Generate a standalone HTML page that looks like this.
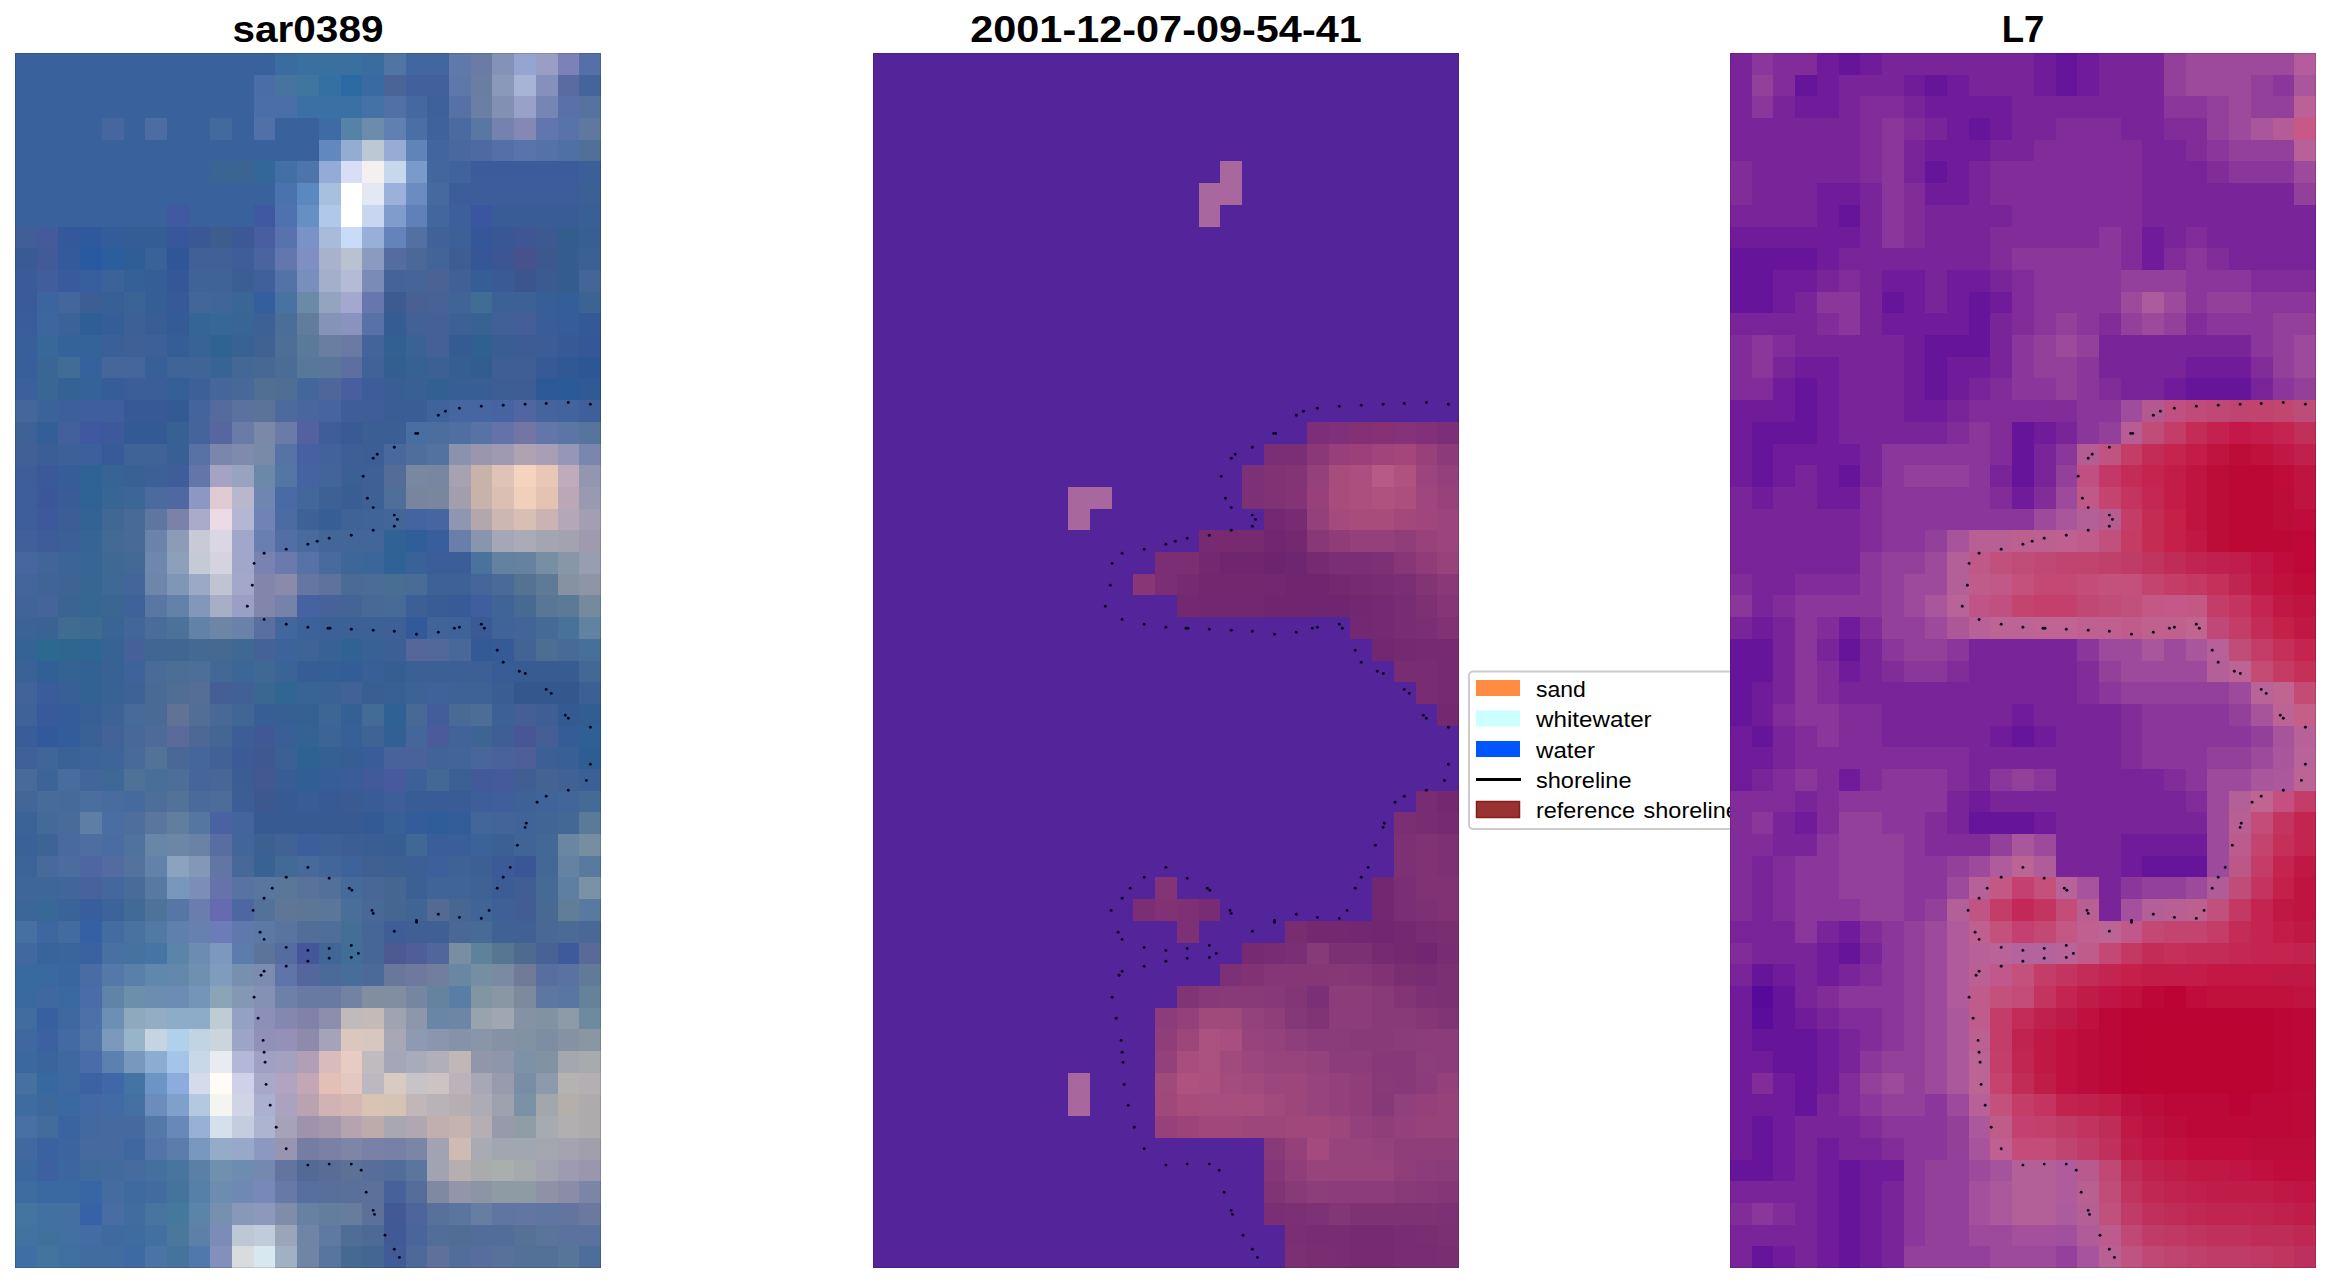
<!DOCTYPE html>
<html><head><meta charset="utf-8"><title>figure</title>
<style>
html,body{margin:0;padding:0;background:#fff;}
body{width:2331px;height:1283px;position:relative;overflow:hidden;font-family:"Liberation Sans",sans-serif;}
.t{position:absolute;top:11px;width:586px;text-align:center;font-weight:bold;font-size:36.5px;line-height:38px;color:#000;white-space:nowrap;letter-spacing:0px}
.l{position:absolute;left:68px;font-size:22px;line-height:24px;color:#000;white-space:nowrap;letter-spacing:0px;transform-origin:0 50%}
</style></head><body>
<svg width="2331" height="1283" viewBox="0 0 2331 1283" style="position:absolute;left:0;top:0">
<rect x="1469" y="671.5" width="300" height="157.5" rx="4" ry="4" fill="#fff" stroke="#ccc" stroke-width="2"/>
<rect x="1476" y="680" width="44" height="16" fill="#ff8c40"/>
<rect x="1476" y="710.5" width="44" height="16" fill="#ccffff"/>
<rect x="1476" y="741" width="44" height="16" fill="#0055ff"/>
<rect x="1476" y="778" width="45" height="3" fill="#000"/>
<rect x="1476.5" y="801.5" width="43" height="16" fill="#993333" stroke="#8b1a1a" stroke-width="1.5"/>

<g shape-rendering="crispEdges">
<rect x="15" y="53" width="586" height="1215" fill="#39629c"/>
<rect x="275" y="53" width="22" height="22" fill="#3a6ca0"/>
<rect x="297" y="53" width="65" height="22" fill="#3a70a0"/>
<rect x="362" y="53" width="22" height="22" fill="#3a6ca0"/>
<rect x="384" y="53" width="22" height="22" fill="#5075a5"/>
<rect x="406" y="53" width="43" height="22" fill="#4166a0"/>
<rect x="449" y="53" width="22" height="22" fill="#6079ab"/>
<rect x="471" y="53" width="21" height="22" fill="#6a7ba5"/>
<rect x="492" y="53" width="22" height="22" fill="#8592b8"/>
<rect x="514" y="53" width="22" height="22" fill="#95a4d0"/>
<rect x="536" y="53" width="22" height="22" fill="#9a9ec4"/>
<rect x="558" y="53" width="21" height="22" fill="#7b82b8"/>
<rect x="579" y="53" width="22" height="22" fill="#5570a8"/>
<rect x="254" y="75" width="21" height="21" fill="#4a6da8"/>
<rect x="275" y="75" width="22" height="21" fill="#46749f"/>
<rect x="297" y="75" width="22" height="21" fill="#3f759f"/>
<rect x="319" y="75" width="22" height="21" fill="#3570a2"/>
<rect x="341" y="75" width="21" height="21" fill="#2c6aa4"/>
<rect x="362" y="75" width="22" height="21" fill="#3a6aa2"/>
<rect x="384" y="75" width="22" height="21" fill="#4a6498"/>
<rect x="406" y="75" width="43" height="21" fill="#41609c"/>
<rect x="449" y="75" width="22" height="21" fill="#5e78aa"/>
<rect x="471" y="75" width="21" height="21" fill="#6a7ea2"/>
<rect x="492" y="75" width="22" height="21" fill="#8a98ba"/>
<rect x="514" y="75" width="22" height="21" fill="#a8b4d6"/>
<rect x="536" y="75" width="22" height="21" fill="#8590bc"/>
<rect x="558" y="75" width="21" height="21" fill="#5a6ba2"/>
<rect x="579" y="75" width="22" height="21" fill="#44659c"/>
<rect x="254" y="96" width="43" height="22" fill="#4a6ea8"/>
<rect x="297" y="96" width="65" height="22" fill="#3b70a4"/>
<rect x="362" y="96" width="22" height="22" fill="#4572a6"/>
<rect x="384" y="96" width="22" height="22" fill="#5070a6"/>
<rect x="406" y="96" width="21" height="22" fill="#4668a0"/>
<rect x="427" y="96" width="22" height="22" fill="#3d619b"/>
<rect x="449" y="96" width="22" height="22" fill="#5672a5"/>
<rect x="471" y="96" width="21" height="22" fill="#6a7fa3"/>
<rect x="492" y="96" width="22" height="22" fill="#8290b4"/>
<rect x="514" y="96" width="22" height="22" fill="#98a2c8"/>
<rect x="536" y="96" width="22" height="22" fill="#7585b4"/>
<rect x="558" y="96" width="21" height="22" fill="#5a70a8"/>
<rect x="579" y="96" width="22" height="22" fill="#56729f"/>
<rect x="102" y="118" width="22" height="22" fill="#46669f"/>
<rect x="145" y="118" width="22" height="22" fill="#4b6da4"/>
<rect x="210" y="118" width="22" height="22" fill="#426a9f"/>
<rect x="254" y="118" width="21" height="22" fill="#5270a8"/>
<rect x="319" y="118" width="22" height="22" fill="#3f6ba4"/>
<rect x="341" y="118" width="21" height="22" fill="#5682a8"/>
<rect x="362" y="118" width="22" height="22" fill="#6c8cac"/>
<rect x="384" y="118" width="22" height="22" fill="#5f80b0"/>
<rect x="406" y="118" width="21" height="22" fill="#4a6ea6"/>
<rect x="427" y="118" width="22" height="22" fill="#3d629c"/>
<rect x="449" y="118" width="22" height="22" fill="#4a6aa0"/>
<rect x="471" y="118" width="21" height="22" fill="#5a76a2"/>
<rect x="492" y="118" width="22" height="22" fill="#7582ae"/>
<rect x="514" y="118" width="22" height="22" fill="#8488b4"/>
<rect x="536" y="118" width="22" height="22" fill="#6076ac"/>
<rect x="558" y="118" width="21" height="22" fill="#5873a8"/>
<rect x="579" y="118" width="22" height="22" fill="#60789f"/>
<rect x="319" y="140" width="22" height="21" fill="#6288c0"/>
<rect x="341" y="140" width="21" height="21" fill="#92acd2"/>
<rect x="362" y="140" width="22" height="21" fill="#bcc8d4"/>
<rect x="384" y="140" width="22" height="21" fill="#96acd4"/>
<rect x="406" y="140" width="21" height="21" fill="#6084b8"/>
<rect x="427" y="140" width="22" height="21" fill="#40659f"/>
<rect x="449" y="140" width="22" height="21" fill="#48689f"/>
<rect x="471" y="140" width="21" height="21" fill="#4d6ba2"/>
<rect x="492" y="140" width="22" height="21" fill="#5570a8"/>
<rect x="514" y="140" width="22" height="21" fill="#5874a8"/>
<rect x="536" y="140" width="22" height="21" fill="#5572a6"/>
<rect x="558" y="140" width="21" height="21" fill="#4f70a2"/>
<rect x="579" y="140" width="22" height="21" fill="#50709a"/>
<rect x="210" y="161" width="44" height="22" fill="#3a6592"/>
<rect x="254" y="161" width="21" height="22" fill="#336699"/>
<rect x="275" y="161" width="22" height="22" fill="#4270a6"/>
<rect x="297" y="161" width="22" height="22" fill="#4e74ac"/>
<rect x="319" y="161" width="22" height="22" fill="#94aad8"/>
<rect x="341" y="161" width="21" height="22" fill="#d8def8"/>
<rect x="362" y="161" width="22" height="22" fill="#f4f0f0"/>
<rect x="384" y="161" width="22" height="22" fill="#c8d8ec"/>
<rect x="406" y="161" width="21" height="22" fill="#7a9acc"/>
<rect x="427" y="161" width="22" height="22" fill="#42679f"/>
<rect x="449" y="161" width="22" height="22" fill="#41639d"/>
<rect x="471" y="161" width="108" height="22" fill="#3b5b9b"/>
<rect x="579" y="161" width="22" height="22" fill="#3b5f98"/>
<rect x="275" y="183" width="22" height="22" fill="#4a72ac"/>
<rect x="297" y="183" width="22" height="22" fill="#5a88c0"/>
<rect x="319" y="183" width="22" height="22" fill="#a8c0e0"/>
<rect x="341" y="183" width="21" height="22" fill="#ffffff"/>
<rect x="362" y="183" width="22" height="22" fill="#e4e8f2"/>
<rect x="384" y="183" width="22" height="22" fill="#9cb0dc"/>
<rect x="406" y="183" width="21" height="22" fill="#6a8cc0"/>
<rect x="427" y="183" width="22" height="22" fill="#456a9f"/>
<rect x="449" y="183" width="130" height="22" fill="#3c5c9a"/>
<rect x="579" y="183" width="22" height="22" fill="#3a6096"/>
<rect x="167" y="205" width="22" height="22" fill="#4059a0"/>
<rect x="254" y="205" width="21" height="22" fill="#4058a0"/>
<rect x="275" y="205" width="22" height="22" fill="#4e72b0"/>
<rect x="297" y="205" width="22" height="22" fill="#6690c4"/>
<rect x="319" y="205" width="22" height="22" fill="#b0c8ea"/>
<rect x="341" y="205" width="21" height="22" fill="#ffffff"/>
<rect x="362" y="205" width="22" height="22" fill="#c8d6f0"/>
<rect x="384" y="205" width="22" height="22" fill="#7f9ccc"/>
<rect x="406" y="205" width="21" height="22" fill="#5f80b8"/>
<rect x="427" y="205" width="22" height="22" fill="#42669e"/>
<rect x="449" y="205" width="22" height="22" fill="#3d5f9c"/>
<rect x="471" y="205" width="21" height="22" fill="#3b55a0"/>
<rect x="492" y="205" width="87" height="22" fill="#395c96"/>
<rect x="579" y="205" width="22" height="22" fill="#396096"/>
<rect x="15" y="227" width="22" height="21" fill="#415e99"/>
<rect x="37" y="227" width="21" height="21" fill="#455a9b"/>
<rect x="58" y="227" width="22" height="21" fill="#34589b"/>
<rect x="80" y="227" width="22" height="21" fill="#2e5a9d"/>
<rect x="102" y="227" width="22" height="21" fill="#325d99"/>
<rect x="124" y="227" width="43" height="21" fill="#345d95"/>
<rect x="167" y="227" width="22" height="21" fill="#37569b"/>
<rect x="189" y="227" width="21" height="21" fill="#395895"/>
<rect x="210" y="227" width="22" height="21" fill="#3c5d8d"/>
<rect x="232" y="227" width="22" height="21" fill="#3c5895"/>
<rect x="254" y="227" width="21" height="21" fill="#495ea1"/>
<rect x="275" y="227" width="22" height="21" fill="#5772ad"/>
<rect x="297" y="227" width="22" height="21" fill="#7a93c7"/>
<rect x="319" y="227" width="22" height="21" fill="#a8bbdb"/>
<rect x="341" y="227" width="21" height="21" fill="#c8dbf7"/>
<rect x="362" y="227" width="22" height="21" fill="#98afd7"/>
<rect x="384" y="227" width="22" height="21" fill="#6483bb"/>
<rect x="406" y="227" width="21" height="21" fill="#5370a3"/>
<rect x="427" y="227" width="22" height="21" fill="#416299"/>
<rect x="449" y="227" width="22" height="21" fill="#3e6099"/>
<rect x="471" y="227" width="21" height="21" fill="#355699"/>
<rect x="492" y="227" width="22" height="21" fill="#395695"/>
<rect x="514" y="227" width="22" height="21" fill="#3f5695"/>
<rect x="536" y="227" width="22" height="21" fill="#3c5a91"/>
<rect x="558" y="227" width="21" height="21" fill="#325d8c"/>
<rect x="579" y="227" width="22" height="21" fill="#395e93"/>
<rect x="15" y="248" width="22" height="22" fill="#395a95"/>
<rect x="37" y="248" width="21" height="22" fill="#435a99"/>
<rect x="58" y="248" width="22" height="22" fill="#345a9c"/>
<rect x="80" y="248" width="22" height="22" fill="#295aa1"/>
<rect x="102" y="248" width="22" height="22" fill="#2b5e9d"/>
<rect x="124" y="248" width="21" height="22" fill="#2f5e97"/>
<rect x="145" y="248" width="22" height="22" fill="#396299"/>
<rect x="167" y="248" width="22" height="22" fill="#2f5697"/>
<rect x="189" y="248" width="43" height="22" fill="#416097"/>
<rect x="232" y="248" width="22" height="22" fill="#3f5e99"/>
<rect x="254" y="248" width="21" height="22" fill="#49649f"/>
<rect x="275" y="248" width="22" height="22" fill="#6376ad"/>
<rect x="297" y="248" width="22" height="22" fill="#808fc3"/>
<rect x="319" y="248" width="22" height="22" fill="#a8b3cb"/>
<rect x="341" y="248" width="21" height="22" fill="#b8c3cf"/>
<rect x="362" y="248" width="22" height="22" fill="#8a9bbf"/>
<rect x="384" y="248" width="22" height="22" fill="#556ca1"/>
<rect x="406" y="248" width="21" height="22" fill="#4b6899"/>
<rect x="427" y="248" width="22" height="22" fill="#436497"/>
<rect x="449" y="248" width="22" height="22" fill="#3e5e93"/>
<rect x="471" y="248" width="21" height="22" fill="#375697"/>
<rect x="492" y="248" width="22" height="22" fill="#3b5693"/>
<rect x="514" y="248" width="22" height="22" fill="#47528d"/>
<rect x="536" y="248" width="22" height="22" fill="#3d588d"/>
<rect x="558" y="248" width="21" height="22" fill="#345d8d"/>
<rect x="579" y="248" width="22" height="22" fill="#3b6093"/>
<rect x="15" y="270" width="22" height="22" fill="#3a5b99"/>
<rect x="37" y="270" width="21" height="22" fill="#415d9c"/>
<rect x="58" y="270" width="22" height="22" fill="#395a9d"/>
<rect x="80" y="270" width="22" height="22" fill="#375e9d"/>
<rect x="102" y="270" width="22" height="22" fill="#3b6299"/>
<rect x="124" y="270" width="21" height="22" fill="#356097"/>
<rect x="145" y="270" width="22" height="22" fill="#355e97"/>
<rect x="167" y="270" width="22" height="22" fill="#345897"/>
<rect x="189" y="270" width="43" height="22" fill="#3f6297"/>
<rect x="232" y="270" width="22" height="22" fill="#3b5e95"/>
<rect x="254" y="270" width="21" height="22" fill="#3f609b"/>
<rect x="275" y="270" width="22" height="22" fill="#5372a7"/>
<rect x="297" y="270" width="22" height="22" fill="#788fbb"/>
<rect x="319" y="270" width="22" height="22" fill="#a4afcb"/>
<rect x="341" y="270" width="21" height="22" fill="#b4bbd7"/>
<rect x="362" y="270" width="22" height="22" fill="#7a8bb7"/>
<rect x="384" y="270" width="22" height="22" fill="#456299"/>
<rect x="406" y="270" width="21" height="22" fill="#456497"/>
<rect x="427" y="270" width="22" height="22" fill="#4b6295"/>
<rect x="449" y="270" width="22" height="22" fill="#416097"/>
<rect x="471" y="270" width="21" height="22" fill="#355e97"/>
<rect x="492" y="270" width="22" height="22" fill="#395a95"/>
<rect x="514" y="270" width="22" height="22" fill="#3b568f"/>
<rect x="536" y="270" width="22" height="22" fill="#3b5a91"/>
<rect x="558" y="270" width="21" height="22" fill="#345d8d"/>
<rect x="579" y="270" width="22" height="22" fill="#446697"/>
<rect x="15" y="292" width="22" height="21" fill="#3a5b9a"/>
<rect x="37" y="292" width="21" height="21" fill="#3c649f"/>
<rect x="58" y="292" width="22" height="21" fill="#43669d"/>
<rect x="80" y="292" width="22" height="21" fill="#3d5e95"/>
<rect x="102" y="292" width="22" height="21" fill="#376097"/>
<rect x="124" y="292" width="21" height="21" fill="#396495"/>
<rect x="145" y="292" width="22" height="21" fill="#355e97"/>
<rect x="167" y="292" width="22" height="21" fill="#355a97"/>
<rect x="189" y="292" width="21" height="21" fill="#416697"/>
<rect x="210" y="292" width="22" height="21" fill="#3f6697"/>
<rect x="232" y="292" width="22" height="21" fill="#396695"/>
<rect x="254" y="292" width="21" height="21" fill="#345e9d"/>
<rect x="275" y="292" width="22" height="21" fill="#4772a1"/>
<rect x="297" y="292" width="22" height="21" fill="#6b8aa7"/>
<rect x="319" y="292" width="22" height="21" fill="#94a3bf"/>
<rect x="341" y="292" width="21" height="21" fill="#a4a7cf"/>
<rect x="362" y="292" width="22" height="21" fill="#6776ad"/>
<rect x="384" y="292" width="22" height="21" fill="#3d5a91"/>
<rect x="406" y="292" width="21" height="21" fill="#496095"/>
<rect x="427" y="292" width="22" height="21" fill="#496295"/>
<rect x="449" y="292" width="22" height="21" fill="#416497"/>
<rect x="471" y="292" width="21" height="21" fill="#416c95"/>
<rect x="492" y="292" width="44" height="21" fill="#3c6197"/>
<rect x="536" y="292" width="22" height="21" fill="#375e97"/>
<rect x="558" y="292" width="21" height="21" fill="#335e97"/>
<rect x="579" y="292" width="22" height="21" fill="#3b6495"/>
<rect x="15" y="313" width="22" height="22" fill="#395d9b"/>
<rect x="37" y="313" width="21" height="22" fill="#3c669d"/>
<rect x="58" y="313" width="22" height="22" fill="#3b6299"/>
<rect x="80" y="313" width="22" height="22" fill="#2f5e97"/>
<rect x="102" y="313" width="22" height="22" fill="#355d97"/>
<rect x="124" y="313" width="21" height="22" fill="#3d6097"/>
<rect x="145" y="313" width="22" height="22" fill="#395e95"/>
<rect x="167" y="313" width="22" height="22" fill="#355b97"/>
<rect x="189" y="313" width="21" height="22" fill="#356497"/>
<rect x="210" y="313" width="22" height="22" fill="#376895"/>
<rect x="232" y="313" width="22" height="22" fill="#376695"/>
<rect x="254" y="313" width="21" height="22" fill="#3d6095"/>
<rect x="275" y="313" width="22" height="22" fill="#4b6e99"/>
<rect x="297" y="313" width="22" height="22" fill="#617c9d"/>
<rect x="319" y="313" width="22" height="22" fill="#8493b7"/>
<rect x="341" y="313" width="21" height="22" fill="#8a93bf"/>
<rect x="362" y="313" width="22" height="22" fill="#5972a5"/>
<rect x="384" y="313" width="22" height="22" fill="#355d93"/>
<rect x="406" y="313" width="21" height="22" fill="#436097"/>
<rect x="427" y="313" width="22" height="22" fill="#456095"/>
<rect x="449" y="313" width="22" height="22" fill="#3e6193"/>
<rect x="471" y="313" width="21" height="22" fill="#376291"/>
<rect x="492" y="313" width="22" height="22" fill="#416097"/>
<rect x="514" y="313" width="22" height="22" fill="#455e99"/>
<rect x="536" y="313" width="22" height="22" fill="#395d99"/>
<rect x="558" y="313" width="21" height="22" fill="#355d99"/>
<rect x="579" y="313" width="22" height="22" fill="#355897"/>
<rect x="15" y="335" width="22" height="22" fill="#395f9b"/>
<rect x="37" y="335" width="21" height="22" fill="#376899"/>
<rect x="58" y="335" width="44" height="22" fill="#346399"/>
<rect x="102" y="335" width="22" height="22" fill="#3b6099"/>
<rect x="124" y="335" width="21" height="22" fill="#3f6097"/>
<rect x="145" y="335" width="22" height="22" fill="#3c6097"/>
<rect x="167" y="335" width="22" height="22" fill="#355e97"/>
<rect x="189" y="335" width="21" height="22" fill="#376397"/>
<rect x="210" y="335" width="22" height="22" fill="#2f6491"/>
<rect x="232" y="335" width="22" height="22" fill="#376291"/>
<rect x="254" y="335" width="21" height="22" fill="#3f6293"/>
<rect x="275" y="335" width="22" height="22" fill="#4d6e97"/>
<rect x="297" y="335" width="22" height="22" fill="#597a99"/>
<rect x="319" y="335" width="22" height="22" fill="#697ea1"/>
<rect x="341" y="335" width="21" height="22" fill="#6b7aa5"/>
<rect x="362" y="335" width="22" height="22" fill="#43649b"/>
<rect x="384" y="335" width="22" height="22" fill="#326091"/>
<rect x="406" y="335" width="21" height="22" fill="#3b6295"/>
<rect x="427" y="335" width="22" height="22" fill="#456095"/>
<rect x="449" y="335" width="22" height="22" fill="#355b93"/>
<rect x="471" y="335" width="21" height="22" fill="#2f608f"/>
<rect x="492" y="335" width="22" height="22" fill="#395e93"/>
<rect x="514" y="335" width="22" height="22" fill="#3d5c95"/>
<rect x="536" y="335" width="22" height="22" fill="#3b5c97"/>
<rect x="558" y="335" width="21" height="22" fill="#375a97"/>
<rect x="579" y="335" width="22" height="22" fill="#355697"/>
<rect x="15" y="357" width="22" height="21" fill="#395f9b"/>
<rect x="37" y="357" width="21" height="21" fill="#396695"/>
<rect x="58" y="357" width="22" height="21" fill="#416c95"/>
<rect x="80" y="357" width="22" height="21" fill="#35629d"/>
<rect x="102" y="357" width="43" height="21" fill="#45669b"/>
<rect x="145" y="357" width="22" height="21" fill="#376099"/>
<rect x="167" y="357" width="22" height="21" fill="#3f6497"/>
<rect x="189" y="357" width="21" height="21" fill="#416497"/>
<rect x="210" y="357" width="22" height="21" fill="#376495"/>
<rect x="232" y="357" width="22" height="21" fill="#436895"/>
<rect x="254" y="357" width="21" height="21" fill="#476893"/>
<rect x="275" y="357" width="22" height="21" fill="#4b6c95"/>
<rect x="297" y="357" width="22" height="21" fill="#577899"/>
<rect x="319" y="357" width="22" height="21" fill="#5b769b"/>
<rect x="341" y="357" width="21" height="21" fill="#5d6ea1"/>
<rect x="362" y="357" width="22" height="21" fill="#416299"/>
<rect x="384" y="357" width="22" height="21" fill="#335e91"/>
<rect x="406" y="357" width="21" height="21" fill="#376093"/>
<rect x="427" y="357" width="22" height="21" fill="#3c6093"/>
<rect x="449" y="357" width="22" height="21" fill="#355e93"/>
<rect x="471" y="357" width="21" height="21" fill="#335d91"/>
<rect x="492" y="357" width="44" height="21" fill="#3f5e95"/>
<rect x="536" y="357" width="22" height="21" fill="#375a97"/>
<rect x="558" y="357" width="21" height="21" fill="#2f5895"/>
<rect x="579" y="357" width="22" height="21" fill="#2d5695"/>
<rect x="15" y="378" width="22" height="22" fill="#3b609b"/>
<rect x="37" y="378" width="21" height="22" fill="#396695"/>
<rect x="58" y="378" width="22" height="22" fill="#356295"/>
<rect x="80" y="378" width="22" height="22" fill="#356299"/>
<rect x="102" y="378" width="22" height="22" fill="#375d99"/>
<rect x="124" y="378" width="43" height="22" fill="#3b5e99"/>
<rect x="167" y="378" width="22" height="22" fill="#356097"/>
<rect x="189" y="378" width="21" height="22" fill="#3d6099"/>
<rect x="210" y="378" width="22" height="22" fill="#45669b"/>
<rect x="232" y="378" width="22" height="22" fill="#476899"/>
<rect x="254" y="378" width="21" height="22" fill="#517091"/>
<rect x="275" y="378" width="22" height="22" fill="#4f6e93"/>
<rect x="297" y="378" width="22" height="22" fill="#43679b"/>
<rect x="319" y="378" width="22" height="22" fill="#4f669b"/>
<rect x="341" y="378" width="21" height="22" fill="#495e9f"/>
<rect x="362" y="378" width="22" height="22" fill="#3d5c99"/>
<rect x="384" y="378" width="22" height="22" fill="#395d95"/>
<rect x="406" y="378" width="21" height="22" fill="#396095"/>
<rect x="427" y="378" width="22" height="22" fill="#336093"/>
<rect x="449" y="378" width="22" height="22" fill="#375e95"/>
<rect x="471" y="378" width="21" height="22" fill="#395e95"/>
<rect x="492" y="378" width="44" height="22" fill="#3d5d95"/>
<rect x="536" y="378" width="22" height="22" fill="#2d5a97"/>
<rect x="558" y="378" width="21" height="22" fill="#2b5a99"/>
<rect x="579" y="378" width="22" height="22" fill="#2f5a95"/>
<rect x="15" y="400" width="22" height="22" fill="#43669b"/>
<rect x="37" y="400" width="21" height="22" fill="#3b6399"/>
<rect x="58" y="400" width="22" height="22" fill="#3d609d"/>
<rect x="80" y="400" width="44" height="22" fill="#3f5e9d"/>
<rect x="124" y="400" width="43" height="22" fill="#375a97"/>
<rect x="167" y="400" width="22" height="22" fill="#335a93"/>
<rect x="189" y="400" width="21" height="22" fill="#43649d"/>
<rect x="210" y="400" width="22" height="22" fill="#556a9d"/>
<rect x="232" y="400" width="22" height="22" fill="#5b729f"/>
<rect x="254" y="400" width="21" height="22" fill="#5b7299"/>
<rect x="275" y="400" width="22" height="22" fill="#4d6a9d"/>
<rect x="297" y="400" width="22" height="22" fill="#49669f"/>
<rect x="319" y="400" width="22" height="22" fill="#4764a1"/>
<rect x="341" y="400" width="43" height="22" fill="#3f5e99"/>
<rect x="384" y="400" width="43" height="22" fill="#395d95"/>
<rect x="427" y="400" width="22" height="22" fill="#3f649b"/>
<rect x="449" y="400" width="43" height="22" fill="#4566a1"/>
<rect x="492" y="400" width="22" height="22" fill="#4564a1"/>
<rect x="514" y="400" width="22" height="22" fill="#4f66a1"/>
<rect x="536" y="400" width="22" height="22" fill="#45649d"/>
<rect x="558" y="400" width="21" height="22" fill="#43639d"/>
<rect x="579" y="400" width="22" height="22" fill="#3e5f99"/>
<rect x="15" y="422" width="22" height="22" fill="#3e6197"/>
<rect x="37" y="422" width="21" height="22" fill="#335e97"/>
<rect x="58" y="422" width="22" height="22" fill="#43609d"/>
<rect x="80" y="422" width="22" height="22" fill="#3f589f"/>
<rect x="102" y="422" width="22" height="22" fill="#3d589b"/>
<rect x="124" y="422" width="43" height="22" fill="#335a95"/>
<rect x="167" y="422" width="22" height="22" fill="#376093"/>
<rect x="189" y="422" width="21" height="22" fill="#45649b"/>
<rect x="210" y="422" width="22" height="22" fill="#57669f"/>
<rect x="232" y="422" width="22" height="22" fill="#697ca7"/>
<rect x="254" y="422" width="21" height="22" fill="#7b88a9"/>
<rect x="275" y="422" width="22" height="22" fill="#6b7aa7"/>
<rect x="297" y="422" width="22" height="22" fill="#53629f"/>
<rect x="319" y="422" width="22" height="22" fill="#3f5e99"/>
<rect x="341" y="422" width="21" height="22" fill="#395a95"/>
<rect x="362" y="422" width="44" height="22" fill="#3b5e95"/>
<rect x="406" y="422" width="21" height="22" fill="#496ea1"/>
<rect x="427" y="422" width="22" height="22" fill="#4b6e9f"/>
<rect x="449" y="422" width="22" height="22" fill="#4f6ea1"/>
<rect x="471" y="422" width="21" height="22" fill="#5772a5"/>
<rect x="492" y="422" width="22" height="22" fill="#6372a9"/>
<rect x="514" y="422" width="22" height="22" fill="#7376a5"/>
<rect x="536" y="422" width="22" height="22" fill="#6376a9"/>
<rect x="558" y="422" width="21" height="22" fill="#5b76a5"/>
<rect x="579" y="422" width="22" height="22" fill="#57749c"/>
<rect x="15" y="444" width="22" height="21" fill="#416095"/>
<rect x="37" y="444" width="21" height="21" fill="#3b5e97"/>
<rect x="58" y="444" width="22" height="21" fill="#3d6099"/>
<rect x="80" y="444" width="22" height="21" fill="#3b609b"/>
<rect x="102" y="444" width="22" height="21" fill="#375a99"/>
<rect x="124" y="444" width="43" height="21" fill="#3f6297"/>
<rect x="167" y="444" width="22" height="21" fill="#396095"/>
<rect x="189" y="444" width="21" height="21" fill="#5972a5"/>
<rect x="210" y="444" width="22" height="21" fill="#7b86ad"/>
<rect x="232" y="444" width="22" height="21" fill="#7f8aad"/>
<rect x="254" y="444" width="21" height="21" fill="#798aa9"/>
<rect x="275" y="444" width="22" height="21" fill="#5772a5"/>
<rect x="297" y="444" width="22" height="21" fill="#4760a1"/>
<rect x="319" y="444" width="22" height="21" fill="#41629b"/>
<rect x="341" y="444" width="21" height="21" fill="#3d5e97"/>
<rect x="362" y="444" width="22" height="21" fill="#3b5e95"/>
<rect x="384" y="444" width="22" height="21" fill="#49689b"/>
<rect x="406" y="444" width="21" height="21" fill="#4f6e9c"/>
<rect x="427" y="444" width="22" height="21" fill="#53729f"/>
<rect x="449" y="444" width="22" height="21" fill="#8b92ad"/>
<rect x="471" y="444" width="21" height="21" fill="#9996ad"/>
<rect x="492" y="444" width="22" height="21" fill="#9f9ab1"/>
<rect x="514" y="444" width="22" height="21" fill="#afa2b1"/>
<rect x="536" y="444" width="22" height="21" fill="#a89fb7"/>
<rect x="558" y="444" width="21" height="21" fill="#9497b7"/>
<rect x="579" y="444" width="22" height="21" fill="#7986ad"/>
<rect x="15" y="465" width="22" height="22" fill="#3f5e99"/>
<rect x="37" y="465" width="21" height="22" fill="#3b5899"/>
<rect x="58" y="465" width="22" height="22" fill="#375d99"/>
<rect x="80" y="465" width="22" height="22" fill="#2f6295"/>
<rect x="102" y="465" width="22" height="22" fill="#376493"/>
<rect x="124" y="465" width="21" height="22" fill="#396293"/>
<rect x="145" y="465" width="22" height="22" fill="#3c6097"/>
<rect x="167" y="465" width="22" height="22" fill="#3f5e99"/>
<rect x="189" y="465" width="21" height="22" fill="#6376a9"/>
<rect x="210" y="465" width="22" height="22" fill="#a4a3c3"/>
<rect x="232" y="465" width="22" height="22" fill="#98a3bf"/>
<rect x="254" y="465" width="21" height="22" fill="#6b88a9"/>
<rect x="275" y="465" width="22" height="22" fill="#5376a5"/>
<rect x="297" y="465" width="22" height="22" fill="#4562a1"/>
<rect x="319" y="465" width="22" height="22" fill="#436499"/>
<rect x="341" y="465" width="21" height="22" fill="#3b6095"/>
<rect x="362" y="465" width="22" height="22" fill="#3f6097"/>
<rect x="384" y="465" width="22" height="22" fill="#556c99"/>
<rect x="406" y="465" width="21" height="22" fill="#7988a1"/>
<rect x="427" y="465" width="22" height="22" fill="#7986a1"/>
<rect x="449" y="465" width="22" height="22" fill="#a7a2b1"/>
<rect x="471" y="465" width="21" height="22" fill="#c8b3ab"/>
<rect x="492" y="465" width="22" height="22" fill="#e0c3b7"/>
<rect x="514" y="465" width="22" height="22" fill="#f4d3bf"/>
<rect x="536" y="465" width="22" height="22" fill="#e8c7b7"/>
<rect x="558" y="465" width="21" height="22" fill="#c0abbb"/>
<rect x="579" y="465" width="22" height="22" fill="#9396b1"/>
<rect x="15" y="487" width="22" height="22" fill="#3e5d9b"/>
<rect x="37" y="487" width="21" height="22" fill="#3b5699"/>
<rect x="58" y="487" width="22" height="22" fill="#395c97"/>
<rect x="80" y="487" width="22" height="22" fill="#2f6295"/>
<rect x="102" y="487" width="22" height="22" fill="#376695"/>
<rect x="124" y="487" width="21" height="22" fill="#3b6695"/>
<rect x="145" y="487" width="22" height="22" fill="#4b6a9d"/>
<rect x="167" y="487" width="22" height="22" fill="#4f68a1"/>
<rect x="189" y="487" width="21" height="22" fill="#8c97c3"/>
<rect x="210" y="487" width="22" height="22" fill="#e0cbd3"/>
<rect x="232" y="487" width="22" height="22" fill="#b8b7cb"/>
<rect x="254" y="487" width="21" height="22" fill="#6f86b1"/>
<rect x="275" y="487" width="22" height="22" fill="#496aa5"/>
<rect x="297" y="487" width="22" height="22" fill="#43669b"/>
<rect x="319" y="487" width="22" height="22" fill="#3d6095"/>
<rect x="341" y="487" width="21" height="22" fill="#395e93"/>
<rect x="362" y="487" width="22" height="22" fill="#3f6095"/>
<rect x="384" y="487" width="22" height="22" fill="#4f6e99"/>
<rect x="406" y="487" width="21" height="22" fill="#77869c"/>
<rect x="427" y="487" width="22" height="22" fill="#79869d"/>
<rect x="449" y="487" width="22" height="22" fill="#a39ead"/>
<rect x="471" y="487" width="21" height="22" fill="#c8b3ab"/>
<rect x="492" y="487" width="22" height="22" fill="#dcbfb3"/>
<rect x="514" y="487" width="22" height="22" fill="#f0cfbb"/>
<rect x="536" y="487" width="22" height="22" fill="#e4c3b3"/>
<rect x="558" y="487" width="21" height="22" fill="#bca7b7"/>
<rect x="579" y="487" width="22" height="22" fill="#999ab1"/>
<rect x="15" y="509" width="22" height="21" fill="#3e5d9b"/>
<rect x="37" y="509" width="21" height="21" fill="#3d589b"/>
<rect x="58" y="509" width="22" height="21" fill="#3d5d97"/>
<rect x="80" y="509" width="22" height="21" fill="#336295"/>
<rect x="102" y="509" width="22" height="21" fill="#416895"/>
<rect x="124" y="509" width="21" height="21" fill="#476a97"/>
<rect x="145" y="509" width="22" height="21" fill="#5f76a1"/>
<rect x="167" y="509" width="22" height="21" fill="#7b82a9"/>
<rect x="189" y="509" width="21" height="21" fill="#aaabcb"/>
<rect x="210" y="509" width="22" height="21" fill="#ecdbe7"/>
<rect x="232" y="509" width="22" height="21" fill="#b4b7d3"/>
<rect x="254" y="509" width="21" height="21" fill="#7083b7"/>
<rect x="275" y="509" width="22" height="21" fill="#4b6ca3"/>
<rect x="297" y="509" width="22" height="21" fill="#3d6295"/>
<rect x="319" y="509" width="22" height="21" fill="#375e95"/>
<rect x="341" y="509" width="21" height="21" fill="#3f6297"/>
<rect x="362" y="509" width="22" height="21" fill="#3f6497"/>
<rect x="384" y="509" width="22" height="21" fill="#436699"/>
<rect x="406" y="509" width="21" height="21" fill="#4364a1"/>
<rect x="427" y="509" width="22" height="21" fill="#4766a1"/>
<rect x="449" y="509" width="22" height="21" fill="#8f96b1"/>
<rect x="471" y="509" width="21" height="21" fill="#b3a6ad"/>
<rect x="492" y="509" width="22" height="21" fill="#ccb7b3"/>
<rect x="514" y="509" width="22" height="21" fill="#d8bfb3"/>
<rect x="536" y="509" width="22" height="21" fill="#ccb3b3"/>
<rect x="558" y="509" width="21" height="21" fill="#b4a7b7"/>
<rect x="579" y="509" width="22" height="21" fill="#a39eb1"/>
<rect x="15" y="530" width="22" height="22" fill="#41609b"/>
<rect x="37" y="530" width="21" height="22" fill="#3d5c99"/>
<rect x="58" y="530" width="22" height="22" fill="#3b6097"/>
<rect x="80" y="530" width="22" height="22" fill="#356495"/>
<rect x="102" y="530" width="22" height="22" fill="#436a95"/>
<rect x="124" y="530" width="21" height="22" fill="#476a97"/>
<rect x="145" y="530" width="22" height="22" fill="#6b82a9"/>
<rect x="167" y="530" width="22" height="22" fill="#8c9bb7"/>
<rect x="189" y="530" width="21" height="22" fill="#c8cbd7"/>
<rect x="210" y="530" width="22" height="22" fill="#d8d7e3"/>
<rect x="232" y="530" width="22" height="22" fill="#a0a7cb"/>
<rect x="254" y="530" width="21" height="22" fill="#697eb1"/>
<rect x="275" y="530" width="22" height="22" fill="#536ea5"/>
<rect x="297" y="530" width="22" height="22" fill="#496a9d"/>
<rect x="319" y="530" width="65" height="22" fill="#436699"/>
<rect x="384" y="530" width="22" height="22" fill="#316295"/>
<rect x="406" y="530" width="21" height="22" fill="#2f5e99"/>
<rect x="427" y="530" width="22" height="22" fill="#395e9d"/>
<rect x="449" y="530" width="22" height="22" fill="#697ea9"/>
<rect x="471" y="530" width="21" height="22" fill="#8796ad"/>
<rect x="492" y="530" width="22" height="22" fill="#a4a7b7"/>
<rect x="514" y="530" width="22" height="22" fill="#aaabb7"/>
<rect x="536" y="530" width="22" height="22" fill="#a3a6b1"/>
<rect x="558" y="530" width="21" height="22" fill="#a3a2b1"/>
<rect x="579" y="530" width="22" height="22" fill="#9f9aad"/>
<rect x="15" y="552" width="22" height="22" fill="#47669f"/>
<rect x="37" y="552" width="21" height="22" fill="#416499"/>
<rect x="58" y="552" width="22" height="22" fill="#3b6497"/>
<rect x="80" y="552" width="22" height="22" fill="#376695"/>
<rect x="102" y="552" width="22" height="22" fill="#3f6895"/>
<rect x="124" y="552" width="21" height="22" fill="#436a95"/>
<rect x="145" y="552" width="22" height="22" fill="#6f86ad"/>
<rect x="167" y="552" width="22" height="22" fill="#8c9fbb"/>
<rect x="189" y="552" width="21" height="22" fill="#c4cbd7"/>
<rect x="210" y="552" width="22" height="22" fill="#d4d3df"/>
<rect x="232" y="552" width="22" height="22" fill="#a0a7cb"/>
<rect x="254" y="552" width="21" height="22" fill="#7982b1"/>
<rect x="275" y="552" width="22" height="22" fill="#6b7aad"/>
<rect x="297" y="552" width="22" height="22" fill="#5772a5"/>
<rect x="319" y="552" width="22" height="22" fill="#496a9d"/>
<rect x="341" y="552" width="21" height="22" fill="#3e6699"/>
<rect x="362" y="552" width="22" height="22" fill="#3b6699"/>
<rect x="384" y="552" width="22" height="22" fill="#2f6295"/>
<rect x="406" y="552" width="21" height="22" fill="#396299"/>
<rect x="427" y="552" width="44" height="22" fill="#3b5e99"/>
<rect x="471" y="552" width="21" height="22" fill="#49729d"/>
<rect x="492" y="552" width="22" height="22" fill="#6382a1"/>
<rect x="514" y="552" width="22" height="22" fill="#6782a1"/>
<rect x="536" y="552" width="22" height="22" fill="#778ea5"/>
<rect x="558" y="552" width="21" height="22" fill="#8796a9"/>
<rect x="579" y="552" width="22" height="22" fill="#979eb1"/>
<rect x="15" y="574" width="22" height="21" fill="#42669c"/>
<rect x="37" y="574" width="21" height="21" fill="#406496"/>
<rect x="58" y="574" width="22" height="21" fill="#3e6494"/>
<rect x="80" y="574" width="22" height="21" fill="#386692"/>
<rect x="102" y="574" width="22" height="21" fill="#406894"/>
<rect x="124" y="574" width="21" height="21" fill="#42669a"/>
<rect x="145" y="574" width="22" height="21" fill="#6d86aa"/>
<rect x="167" y="574" width="22" height="21" fill="#7f97b6"/>
<rect x="189" y="574" width="21" height="21" fill="#9ba9c6"/>
<rect x="210" y="574" width="22" height="21" fill="#bfc3d2"/>
<rect x="232" y="574" width="22" height="21" fill="#a3a7ca"/>
<rect x="254" y="574" width="21" height="21" fill="#8286aa"/>
<rect x="275" y="574" width="22" height="21" fill="#8a8aaa"/>
<rect x="297" y="574" width="22" height="21" fill="#6676a2"/>
<rect x="319" y="574" width="22" height="21" fill="#5e729e"/>
<rect x="341" y="574" width="21" height="21" fill="#4c6a96"/>
<rect x="362" y="574" width="22" height="21" fill="#4a6c96"/>
<rect x="384" y="574" width="22" height="21" fill="#486e94"/>
<rect x="406" y="574" width="21" height="21" fill="#486c96"/>
<rect x="427" y="574" width="22" height="21" fill="#3d6296"/>
<rect x="449" y="574" width="22" height="21" fill="#3e6296"/>
<rect x="471" y="574" width="21" height="21" fill="#46669a"/>
<rect x="492" y="574" width="22" height="21" fill="#4a6a9a"/>
<rect x="514" y="574" width="22" height="21" fill="#567292"/>
<rect x="536" y="574" width="22" height="21" fill="#5e7a96"/>
<rect x="558" y="574" width="21" height="21" fill="#8692a2"/>
<rect x="579" y="574" width="22" height="21" fill="#8e96a6"/>
<rect x="15" y="595" width="22" height="22" fill="#406499"/>
<rect x="37" y="595" width="21" height="22" fill="#44649a"/>
<rect x="58" y="595" width="22" height="22" fill="#3c6492"/>
<rect x="80" y="595" width="22" height="22" fill="#366692"/>
<rect x="102" y="595" width="22" height="22" fill="#3c6692"/>
<rect x="124" y="595" width="21" height="22" fill="#3e629a"/>
<rect x="145" y="595" width="22" height="22" fill="#5a76a2"/>
<rect x="167" y="595" width="22" height="22" fill="#6282aa"/>
<rect x="189" y="595" width="21" height="22" fill="#8397ba"/>
<rect x="210" y="595" width="22" height="22" fill="#a7afc6"/>
<rect x="232" y="595" width="22" height="22" fill="#9b9fc6"/>
<rect x="254" y="595" width="21" height="22" fill="#8286aa"/>
<rect x="275" y="595" width="22" height="22" fill="#7682aa"/>
<rect x="297" y="595" width="22" height="22" fill="#4662a2"/>
<rect x="319" y="595" width="22" height="22" fill="#466299"/>
<rect x="341" y="595" width="21" height="22" fill="#446496"/>
<rect x="362" y="595" width="22" height="22" fill="#486896"/>
<rect x="384" y="595" width="22" height="22" fill="#486a96"/>
<rect x="406" y="595" width="21" height="22" fill="#3c6096"/>
<rect x="427" y="595" width="22" height="22" fill="#385c96"/>
<rect x="449" y="595" width="22" height="22" fill="#385a96"/>
<rect x="471" y="595" width="21" height="22" fill="#3e5e9e"/>
<rect x="492" y="595" width="22" height="22" fill="#406496"/>
<rect x="514" y="595" width="22" height="22" fill="#486a92"/>
<rect x="536" y="595" width="22" height="22" fill="#5a7696"/>
<rect x="558" y="595" width="21" height="22" fill="#5a7a96"/>
<rect x="579" y="595" width="22" height="22" fill="#768a9e"/>
<rect x="15" y="617" width="22" height="22" fill="#3d6396"/>
<rect x="37" y="617" width="21" height="22" fill="#3a6292"/>
<rect x="58" y="617" width="22" height="22" fill="#406c92"/>
<rect x="80" y="617" width="22" height="22" fill="#3e6a92"/>
<rect x="102" y="617" width="22" height="22" fill="#3a6494"/>
<rect x="124" y="617" width="21" height="22" fill="#426698"/>
<rect x="145" y="617" width="22" height="22" fill="#4a6c9a"/>
<rect x="167" y="617" width="22" height="22" fill="#4c729a"/>
<rect x="189" y="617" width="21" height="22" fill="#6282a6"/>
<rect x="210" y="617" width="22" height="22" fill="#6e86a6"/>
<rect x="232" y="617" width="22" height="22" fill="#6a82aa"/>
<rect x="254" y="617" width="21" height="22" fill="#5a6ea2"/>
<rect x="275" y="617" width="22" height="22" fill="#42669e"/>
<rect x="297" y="617" width="22" height="22" fill="#3c629a"/>
<rect x="319" y="617" width="65" height="22" fill="#3c6196"/>
<rect x="384" y="617" width="22" height="22" fill="#3d6196"/>
<rect x="406" y="617" width="21" height="22" fill="#325a9a"/>
<rect x="427" y="617" width="22" height="22" fill="#40649a"/>
<rect x="449" y="617" width="22" height="22" fill="#3e629a"/>
<rect x="471" y="617" width="21" height="22" fill="#3a5a96"/>
<rect x="492" y="617" width="22" height="22" fill="#406496"/>
<rect x="514" y="617" width="22" height="22" fill="#426496"/>
<rect x="536" y="617" width="22" height="22" fill="#466a96"/>
<rect x="558" y="617" width="21" height="22" fill="#48729a"/>
<rect x="579" y="617" width="22" height="22" fill="#6282a2"/>
<rect x="15" y="639" width="22" height="22" fill="#366396"/>
<rect x="37" y="639" width="21" height="22" fill="#2d6890"/>
<rect x="58" y="639" width="22" height="22" fill="#2e6690"/>
<rect x="80" y="639" width="22" height="22" fill="#2e6692"/>
<rect x="102" y="639" width="22" height="22" fill="#386294"/>
<rect x="124" y="639" width="21" height="22" fill="#46609a"/>
<rect x="145" y="639" width="22" height="22" fill="#426694"/>
<rect x="167" y="639" width="22" height="22" fill="#406692"/>
<rect x="189" y="639" width="21" height="22" fill="#426a92"/>
<rect x="210" y="639" width="22" height="22" fill="#446a92"/>
<rect x="232" y="639" width="22" height="22" fill="#406894"/>
<rect x="254" y="639" width="21" height="22" fill="#446296"/>
<rect x="275" y="639" width="22" height="22" fill="#3c649a"/>
<rect x="297" y="639" width="22" height="22" fill="#3e6496"/>
<rect x="319" y="639" width="22" height="22" fill="#386296"/>
<rect x="341" y="639" width="21" height="22" fill="#306296"/>
<rect x="362" y="639" width="22" height="22" fill="#386296"/>
<rect x="384" y="639" width="22" height="22" fill="#3c6096"/>
<rect x="406" y="639" width="21" height="22" fill="#56669a"/>
<rect x="427" y="639" width="22" height="22" fill="#52689a"/>
<rect x="449" y="639" width="22" height="22" fill="#48689a"/>
<rect x="471" y="639" width="21" height="22" fill="#345a96"/>
<rect x="492" y="639" width="22" height="22" fill="#365a96"/>
<rect x="514" y="639" width="22" height="22" fill="#426494"/>
<rect x="536" y="639" width="22" height="22" fill="#4c6e92"/>
<rect x="558" y="639" width="21" height="22" fill="#486a96"/>
<rect x="579" y="639" width="22" height="22" fill="#46709a"/>
<rect x="15" y="661" width="22" height="21" fill="#3a6296"/>
<rect x="37" y="661" width="21" height="21" fill="#326096"/>
<rect x="58" y="661" width="22" height="21" fill="#346292"/>
<rect x="80" y="661" width="22" height="21" fill="#326294"/>
<rect x="102" y="661" width="22" height="21" fill="#386294"/>
<rect x="124" y="661" width="21" height="21" fill="#3e629a"/>
<rect x="145" y="661" width="22" height="21" fill="#4a6a98"/>
<rect x="167" y="661" width="22" height="21" fill="#4a6e96"/>
<rect x="189" y="661" width="21" height="21" fill="#4c6e98"/>
<rect x="210" y="661" width="22" height="21" fill="#426896"/>
<rect x="232" y="661" width="22" height="21" fill="#3c6696"/>
<rect x="254" y="661" width="21" height="21" fill="#406894"/>
<rect x="275" y="661" width="22" height="21" fill="#3a6496"/>
<rect x="297" y="661" width="22" height="21" fill="#365e94"/>
<rect x="319" y="661" width="22" height="21" fill="#345e96"/>
<rect x="341" y="661" width="21" height="21" fill="#325d96"/>
<rect x="362" y="661" width="22" height="21" fill="#386096"/>
<rect x="384" y="661" width="22" height="21" fill="#365e92"/>
<rect x="406" y="661" width="21" height="21" fill="#3a6096"/>
<rect x="427" y="661" width="65" height="21" fill="#3c6096"/>
<rect x="492" y="661" width="22" height="21" fill="#385c96"/>
<rect x="514" y="661" width="65" height="21" fill="#365c92"/>
<rect x="579" y="661" width="22" height="21" fill="#426896"/>
<rect x="15" y="682" width="22" height="22" fill="#406499"/>
<rect x="37" y="682" width="21" height="22" fill="#3a5c9a"/>
<rect x="58" y="682" width="22" height="22" fill="#386096"/>
<rect x="80" y="682" width="22" height="22" fill="#326294"/>
<rect x="102" y="682" width="22" height="22" fill="#386294"/>
<rect x="124" y="682" width="21" height="22" fill="#3c6296"/>
<rect x="145" y="682" width="22" height="22" fill="#4a6a96"/>
<rect x="167" y="682" width="22" height="22" fill="#506e94"/>
<rect x="189" y="682" width="21" height="22" fill="#546e96"/>
<rect x="210" y="682" width="22" height="22" fill="#445e96"/>
<rect x="232" y="682" width="22" height="22" fill="#406096"/>
<rect x="254" y="682" width="21" height="22" fill="#3a6692"/>
<rect x="275" y="682" width="22" height="22" fill="#326692"/>
<rect x="297" y="682" width="22" height="22" fill="#386494"/>
<rect x="319" y="682" width="22" height="22" fill="#3a6294"/>
<rect x="341" y="682" width="21" height="22" fill="#406296"/>
<rect x="362" y="682" width="22" height="22" fill="#385e92"/>
<rect x="384" y="682" width="22" height="22" fill="#386092"/>
<rect x="406" y="682" width="21" height="22" fill="#3c6296"/>
<rect x="427" y="682" width="22" height="22" fill="#3e629a"/>
<rect x="449" y="682" width="22" height="22" fill="#3e6296"/>
<rect x="471" y="682" width="21" height="22" fill="#3d6296"/>
<rect x="492" y="682" width="22" height="22" fill="#385e94"/>
<rect x="514" y="682" width="65" height="22" fill="#32588e"/>
<rect x="579" y="682" width="22" height="22" fill="#3a6096"/>
<rect x="15" y="704" width="22" height="22" fill="#3d6399"/>
<rect x="37" y="704" width="21" height="22" fill="#385a9a"/>
<rect x="58" y="704" width="22" height="22" fill="#345c9a"/>
<rect x="80" y="704" width="22" height="22" fill="#386096"/>
<rect x="102" y="704" width="22" height="22" fill="#3c6296"/>
<rect x="124" y="704" width="21" height="22" fill="#466a9a"/>
<rect x="145" y="704" width="22" height="22" fill="#4a6a96"/>
<rect x="167" y="704" width="22" height="22" fill="#627296"/>
<rect x="189" y="704" width="21" height="22" fill="#526e96"/>
<rect x="210" y="704" width="22" height="22" fill="#486896"/>
<rect x="232" y="704" width="22" height="22" fill="#406696"/>
<rect x="254" y="704" width="21" height="22" fill="#385e96"/>
<rect x="275" y="704" width="22" height="22" fill="#366094"/>
<rect x="297" y="704" width="22" height="22" fill="#346092"/>
<rect x="319" y="704" width="22" height="22" fill="#3e6694"/>
<rect x="341" y="704" width="21" height="22" fill="#346096"/>
<rect x="362" y="704" width="22" height="22" fill="#446a96"/>
<rect x="384" y="704" width="22" height="22" fill="#2e6294"/>
<rect x="406" y="704" width="21" height="22" fill="#486896"/>
<rect x="427" y="704" width="22" height="22" fill="#425d9a"/>
<rect x="449" y="704" width="22" height="22" fill="#4a6a96"/>
<rect x="471" y="704" width="21" height="22" fill="#4c6e96"/>
<rect x="492" y="704" width="22" height="22" fill="#3d6096"/>
<rect x="514" y="704" width="22" height="22" fill="#465e96"/>
<rect x="536" y="704" width="22" height="22" fill="#405e96"/>
<rect x="558" y="704" width="21" height="22" fill="#345a92"/>
<rect x="579" y="704" width="22" height="22" fill="#325d92"/>
<rect x="15" y="726" width="22" height="21" fill="#385d98"/>
<rect x="37" y="726" width="21" height="21" fill="#325a9a"/>
<rect x="58" y="726" width="22" height="21" fill="#325c9a"/>
<rect x="80" y="726" width="22" height="21" fill="#3a6096"/>
<rect x="102" y="726" width="22" height="21" fill="#426298"/>
<rect x="124" y="726" width="21" height="21" fill="#486898"/>
<rect x="145" y="726" width="22" height="21" fill="#4e6a98"/>
<rect x="167" y="726" width="22" height="21" fill="#5a6a9a"/>
<rect x="189" y="726" width="21" height="21" fill="#4e6896"/>
<rect x="210" y="726" width="22" height="21" fill="#446694"/>
<rect x="232" y="726" width="22" height="21" fill="#3d5d96"/>
<rect x="254" y="726" width="21" height="21" fill="#405896"/>
<rect x="275" y="726" width="22" height="21" fill="#3a5e96"/>
<rect x="297" y="726" width="22" height="21" fill="#346292"/>
<rect x="319" y="726" width="22" height="21" fill="#3c6494"/>
<rect x="341" y="726" width="21" height="21" fill="#366096"/>
<rect x="362" y="726" width="22" height="21" fill="#3e6496"/>
<rect x="384" y="726" width="22" height="21" fill="#326094"/>
<rect x="406" y="726" width="21" height="21" fill="#44669a"/>
<rect x="427" y="726" width="22" height="21" fill="#4a5a9a"/>
<rect x="449" y="726" width="22" height="21" fill="#42629a"/>
<rect x="471" y="726" width="21" height="21" fill="#3d6492"/>
<rect x="492" y="726" width="22" height="21" fill="#405e96"/>
<rect x="514" y="726" width="22" height="21" fill="#485696"/>
<rect x="536" y="726" width="22" height="21" fill="#465e96"/>
<rect x="558" y="726" width="21" height="21" fill="#345c96"/>
<rect x="579" y="726" width="22" height="21" fill="#2e6096"/>
<rect x="15" y="747" width="22" height="22" fill="#3d6198"/>
<rect x="37" y="747" width="21" height="22" fill="#406699"/>
<rect x="58" y="747" width="22" height="22" fill="#3a6296"/>
<rect x="80" y="747" width="22" height="22" fill="#3c649a"/>
<rect x="102" y="747" width="22" height="22" fill="#3e649a"/>
<rect x="124" y="747" width="21" height="22" fill="#486a9a"/>
<rect x="145" y="747" width="22" height="22" fill="#527298"/>
<rect x="167" y="747" width="22" height="22" fill="#4a6896"/>
<rect x="189" y="747" width="21" height="22" fill="#44669a"/>
<rect x="210" y="747" width="22" height="22" fill="#426296"/>
<rect x="232" y="747" width="22" height="22" fill="#3c5a96"/>
<rect x="254" y="747" width="21" height="22" fill="#405892"/>
<rect x="275" y="747" width="22" height="22" fill="#3a6094"/>
<rect x="297" y="747" width="22" height="22" fill="#2e6292"/>
<rect x="319" y="747" width="22" height="22" fill="#346094"/>
<rect x="341" y="747" width="21" height="22" fill="#365d94"/>
<rect x="362" y="747" width="22" height="22" fill="#385d98"/>
<rect x="384" y="747" width="22" height="22" fill="#48629a"/>
<rect x="406" y="747" width="21" height="22" fill="#4a629a"/>
<rect x="427" y="747" width="22" height="22" fill="#42629a"/>
<rect x="449" y="747" width="22" height="22" fill="#426499"/>
<rect x="471" y="747" width="21" height="22" fill="#48669a"/>
<rect x="492" y="747" width="22" height="22" fill="#4a629a"/>
<rect x="514" y="747" width="22" height="22" fill="#4e5e96"/>
<rect x="536" y="747" width="22" height="22" fill="#3c6096"/>
<rect x="558" y="747" width="21" height="22" fill="#386096"/>
<rect x="579" y="747" width="22" height="22" fill="#2d5d92"/>
<rect x="15" y="769" width="22" height="22" fill="#486a9a"/>
<rect x="37" y="769" width="21" height="22" fill="#3c6496"/>
<rect x="58" y="769" width="22" height="22" fill="#486c9c"/>
<rect x="80" y="769" width="22" height="22" fill="#426699"/>
<rect x="102" y="769" width="22" height="22" fill="#3e6896"/>
<rect x="124" y="769" width="21" height="22" fill="#4e7296"/>
<rect x="145" y="769" width="22" height="22" fill="#4a6e9a"/>
<rect x="167" y="769" width="22" height="22" fill="#4e6e9a"/>
<rect x="189" y="769" width="21" height="22" fill="#466699"/>
<rect x="210" y="769" width="22" height="22" fill="#486696"/>
<rect x="232" y="769" width="22" height="22" fill="#3c5d94"/>
<rect x="254" y="769" width="21" height="22" fill="#42588e"/>
<rect x="275" y="769" width="22" height="22" fill="#385c94"/>
<rect x="297" y="769" width="22" height="22" fill="#325e96"/>
<rect x="319" y="769" width="22" height="22" fill="#365d98"/>
<rect x="341" y="769" width="21" height="22" fill="#3a5d9a"/>
<rect x="362" y="769" width="22" height="22" fill="#425a9a"/>
<rect x="384" y="769" width="22" height="22" fill="#485a9e"/>
<rect x="406" y="769" width="21" height="22" fill="#3e6099"/>
<rect x="427" y="769" width="22" height="22" fill="#426896"/>
<rect x="449" y="769" width="22" height="22" fill="#3a6096"/>
<rect x="471" y="769" width="21" height="22" fill="#425a9a"/>
<rect x="492" y="769" width="22" height="22" fill="#445a9a"/>
<rect x="514" y="769" width="22" height="22" fill="#405e92"/>
<rect x="536" y="769" width="22" height="22" fill="#446292"/>
<rect x="558" y="769" width="21" height="22" fill="#406292"/>
<rect x="579" y="769" width="22" height="22" fill="#3a6096"/>
<rect x="15" y="791" width="22" height="21" fill="#426698"/>
<rect x="37" y="791" width="21" height="21" fill="#486c9a"/>
<rect x="58" y="791" width="22" height="21" fill="#466a9a"/>
<rect x="80" y="791" width="22" height="21" fill="#4a6e9e"/>
<rect x="102" y="791" width="22" height="21" fill="#486c9e"/>
<rect x="124" y="791" width="21" height="21" fill="#446a9e"/>
<rect x="145" y="791" width="22" height="21" fill="#4e6e9a"/>
<rect x="167" y="791" width="22" height="21" fill="#52729a"/>
<rect x="189" y="791" width="21" height="21" fill="#4a6a9a"/>
<rect x="210" y="791" width="22" height="21" fill="#4c6c9a"/>
<rect x="232" y="791" width="22" height="21" fill="#3c5d96"/>
<rect x="254" y="791" width="21" height="21" fill="#3c588e"/>
<rect x="275" y="791" width="22" height="21" fill="#385a94"/>
<rect x="297" y="791" width="22" height="21" fill="#385c96"/>
<rect x="319" y="791" width="22" height="21" fill="#385a94"/>
<rect x="341" y="791" width="21" height="21" fill="#3a5a94"/>
<rect x="362" y="791" width="22" height="21" fill="#3a5c96"/>
<rect x="384" y="791" width="22" height="21" fill="#3e5e9a"/>
<rect x="406" y="791" width="21" height="21" fill="#385c96"/>
<rect x="427" y="791" width="44" height="21" fill="#3a5c96"/>
<rect x="471" y="791" width="21" height="21" fill="#3e5e9a"/>
<rect x="492" y="791" width="22" height="21" fill="#405e9a"/>
<rect x="514" y="791" width="22" height="21" fill="#3e6296"/>
<rect x="536" y="791" width="22" height="21" fill="#40649a"/>
<rect x="558" y="791" width="21" height="21" fill="#42669a"/>
<rect x="579" y="791" width="22" height="21" fill="#446a96"/>
<rect x="15" y="812" width="22" height="22" fill="#3c6398"/>
<rect x="37" y="812" width="21" height="22" fill="#446a9a"/>
<rect x="58" y="812" width="22" height="22" fill="#486c9a"/>
<rect x="80" y="812" width="22" height="22" fill="#5e7ea6"/>
<rect x="102" y="812" width="22" height="22" fill="#4a6ea2"/>
<rect x="124" y="812" width="21" height="22" fill="#4e6e9e"/>
<rect x="145" y="812" width="22" height="22" fill="#5a769e"/>
<rect x="167" y="812" width="22" height="22" fill="#627e9e"/>
<rect x="189" y="812" width="21" height="22" fill="#5676a2"/>
<rect x="210" y="812" width="22" height="22" fill="#4a62a2"/>
<rect x="232" y="812" width="22" height="22" fill="#44649e"/>
<rect x="254" y="812" width="108" height="22" fill="#385a92"/>
<rect x="362" y="812" width="22" height="22" fill="#345a96"/>
<rect x="384" y="812" width="22" height="22" fill="#366096"/>
<rect x="406" y="812" width="21" height="22" fill="#325d9a"/>
<rect x="427" y="812" width="22" height="22" fill="#2e5d9a"/>
<rect x="449" y="812" width="22" height="22" fill="#325d98"/>
<rect x="471" y="812" width="21" height="22" fill="#426699"/>
<rect x="492" y="812" width="22" height="22" fill="#426496"/>
<rect x="514" y="812" width="22" height="22" fill="#406499"/>
<rect x="536" y="812" width="22" height="22" fill="#406696"/>
<rect x="558" y="812" width="21" height="22" fill="#446896"/>
<rect x="579" y="812" width="22" height="22" fill="#5a7a99"/>
<rect x="15" y="834" width="22" height="22" fill="#3a6198"/>
<rect x="37" y="834" width="21" height="22" fill="#3e6494"/>
<rect x="58" y="834" width="22" height="22" fill="#486a9c"/>
<rect x="80" y="834" width="22" height="22" fill="#4e6ea2"/>
<rect x="102" y="834" width="22" height="22" fill="#4a6ca2"/>
<rect x="124" y="834" width="21" height="22" fill="#50729e"/>
<rect x="145" y="834" width="22" height="22" fill="#6886a6"/>
<rect x="167" y="834" width="22" height="22" fill="#6e86a6"/>
<rect x="189" y="834" width="21" height="22" fill="#6a82a6"/>
<rect x="210" y="834" width="22" height="22" fill="#586ea2"/>
<rect x="232" y="834" width="22" height="22" fill="#42669a"/>
<rect x="254" y="834" width="21" height="22" fill="#3c6090"/>
<rect x="275" y="834" width="22" height="22" fill="#406294"/>
<rect x="297" y="834" width="22" height="22" fill="#3c5e9a"/>
<rect x="319" y="834" width="22" height="22" fill="#3d6096"/>
<rect x="341" y="834" width="21" height="22" fill="#3d5e94"/>
<rect x="362" y="834" width="22" height="22" fill="#3a5e94"/>
<rect x="384" y="834" width="22" height="22" fill="#385d92"/>
<rect x="406" y="834" width="21" height="22" fill="#406896"/>
<rect x="427" y="834" width="44" height="22" fill="#3a5e9a"/>
<rect x="471" y="834" width="21" height="22" fill="#3c629a"/>
<rect x="492" y="834" width="22" height="22" fill="#3a6096"/>
<rect x="514" y="834" width="22" height="22" fill="#406496"/>
<rect x="536" y="834" width="22" height="22" fill="#426896"/>
<rect x="558" y="834" width="21" height="22" fill="#6a86a2"/>
<rect x="579" y="834" width="22" height="22" fill="#768ea2"/>
<rect x="15" y="856" width="22" height="21" fill="#3d6498"/>
<rect x="37" y="856" width="21" height="21" fill="#486a9a"/>
<rect x="58" y="856" width="22" height="21" fill="#4c6c9e"/>
<rect x="80" y="856" width="22" height="21" fill="#4e66a2"/>
<rect x="102" y="856" width="22" height="21" fill="#526ca2"/>
<rect x="124" y="856" width="21" height="21" fill="#54729e"/>
<rect x="145" y="856" width="22" height="21" fill="#6282aa"/>
<rect x="167" y="856" width="22" height="21" fill="#8ba3be"/>
<rect x="189" y="856" width="21" height="21" fill="#8397b6"/>
<rect x="210" y="856" width="22" height="21" fill="#6276a6"/>
<rect x="232" y="856" width="22" height="21" fill="#48689a"/>
<rect x="254" y="856" width="21" height="21" fill="#386292"/>
<rect x="275" y="856" width="22" height="21" fill="#426a96"/>
<rect x="297" y="856" width="22" height="21" fill="#486a9a"/>
<rect x="319" y="856" width="22" height="21" fill="#42669a"/>
<rect x="341" y="856" width="21" height="21" fill="#3e629a"/>
<rect x="362" y="856" width="22" height="21" fill="#406092"/>
<rect x="384" y="856" width="22" height="21" fill="#3c6092"/>
<rect x="406" y="856" width="21" height="21" fill="#3c6096"/>
<rect x="427" y="856" width="22" height="21" fill="#3e609a"/>
<rect x="449" y="856" width="22" height="21" fill="#3e6296"/>
<rect x="471" y="856" width="21" height="21" fill="#3c6094"/>
<rect x="492" y="856" width="22" height="21" fill="#3c5a96"/>
<rect x="514" y="856" width="22" height="21" fill="#3a5696"/>
<rect x="536" y="856" width="22" height="21" fill="#446896"/>
<rect x="558" y="856" width="21" height="21" fill="#6682a2"/>
<rect x="579" y="856" width="22" height="21" fill="#587a9e"/>
<rect x="15" y="877" width="22" height="22" fill="#3e6698"/>
<rect x="37" y="877" width="21" height="22" fill="#3e6696"/>
<rect x="58" y="877" width="22" height="22" fill="#40669a"/>
<rect x="80" y="877" width="22" height="22" fill="#48629e"/>
<rect x="102" y="877" width="22" height="22" fill="#44689e"/>
<rect x="124" y="877" width="21" height="22" fill="#486c9a"/>
<rect x="145" y="877" width="22" height="22" fill="#587aa2"/>
<rect x="167" y="877" width="22" height="22" fill="#7997ba"/>
<rect x="189" y="877" width="21" height="22" fill="#7b8fb6"/>
<rect x="210" y="877" width="22" height="22" fill="#6672aa"/>
<rect x="232" y="877" width="22" height="22" fill="#5872a2"/>
<rect x="254" y="877" width="21" height="22" fill="#58769e"/>
<rect x="275" y="877" width="22" height="22" fill="#5a7699"/>
<rect x="297" y="877" width="22" height="22" fill="#58729a"/>
<rect x="319" y="877" width="22" height="22" fill="#52709a"/>
<rect x="341" y="877" width="21" height="22" fill="#466a9a"/>
<rect x="362" y="877" width="22" height="22" fill="#486696"/>
<rect x="384" y="877" width="22" height="22" fill="#466692"/>
<rect x="406" y="877" width="21" height="22" fill="#3c6094"/>
<rect x="427" y="877" width="44" height="22" fill="#406496"/>
<rect x="471" y="877" width="21" height="22" fill="#3e6294"/>
<rect x="492" y="877" width="22" height="22" fill="#3a5d96"/>
<rect x="514" y="877" width="22" height="22" fill="#405e94"/>
<rect x="536" y="877" width="22" height="22" fill="#466a96"/>
<rect x="558" y="877" width="21" height="22" fill="#5e7ea2"/>
<rect x="579" y="877" width="22" height="22" fill="#7a92a6"/>
<rect x="15" y="899" width="22" height="22" fill="#3a6698"/>
<rect x="37" y="899" width="21" height="22" fill="#386896"/>
<rect x="58" y="899" width="22" height="22" fill="#3a6399"/>
<rect x="80" y="899" width="22" height="22" fill="#385e9e"/>
<rect x="102" y="899" width="22" height="22" fill="#3c649a"/>
<rect x="124" y="899" width="21" height="22" fill="#426a96"/>
<rect x="145" y="899" width="22" height="22" fill="#4e7299"/>
<rect x="167" y="899" width="22" height="22" fill="#5676a6"/>
<rect x="189" y="899" width="21" height="22" fill="#6a7eae"/>
<rect x="210" y="899" width="22" height="22" fill="#666aae"/>
<rect x="232" y="899" width="22" height="22" fill="#4e66a2"/>
<rect x="254" y="899" width="21" height="22" fill="#52729a"/>
<rect x="275" y="899" width="22" height="22" fill="#607696"/>
<rect x="297" y="899" width="22" height="22" fill="#5e7696"/>
<rect x="319" y="899" width="22" height="22" fill="#5a769a"/>
<rect x="341" y="899" width="21" height="22" fill="#4a6e9a"/>
<rect x="362" y="899" width="22" height="22" fill="#486896"/>
<rect x="384" y="899" width="22" height="22" fill="#466692"/>
<rect x="406" y="899" width="21" height="22" fill="#406494"/>
<rect x="427" y="899" width="22" height="22" fill="#546a92"/>
<rect x="449" y="899" width="22" height="22" fill="#486692"/>
<rect x="471" y="899" width="21" height="22" fill="#406496"/>
<rect x="492" y="899" width="22" height="22" fill="#3e6096"/>
<rect x="514" y="899" width="22" height="22" fill="#425d92"/>
<rect x="536" y="899" width="22" height="22" fill="#486a92"/>
<rect x="558" y="899" width="21" height="22" fill="#627e96"/>
<rect x="579" y="899" width="22" height="22" fill="#587a9e"/>
<rect x="15" y="921" width="22" height="22" fill="#4670a0"/>
<rect x="37" y="921" width="21" height="22" fill="#3c689f"/>
<rect x="58" y="921" width="22" height="22" fill="#426ca0"/>
<rect x="80" y="921" width="22" height="22" fill="#3660a4"/>
<rect x="102" y="921" width="22" height="22" fill="#446ca0"/>
<rect x="124" y="921" width="21" height="22" fill="#4a72a0"/>
<rect x="145" y="921" width="22" height="22" fill="#5478a4"/>
<rect x="167" y="921" width="22" height="22" fill="#5f80ac"/>
<rect x="189" y="921" width="21" height="22" fill="#6880b0"/>
<rect x="210" y="921" width="22" height="22" fill="#6c7cb8"/>
<rect x="232" y="921" width="22" height="22" fill="#6078ac"/>
<rect x="254" y="921" width="21" height="22" fill="#5c78a4"/>
<rect x="275" y="921" width="22" height="22" fill="#5a74a0"/>
<rect x="297" y="921" width="22" height="22" fill="#516e99"/>
<rect x="319" y="921" width="22" height="22" fill="#4f6e99"/>
<rect x="341" y="921" width="21" height="22" fill="#456e96"/>
<rect x="362" y="921" width="22" height="22" fill="#456696"/>
<rect x="384" y="921" width="22" height="22" fill="#3f5d96"/>
<rect x="406" y="921" width="43" height="22" fill="#405f94"/>
<rect x="449" y="921" width="22" height="22" fill="#496896"/>
<rect x="471" y="921" width="21" height="22" fill="#476a96"/>
<rect x="492" y="921" width="22" height="22" fill="#3f6294"/>
<rect x="514" y="921" width="22" height="22" fill="#416094"/>
<rect x="536" y="921" width="22" height="22" fill="#496896"/>
<rect x="558" y="921" width="21" height="22" fill="#4b6a96"/>
<rect x="579" y="921" width="22" height="22" fill="#496896"/>
<rect x="15" y="943" width="22" height="21" fill="#4268a0"/>
<rect x="37" y="943" width="21" height="21" fill="#38649c"/>
<rect x="58" y="943" width="22" height="21" fill="#3a649c"/>
<rect x="80" y="943" width="22" height="21" fill="#3a62a0"/>
<rect x="102" y="943" width="22" height="21" fill="#4870a0"/>
<rect x="124" y="943" width="21" height="21" fill="#4672a0"/>
<rect x="145" y="943" width="22" height="21" fill="#4674a4"/>
<rect x="167" y="943" width="22" height="21" fill="#5a84a8"/>
<rect x="189" y="943" width="21" height="21" fill="#6c8cb0"/>
<rect x="210" y="943" width="22" height="21" fill="#7c98bc"/>
<rect x="232" y="943" width="22" height="21" fill="#5c7cac"/>
<rect x="254" y="943" width="21" height="21" fill="#5c7498"/>
<rect x="275" y="943" width="22" height="21" fill="#546c9f"/>
<rect x="297" y="943" width="22" height="21" fill="#46569a"/>
<rect x="319" y="943" width="22" height="21" fill="#3f6696"/>
<rect x="341" y="943" width="21" height="21" fill="#406e96"/>
<rect x="362" y="943" width="22" height="21" fill="#456696"/>
<rect x="384" y="943" width="22" height="21" fill="#4d5a92"/>
<rect x="406" y="943" width="21" height="21" fill="#4f5e96"/>
<rect x="427" y="943" width="22" height="21" fill="#51669a"/>
<rect x="449" y="943" width="22" height="21" fill="#798ea2"/>
<rect x="471" y="943" width="21" height="21" fill="#5d829a"/>
<rect x="492" y="943" width="22" height="21" fill="#577692"/>
<rect x="514" y="943" width="22" height="21" fill="#4f6a8e"/>
<rect x="536" y="943" width="22" height="21" fill="#496296"/>
<rect x="558" y="943" width="21" height="21" fill="#3f5a9a"/>
<rect x="579" y="943" width="22" height="21" fill="#596a99"/>
<rect x="15" y="964" width="22" height="22" fill="#386aa0"/>
<rect x="37" y="964" width="21" height="22" fill="#3a68a0"/>
<rect x="58" y="964" width="22" height="22" fill="#3a66a0"/>
<rect x="80" y="964" width="22" height="22" fill="#4a6ca4"/>
<rect x="102" y="964" width="22" height="22" fill="#5478a8"/>
<rect x="124" y="964" width="21" height="22" fill="#5880a8"/>
<rect x="145" y="964" width="22" height="22" fill="#6088ac"/>
<rect x="167" y="964" width="22" height="22" fill="#6488ac"/>
<rect x="189" y="964" width="21" height="22" fill="#7090b0"/>
<rect x="210" y="964" width="22" height="22" fill="#809cbc"/>
<rect x="232" y="964" width="22" height="22" fill="#7890b0"/>
<rect x="254" y="964" width="21" height="22" fill="#7c8cb0"/>
<rect x="275" y="964" width="22" height="22" fill="#5f74a8"/>
<rect x="297" y="964" width="22" height="22" fill="#55669e"/>
<rect x="319" y="964" width="22" height="22" fill="#4b6a9a"/>
<rect x="341" y="964" width="21" height="22" fill="#476e9a"/>
<rect x="362" y="964" width="22" height="22" fill="#4b6a9a"/>
<rect x="384" y="964" width="22" height="22" fill="#69789a"/>
<rect x="406" y="964" width="21" height="22" fill="#6d7a9e"/>
<rect x="427" y="964" width="22" height="22" fill="#717e9e"/>
<rect x="449" y="964" width="22" height="22" fill="#6986a2"/>
<rect x="471" y="964" width="21" height="22" fill="#758ea2"/>
<rect x="492" y="964" width="22" height="22" fill="#798aa2"/>
<rect x="514" y="964" width="22" height="22" fill="#717a96"/>
<rect x="536" y="964" width="22" height="22" fill="#576e9e"/>
<rect x="558" y="964" width="21" height="22" fill="#5972a2"/>
<rect x="579" y="964" width="22" height="22" fill="#617a9a"/>
<rect x="15" y="986" width="22" height="22" fill="#386aa0"/>
<rect x="37" y="986" width="21" height="22" fill="#4068a0"/>
<rect x="58" y="986" width="22" height="22" fill="#3a68a0"/>
<rect x="80" y="986" width="22" height="22" fill="#4a6ca8"/>
<rect x="102" y="986" width="22" height="22" fill="#6084a8"/>
<rect x="124" y="986" width="21" height="22" fill="#6c90ac"/>
<rect x="145" y="986" width="22" height="22" fill="#6c8cb0"/>
<rect x="167" y="986" width="22" height="22" fill="#6c8cb4"/>
<rect x="189" y="986" width="21" height="22" fill="#7494b8"/>
<rect x="210" y="986" width="22" height="22" fill="#8ca4b8"/>
<rect x="232" y="986" width="22" height="22" fill="#8498b4"/>
<rect x="254" y="986" width="21" height="22" fill="#8490b4"/>
<rect x="275" y="986" width="22" height="22" fill="#6c80a8"/>
<rect x="297" y="986" width="44" height="22" fill="#697aa2"/>
<rect x="341" y="986" width="21" height="22" fill="#7182a2"/>
<rect x="362" y="986" width="44" height="22" fill="#818ea2"/>
<rect x="406" y="986" width="21" height="22" fill="#7586a2"/>
<rect x="427" y="986" width="22" height="22" fill="#65829e"/>
<rect x="449" y="986" width="22" height="22" fill="#597ea6"/>
<rect x="471" y="986" width="21" height="22" fill="#8196a2"/>
<rect x="492" y="986" width="22" height="22" fill="#8996a3"/>
<rect x="514" y="986" width="22" height="22" fill="#7d8a9e"/>
<rect x="536" y="986" width="22" height="22" fill="#5d76a2"/>
<rect x="558" y="986" width="21" height="22" fill="#5976a2"/>
<rect x="579" y="986" width="22" height="22" fill="#65829a"/>
<rect x="15" y="1008" width="22" height="21" fill="#406ca0"/>
<rect x="37" y="1008" width="21" height="21" fill="#3660a0"/>
<rect x="58" y="1008" width="22" height="21" fill="#4068a0"/>
<rect x="80" y="1008" width="22" height="21" fill="#4c70a8"/>
<rect x="102" y="1008" width="22" height="21" fill="#6c90b4"/>
<rect x="124" y="1008" width="21" height="21" fill="#90a8bc"/>
<rect x="145" y="1008" width="22" height="21" fill="#94acc4"/>
<rect x="167" y="1008" width="43" height="21" fill="#8cacc8"/>
<rect x="210" y="1008" width="22" height="21" fill="#c0ccd4"/>
<rect x="232" y="1008" width="22" height="21" fill="#94a0c4"/>
<rect x="254" y="1008" width="21" height="21" fill="#8c90b8"/>
<rect x="275" y="1008" width="22" height="21" fill="#8488b0"/>
<rect x="297" y="1008" width="22" height="21" fill="#8182aa"/>
<rect x="319" y="1008" width="22" height="21" fill="#8d8eae"/>
<rect x="341" y="1008" width="21" height="21" fill="#c0bbba"/>
<rect x="362" y="1008" width="22" height="21" fill="#c4bbb6"/>
<rect x="384" y="1008" width="22" height="21" fill="#a0a3b2"/>
<rect x="406" y="1008" width="21" height="21" fill="#8d96ab"/>
<rect x="427" y="1008" width="22" height="21" fill="#6986a6"/>
<rect x="449" y="1008" width="22" height="21" fill="#6d86a6"/>
<rect x="471" y="1008" width="21" height="21" fill="#99a3ad"/>
<rect x="492" y="1008" width="22" height="21" fill="#a0a7b2"/>
<rect x="514" y="1008" width="22" height="21" fill="#8592a6"/>
<rect x="536" y="1008" width="22" height="21" fill="#8192a2"/>
<rect x="558" y="1008" width="21" height="21" fill="#8d9aa7"/>
<rect x="579" y="1008" width="22" height="21" fill="#6d8a9e"/>
<rect x="15" y="1029" width="22" height="22" fill="#4068a0"/>
<rect x="37" y="1029" width="21" height="22" fill="#3c60a0"/>
<rect x="58" y="1029" width="22" height="22" fill="#446aa4"/>
<rect x="80" y="1029" width="22" height="22" fill="#5074a8"/>
<rect x="102" y="1029" width="22" height="22" fill="#7c98bc"/>
<rect x="124" y="1029" width="21" height="22" fill="#98b4c8"/>
<rect x="145" y="1029" width="22" height="22" fill="#c4d4e0"/>
<rect x="167" y="1029" width="22" height="22" fill="#b0d0ec"/>
<rect x="189" y="1029" width="21" height="22" fill="#c0d4e4"/>
<rect x="210" y="1029" width="22" height="22" fill="#ccd4dc"/>
<rect x="232" y="1029" width="22" height="22" fill="#9ca4c8"/>
<rect x="254" y="1029" width="21" height="22" fill="#9090b8"/>
<rect x="275" y="1029" width="22" height="22" fill="#9490b8"/>
<rect x="297" y="1029" width="22" height="22" fill="#8d8aab"/>
<rect x="319" y="1029" width="22" height="22" fill="#a5a3b9"/>
<rect x="341" y="1029" width="21" height="22" fill="#dcc7be"/>
<rect x="362" y="1029" width="22" height="22" fill="#d8c7be"/>
<rect x="384" y="1029" width="22" height="22" fill="#a8a7b6"/>
<rect x="406" y="1029" width="21" height="22" fill="#8d9ab2"/>
<rect x="427" y="1029" width="22" height="22" fill="#8996ae"/>
<rect x="449" y="1029" width="22" height="22" fill="#8592aa"/>
<rect x="471" y="1029" width="21" height="22" fill="#8996aa"/>
<rect x="492" y="1029" width="22" height="22" fill="#8592a6"/>
<rect x="514" y="1029" width="22" height="22" fill="#8192a2"/>
<rect x="536" y="1029" width="22" height="22" fill="#7d8ea2"/>
<rect x="558" y="1029" width="21" height="22" fill="#8592a3"/>
<rect x="579" y="1029" width="22" height="22" fill="#8996a3"/>
<rect x="15" y="1051" width="22" height="22" fill="#3c68a0"/>
<rect x="37" y="1051" width="21" height="22" fill="#3a649c"/>
<rect x="58" y="1051" width="22" height="22" fill="#4068a0"/>
<rect x="80" y="1051" width="22" height="22" fill="#4a6ca8"/>
<rect x="102" y="1051" width="22" height="22" fill="#5c80b0"/>
<rect x="124" y="1051" width="21" height="22" fill="#7898bc"/>
<rect x="145" y="1051" width="22" height="22" fill="#8cacd0"/>
<rect x="167" y="1051" width="22" height="22" fill="#a4c4e8"/>
<rect x="189" y="1051" width="21" height="22" fill="#c8d8e8"/>
<rect x="210" y="1051" width="22" height="22" fill="#e8ecf0"/>
<rect x="232" y="1051" width="22" height="22" fill="#b4b8d8"/>
<rect x="254" y="1051" width="21" height="22" fill="#a0a0c4"/>
<rect x="275" y="1051" width="22" height="22" fill="#a4a0c0"/>
<rect x="297" y="1051" width="22" height="22" fill="#b09fb6"/>
<rect x="319" y="1051" width="22" height="22" fill="#d8bbba"/>
<rect x="341" y="1051" width="21" height="22" fill="#e8cbc2"/>
<rect x="362" y="1051" width="22" height="22" fill="#c0bbbe"/>
<rect x="384" y="1051" width="22" height="22" fill="#a5a7b9"/>
<rect x="406" y="1051" width="21" height="22" fill="#a8abba"/>
<rect x="427" y="1051" width="22" height="22" fill="#b0afba"/>
<rect x="449" y="1051" width="22" height="22" fill="#c0b7b6"/>
<rect x="471" y="1051" width="21" height="22" fill="#9196ab"/>
<rect x="492" y="1051" width="22" height="22" fill="#8d96ab"/>
<rect x="514" y="1051" width="22" height="22" fill="#7d92a6"/>
<rect x="536" y="1051" width="22" height="22" fill="#8192a2"/>
<rect x="558" y="1051" width="21" height="22" fill="#a4a7ae"/>
<rect x="579" y="1051" width="22" height="22" fill="#a8abae"/>
<rect x="15" y="1073" width="22" height="21" fill="#4670a0"/>
<rect x="37" y="1073" width="21" height="21" fill="#3868a0"/>
<rect x="58" y="1073" width="22" height="21" fill="#3e68a0"/>
<rect x="80" y="1073" width="22" height="21" fill="#3c62a4"/>
<rect x="102" y="1073" width="22" height="21" fill="#4068a8"/>
<rect x="124" y="1073" width="21" height="21" fill="#4474a4"/>
<rect x="145" y="1073" width="22" height="21" fill="#6c94c4"/>
<rect x="167" y="1073" width="22" height="21" fill="#8cace0"/>
<rect x="189" y="1073" width="21" height="21" fill="#d4dcec"/>
<rect x="210" y="1073" width="22" height="21" fill="#fffcf8"/>
<rect x="232" y="1073" width="22" height="21" fill="#d0d0e8"/>
<rect x="254" y="1073" width="21" height="21" fill="#a8a8c8"/>
<rect x="275" y="1073" width="22" height="21" fill="#b0a4c0"/>
<rect x="297" y="1073" width="22" height="21" fill="#c4a7b6"/>
<rect x="319" y="1073" width="22" height="21" fill="#e4bfb6"/>
<rect x="341" y="1073" width="21" height="21" fill="#e4c7be"/>
<rect x="362" y="1073" width="22" height="21" fill="#bcb7c2"/>
<rect x="384" y="1073" width="22" height="21" fill="#d8cbc2"/>
<rect x="406" y="1073" width="21" height="21" fill="#c8c3c6"/>
<rect x="427" y="1073" width="22" height="21" fill="#ccc3c2"/>
<rect x="449" y="1073" width="22" height="21" fill="#bcb3ba"/>
<rect x="471" y="1073" width="21" height="21" fill="#a8a7b6"/>
<rect x="492" y="1073" width="22" height="21" fill="#999bad"/>
<rect x="514" y="1073" width="22" height="21" fill="#798ea6"/>
<rect x="536" y="1073" width="22" height="21" fill="#8d9aab"/>
<rect x="558" y="1073" width="21" height="21" fill="#b4b3b2"/>
<rect x="579" y="1073" width="22" height="21" fill="#b4afb2"/>
<rect x="15" y="1094" width="22" height="22" fill="#3f6ca0"/>
<rect x="37" y="1094" width="21" height="22" fill="#3c689c"/>
<rect x="58" y="1094" width="22" height="22" fill="#3a68a0"/>
<rect x="80" y="1094" width="22" height="22" fill="#4468a4"/>
<rect x="102" y="1094" width="22" height="22" fill="#426aa4"/>
<rect x="124" y="1094" width="21" height="22" fill="#4470a4"/>
<rect x="145" y="1094" width="22" height="22" fill="#6c8cbc"/>
<rect x="167" y="1094" width="22" height="22" fill="#80a0cc"/>
<rect x="189" y="1094" width="21" height="22" fill="#b4c8e0"/>
<rect x="210" y="1094" width="22" height="22" fill="#f4f4f0"/>
<rect x="232" y="1094" width="22" height="22" fill="#d0d4e4"/>
<rect x="254" y="1094" width="21" height="22" fill="#acb0d0"/>
<rect x="275" y="1094" width="22" height="22" fill="#aaa2be"/>
<rect x="297" y="1094" width="22" height="22" fill="#b9a3b0"/>
<rect x="319" y="1094" width="22" height="22" fill="#d1b3b4"/>
<rect x="341" y="1094" width="21" height="22" fill="#d5b7b4"/>
<rect x="362" y="1094" width="22" height="22" fill="#d9c3b4"/>
<rect x="384" y="1094" width="22" height="22" fill="#d5c3b4"/>
<rect x="406" y="1094" width="21" height="22" fill="#c1b7b8"/>
<rect x="427" y="1094" width="22" height="22" fill="#b9b3b8"/>
<rect x="449" y="1094" width="22" height="22" fill="#b5afb4"/>
<rect x="471" y="1094" width="21" height="22" fill="#adabb4"/>
<rect x="492" y="1094" width="22" height="22" fill="#9ea2af"/>
<rect x="514" y="1094" width="22" height="22" fill="#7b91a6"/>
<rect x="536" y="1094" width="22" height="22" fill="#a1a7ac"/>
<rect x="558" y="1094" width="21" height="22" fill="#b5afac"/>
<rect x="579" y="1094" width="22" height="22" fill="#adabac"/>
<rect x="15" y="1116" width="22" height="22" fill="#4870a4"/>
<rect x="37" y="1116" width="21" height="22" fill="#426c9c"/>
<rect x="58" y="1116" width="22" height="22" fill="#3a649f"/>
<rect x="80" y="1116" width="22" height="22" fill="#4468a0"/>
<rect x="102" y="1116" width="43" height="22" fill="#446aa0"/>
<rect x="145" y="1116" width="22" height="22" fill="#5478a8"/>
<rect x="167" y="1116" width="22" height="22" fill="#6888b8"/>
<rect x="189" y="1116" width="21" height="22" fill="#98b0d4"/>
<rect x="210" y="1116" width="22" height="22" fill="#d4e0ec"/>
<rect x="232" y="1116" width="22" height="22" fill="#c4cce0"/>
<rect x="254" y="1116" width="21" height="22" fill="#acb4d0"/>
<rect x="275" y="1116" width="22" height="22" fill="#a6a2ba"/>
<rect x="297" y="1116" width="22" height="22" fill="#9d93ac"/>
<rect x="319" y="1116" width="22" height="22" fill="#a597ac"/>
<rect x="341" y="1116" width="21" height="22" fill="#b5a3b0"/>
<rect x="362" y="1116" width="22" height="22" fill="#bdabac"/>
<rect x="384" y="1116" width="22" height="22" fill="#a9a7b0"/>
<rect x="406" y="1116" width="21" height="22" fill="#b1a7b0"/>
<rect x="427" y="1116" width="22" height="22" fill="#c1afb0"/>
<rect x="449" y="1116" width="22" height="22" fill="#c5b3b0"/>
<rect x="471" y="1116" width="21" height="22" fill="#b5afb4"/>
<rect x="492" y="1116" width="22" height="22" fill="#969aaa"/>
<rect x="514" y="1116" width="22" height="22" fill="#8f9da7"/>
<rect x="536" y="1116" width="22" height="22" fill="#a5abb0"/>
<rect x="558" y="1116" width="21" height="22" fill="#b1afb0"/>
<rect x="579" y="1116" width="22" height="22" fill="#adabac"/>
<rect x="15" y="1138" width="22" height="22" fill="#4268a0"/>
<rect x="37" y="1138" width="21" height="22" fill="#3a62a0"/>
<rect x="58" y="1138" width="22" height="22" fill="#3c649f"/>
<rect x="80" y="1138" width="44" height="22" fill="#466aa0"/>
<rect x="124" y="1138" width="21" height="22" fill="#4068a0"/>
<rect x="145" y="1138" width="22" height="22" fill="#5274a8"/>
<rect x="167" y="1138" width="22" height="22" fill="#5c7cac"/>
<rect x="189" y="1138" width="21" height="22" fill="#7898c0"/>
<rect x="210" y="1138" width="22" height="22" fill="#94acc8"/>
<rect x="232" y="1138" width="22" height="22" fill="#98a8c8"/>
<rect x="254" y="1138" width="21" height="22" fill="#8c98c0"/>
<rect x="275" y="1138" width="22" height="22" fill="#9795b2"/>
<rect x="297" y="1138" width="22" height="22" fill="#777da2"/>
<rect x="319" y="1138" width="22" height="22" fill="#7b81a6"/>
<rect x="341" y="1138" width="21" height="22" fill="#7f85a6"/>
<rect x="362" y="1138" width="22" height="22" fill="#7b81a6"/>
<rect x="384" y="1138" width="22" height="22" fill="#7781a6"/>
<rect x="406" y="1138" width="21" height="22" fill="#7b85a6"/>
<rect x="427" y="1138" width="22" height="22" fill="#a2a2b3"/>
<rect x="449" y="1138" width="22" height="22" fill="#cdbbb4"/>
<rect x="471" y="1138" width="21" height="22" fill="#a9abb4"/>
<rect x="492" y="1138" width="44" height="22" fill="#a1a7b0"/>
<rect x="536" y="1138" width="22" height="22" fill="#a5a7b0"/>
<rect x="558" y="1138" width="21" height="22" fill="#a5a3b0"/>
<rect x="579" y="1138" width="22" height="22" fill="#a19fac"/>
<rect x="15" y="1160" width="22" height="21" fill="#3c68a0"/>
<rect x="37" y="1160" width="21" height="21" fill="#3c60a0"/>
<rect x="58" y="1160" width="22" height="21" fill="#3c669f"/>
<rect x="80" y="1160" width="22" height="21" fill="#416a9c"/>
<rect x="102" y="1160" width="22" height="21" fill="#426a9c"/>
<rect x="124" y="1160" width="21" height="21" fill="#466c9f"/>
<rect x="145" y="1160" width="22" height="21" fill="#4470a0"/>
<rect x="167" y="1160" width="22" height="21" fill="#4874a0"/>
<rect x="189" y="1160" width="21" height="21" fill="#5a80a8"/>
<rect x="210" y="1160" width="22" height="21" fill="#7090b0"/>
<rect x="232" y="1160" width="22" height="21" fill="#6c8cb0"/>
<rect x="254" y="1160" width="21" height="21" fill="#7488b0"/>
<rect x="275" y="1160" width="22" height="21" fill="#63759e"/>
<rect x="297" y="1160" width="22" height="21" fill="#536996"/>
<rect x="319" y="1160" width="22" height="21" fill="#576d96"/>
<rect x="341" y="1160" width="21" height="21" fill="#5b7196"/>
<rect x="362" y="1160" width="22" height="21" fill="#576d9a"/>
<rect x="384" y="1160" width="22" height="21" fill="#536d9a"/>
<rect x="406" y="1160" width="21" height="21" fill="#5b759e"/>
<rect x="427" y="1160" width="22" height="21" fill="#a1a3b0"/>
<rect x="449" y="1160" width="22" height="21" fill="#b5afb0"/>
<rect x="471" y="1160" width="21" height="21" fill="#a9abac"/>
<rect x="492" y="1160" width="22" height="21" fill="#a9afac"/>
<rect x="514" y="1160" width="22" height="21" fill="#a5abac"/>
<rect x="536" y="1160" width="22" height="21" fill="#a1a3b0"/>
<rect x="558" y="1160" width="21" height="21" fill="#9e9ab2"/>
<rect x="579" y="1160" width="22" height="21" fill="#9a96ae"/>
<rect x="15" y="1181" width="22" height="22" fill="#3e6ca0"/>
<rect x="37" y="1181" width="43" height="22" fill="#3a68a0"/>
<rect x="80" y="1181" width="22" height="22" fill="#3866a4"/>
<rect x="102" y="1181" width="22" height="22" fill="#446ca0"/>
<rect x="124" y="1181" width="21" height="22" fill="#3e6aa0"/>
<rect x="145" y="1181" width="22" height="22" fill="#426c9f"/>
<rect x="167" y="1181" width="22" height="22" fill="#44749c"/>
<rect x="189" y="1181" width="21" height="22" fill="#5680a8"/>
<rect x="210" y="1181" width="22" height="22" fill="#6c8cb0"/>
<rect x="232" y="1181" width="22" height="22" fill="#7088b4"/>
<rect x="254" y="1181" width="21" height="22" fill="#7888b8"/>
<rect x="275" y="1181" width="22" height="22" fill="#6779a6"/>
<rect x="297" y="1181" width="22" height="22" fill="#576f9e"/>
<rect x="319" y="1181" width="22" height="22" fill="#576f9a"/>
<rect x="341" y="1181" width="21" height="22" fill="#59719a"/>
<rect x="362" y="1181" width="22" height="22" fill="#5b719a"/>
<rect x="384" y="1181" width="22" height="22" fill="#47619a"/>
<rect x="406" y="1181" width="21" height="22" fill="#556d9a"/>
<rect x="427" y="1181" width="22" height="22" fill="#7f89a2"/>
<rect x="449" y="1181" width="22" height="22" fill="#9296a8"/>
<rect x="471" y="1181" width="21" height="22" fill="#8b95a3"/>
<rect x="492" y="1181" width="44" height="22" fill="#8e9aa4"/>
<rect x="536" y="1181" width="22" height="22" fill="#8f91a7"/>
<rect x="558" y="1181" width="21" height="22" fill="#8b8da6"/>
<rect x="579" y="1181" width="22" height="22" fill="#7b85a6"/>
<rect x="15" y="1203" width="22" height="22" fill="#4474a0"/>
<rect x="37" y="1203" width="21" height="22" fill="#4270a0"/>
<rect x="58" y="1203" width="22" height="22" fill="#4470a0"/>
<rect x="80" y="1203" width="22" height="22" fill="#3862a8"/>
<rect x="102" y="1203" width="22" height="22" fill="#4a6ca4"/>
<rect x="124" y="1203" width="21" height="22" fill="#406ca0"/>
<rect x="145" y="1203" width="22" height="22" fill="#4874a0"/>
<rect x="167" y="1203" width="22" height="22" fill="#44789c"/>
<rect x="189" y="1203" width="21" height="22" fill="#5c84a8"/>
<rect x="210" y="1203" width="22" height="22" fill="#7890b0"/>
<rect x="232" y="1203" width="22" height="22" fill="#8898b8"/>
<rect x="254" y="1203" width="21" height="22" fill="#8c98bc"/>
<rect x="275" y="1203" width="22" height="22" fill="#7f8daa"/>
<rect x="297" y="1203" width="22" height="22" fill="#6781a2"/>
<rect x="319" y="1203" width="22" height="22" fill="#637d9e"/>
<rect x="341" y="1203" width="21" height="22" fill="#677d9e"/>
<rect x="362" y="1203" width="22" height="22" fill="#5b719a"/>
<rect x="384" y="1203" width="22" height="22" fill="#435996"/>
<rect x="406" y="1203" width="21" height="22" fill="#4d659a"/>
<rect x="427" y="1203" width="22" height="22" fill="#57719a"/>
<rect x="449" y="1203" width="22" height="22" fill="#5b759e"/>
<rect x="471" y="1203" width="21" height="22" fill="#677da2"/>
<rect x="492" y="1203" width="22" height="22" fill="#5f75a2"/>
<rect x="514" y="1203" width="22" height="22" fill="#6375a2"/>
<rect x="536" y="1203" width="22" height="22" fill="#5f75a2"/>
<rect x="558" y="1203" width="21" height="22" fill="#63759e"/>
<rect x="579" y="1203" width="22" height="22" fill="#6b799e"/>
<rect x="15" y="1225" width="22" height="21" fill="#4272a0"/>
<rect x="37" y="1225" width="21" height="21" fill="#40709c"/>
<rect x="58" y="1225" width="22" height="21" fill="#4270a0"/>
<rect x="80" y="1225" width="22" height="21" fill="#446ca4"/>
<rect x="102" y="1225" width="22" height="21" fill="#3e6aa0"/>
<rect x="124" y="1225" width="21" height="21" fill="#3e6ca0"/>
<rect x="145" y="1225" width="22" height="21" fill="#4270a0"/>
<rect x="167" y="1225" width="22" height="21" fill="#4a789c"/>
<rect x="189" y="1225" width="21" height="21" fill="#5c80a8"/>
<rect x="210" y="1225" width="22" height="21" fill="#7c8cb8"/>
<rect x="232" y="1225" width="22" height="21" fill="#bcc8d4"/>
<rect x="254" y="1225" width="21" height="21" fill="#c0ccdc"/>
<rect x="275" y="1225" width="22" height="21" fill="#9ba5ba"/>
<rect x="297" y="1225" width="22" height="21" fill="#6f85a6"/>
<rect x="319" y="1225" width="22" height="21" fill="#5f79a2"/>
<rect x="341" y="1225" width="21" height="21" fill="#4f6d96"/>
<rect x="362" y="1225" width="22" height="21" fill="#4d6996"/>
<rect x="384" y="1225" width="22" height="21" fill="#415996"/>
<rect x="406" y="1225" width="21" height="21" fill="#49659a"/>
<rect x="427" y="1225" width="22" height="21" fill="#536d9a"/>
<rect x="449" y="1225" width="22" height="21" fill="#516d96"/>
<rect x="471" y="1225" width="43" height="21" fill="#536d9a"/>
<rect x="514" y="1225" width="22" height="21" fill="#577196"/>
<rect x="536" y="1225" width="22" height="21" fill="#5b759a"/>
<rect x="558" y="1225" width="43" height="21" fill="#5b719e"/>
<rect x="15" y="1246" width="22" height="22" fill="#3e6ea4"/>
<rect x="37" y="1246" width="21" height="22" fill="#42749f"/>
<rect x="58" y="1246" width="22" height="22" fill="#4070a0"/>
<rect x="80" y="1246" width="44" height="22" fill="#406ca0"/>
<rect x="124" y="1246" width="21" height="22" fill="#3e6aa4"/>
<rect x="145" y="1246" width="22" height="22" fill="#4a74a4"/>
<rect x="167" y="1246" width="22" height="22" fill="#44749c"/>
<rect x="189" y="1246" width="21" height="22" fill="#5078ac"/>
<rect x="210" y="1246" width="22" height="22" fill="#8490bc"/>
<rect x="232" y="1246" width="22" height="22" fill="#d8dcdc"/>
<rect x="254" y="1246" width="21" height="22" fill="#d8e8f0"/>
<rect x="275" y="1246" width="22" height="22" fill="#9fb1c2"/>
<rect x="297" y="1246" width="22" height="22" fill="#6f85a6"/>
<rect x="319" y="1246" width="22" height="22" fill="#57759e"/>
<rect x="341" y="1246" width="21" height="22" fill="#456992"/>
<rect x="362" y="1246" width="22" height="22" fill="#436792"/>
<rect x="384" y="1246" width="22" height="22" fill="#415b96"/>
<rect x="406" y="1246" width="21" height="22" fill="#4d699a"/>
<rect x="427" y="1246" width="22" height="22" fill="#5f719a"/>
<rect x="449" y="1246" width="22" height="22" fill="#536d9a"/>
<rect x="471" y="1246" width="21" height="22" fill="#576d9e"/>
<rect x="492" y="1246" width="22" height="22" fill="#57719a"/>
<rect x="514" y="1246" width="44" height="22" fill="#537196"/>
<rect x="558" y="1246" width="21" height="22" fill="#577596"/>
<rect x="579" y="1246" width="22" height="22" fill="#4d6d9a"/>
<rect x="15.5" y="53.5" width="585" height="1214" fill="none" stroke="#000" stroke-opacity="0.13" stroke-width="1"/>
<rect x="873" y="53" width="586" height="1215" fill="#54249a"/>
<rect x="1220" y="161" width="22" height="22" fill="#a8689e"/>
<rect x="1199" y="183" width="43" height="22" fill="#a8689e"/>
<rect x="1199" y="205" width="21" height="22" fill="#a8689e"/>
<rect x="1307" y="422" width="22" height="22" fill="#7c2f78"/>
<rect x="1329" y="422" width="21" height="22" fill="#80307a"/>
<rect x="1350" y="422" width="22" height="22" fill="#843074"/>
<rect x="1372" y="422" width="22" height="22" fill="#883074"/>
<rect x="1394" y="422" width="22" height="22" fill="#86327a"/>
<rect x="1416" y="422" width="21" height="22" fill="#82307a"/>
<rect x="1437" y="422" width="22" height="22" fill="#7c2f78"/>
<rect x="1264" y="444" width="21" height="21" fill="#7a2e76"/>
<rect x="1285" y="444" width="22" height="21" fill="#7a2e74"/>
<rect x="1307" y="444" width="22" height="21" fill="#8a3878"/>
<rect x="1329" y="444" width="21" height="21" fill="#983e7a"/>
<rect x="1350" y="444" width="22" height="21" fill="#9c407a"/>
<rect x="1372" y="444" width="22" height="21" fill="#a0447c"/>
<rect x="1394" y="444" width="22" height="21" fill="#a4467c"/>
<rect x="1416" y="444" width="21" height="21" fill="#98407a"/>
<rect x="1437" y="444" width="22" height="21" fill="#8c3a7a"/>
<rect x="1242" y="465" width="22" height="22" fill="#7c3076"/>
<rect x="1264" y="465" width="21" height="22" fill="#803274"/>
<rect x="1285" y="465" width="22" height="22" fill="#823474"/>
<rect x="1307" y="465" width="22" height="22" fill="#94407a"/>
<rect x="1329" y="465" width="21" height="22" fill="#a84c7c"/>
<rect x="1350" y="465" width="22" height="22" fill="#ac4e80"/>
<rect x="1372" y="465" width="22" height="22" fill="#b85a88"/>
<rect x="1394" y="465" width="22" height="22" fill="#b05280"/>
<rect x="1416" y="465" width="21" height="22" fill="#9c447e"/>
<rect x="1437" y="465" width="22" height="22" fill="#94407c"/>
<rect x="1068" y="487" width="44" height="22" fill="#a8689e"/>
<rect x="1242" y="487" width="22" height="22" fill="#7c3076"/>
<rect x="1264" y="487" width="21" height="22" fill="#803274"/>
<rect x="1285" y="487" width="22" height="22" fill="#843474"/>
<rect x="1307" y="487" width="22" height="22" fill="#98407a"/>
<rect x="1329" y="487" width="21" height="22" fill="#a84c7c"/>
<rect x="1350" y="487" width="22" height="22" fill="#ac4e7e"/>
<rect x="1372" y="487" width="22" height="22" fill="#b05280"/>
<rect x="1394" y="487" width="22" height="22" fill="#ac4e7e"/>
<rect x="1416" y="487" width="21" height="22" fill="#a0467e"/>
<rect x="1437" y="487" width="22" height="22" fill="#98427c"/>
<rect x="1068" y="509" width="22" height="21" fill="#a8689e"/>
<rect x="1264" y="509" width="21" height="21" fill="#742872"/>
<rect x="1285" y="509" width="22" height="21" fill="#782a72"/>
<rect x="1307" y="509" width="22" height="21" fill="#94407a"/>
<rect x="1329" y="509" width="21" height="21" fill="#a44a7c"/>
<rect x="1350" y="509" width="44" height="21" fill="#a84c7c"/>
<rect x="1394" y="509" width="22" height="21" fill="#a4487c"/>
<rect x="1416" y="509" width="21" height="21" fill="#a0467c"/>
<rect x="1437" y="509" width="22" height="21" fill="#9c447c"/>
<rect x="1199" y="530" width="43" height="22" fill="#782a70"/>
<rect x="1242" y="530" width="22" height="22" fill="#762a70"/>
<rect x="1264" y="530" width="21" height="22" fill="#702670"/>
<rect x="1285" y="530" width="22" height="22" fill="#742870"/>
<rect x="1307" y="530" width="22" height="22" fill="#883876"/>
<rect x="1329" y="530" width="21" height="22" fill="#903c78"/>
<rect x="1350" y="530" width="44" height="22" fill="#94407a"/>
<rect x="1394" y="530" width="22" height="22" fill="#903e7a"/>
<rect x="1416" y="530" width="21" height="22" fill="#98427c"/>
<rect x="1437" y="530" width="22" height="22" fill="#9c447c"/>
<rect x="1155" y="552" width="22" height="22" fill="#7c2e74"/>
<rect x="1177" y="552" width="22" height="22" fill="#7c2e72"/>
<rect x="1199" y="552" width="21" height="22" fill="#742870"/>
<rect x="1220" y="552" width="44" height="22" fill="#70266e"/>
<rect x="1264" y="552" width="21" height="22" fill="#6c246e"/>
<rect x="1285" y="552" width="22" height="22" fill="#6e2670"/>
<rect x="1307" y="552" width="22" height="22" fill="#762a72"/>
<rect x="1329" y="552" width="43" height="22" fill="#7c2e74"/>
<rect x="1372" y="552" width="22" height="22" fill="#7e3074"/>
<rect x="1394" y="552" width="22" height="22" fill="#883676"/>
<rect x="1416" y="552" width="21" height="22" fill="#903c78"/>
<rect x="1437" y="552" width="22" height="22" fill="#98427a"/>
<rect x="1133" y="574" width="22" height="21" fill="#883676"/>
<rect x="1155" y="574" width="22" height="21" fill="#7c2e74"/>
<rect x="1177" y="574" width="22" height="21" fill="#762a70"/>
<rect x="1199" y="574" width="86" height="21" fill="#72286e"/>
<rect x="1285" y="574" width="44" height="21" fill="#70266e"/>
<rect x="1329" y="574" width="21" height="21" fill="#742870"/>
<rect x="1350" y="574" width="22" height="21" fill="#762a70"/>
<rect x="1372" y="574" width="22" height="21" fill="#782c72"/>
<rect x="1394" y="574" width="22" height="21" fill="#7a2e74"/>
<rect x="1416" y="574" width="21" height="21" fill="#823474"/>
<rect x="1437" y="574" width="22" height="21" fill="#8a3878"/>
<rect x="1177" y="595" width="22" height="22" fill="#742870"/>
<rect x="1199" y="595" width="65" height="22" fill="#72286e"/>
<rect x="1264" y="595" width="43" height="22" fill="#70266e"/>
<rect x="1307" y="595" width="43" height="22" fill="#6e2670"/>
<rect x="1350" y="595" width="22" height="22" fill="#722870"/>
<rect x="1372" y="595" width="22" height="22" fill="#742a72"/>
<rect x="1394" y="595" width="22" height="22" fill="#782c74"/>
<rect x="1416" y="595" width="21" height="22" fill="#7e3074"/>
<rect x="1437" y="595" width="22" height="22" fill="#863676"/>
<rect x="1350" y="617" width="22" height="22" fill="#742872"/>
<rect x="1372" y="617" width="22" height="22" fill="#742a72"/>
<rect x="1394" y="617" width="22" height="22" fill="#782c72"/>
<rect x="1416" y="617" width="21" height="22" fill="#7c2e74"/>
<rect x="1437" y="617" width="22" height="22" fill="#803274"/>
<rect x="1372" y="639" width="22" height="22" fill="#722870"/>
<rect x="1394" y="639" width="22" height="22" fill="#742a70"/>
<rect x="1416" y="639" width="43" height="22" fill="#762a72"/>
<rect x="1394" y="661" width="43" height="21" fill="#782c72"/>
<rect x="1437" y="661" width="22" height="21" fill="#762a70"/>
<rect x="1416" y="682" width="21" height="22" fill="#7a2c72"/>
<rect x="1437" y="682" width="22" height="22" fill="#762a70"/>
<rect x="1437" y="704" width="22" height="22" fill="#742870"/>
<rect x="1416" y="791" width="21" height="21" fill="#7a2c72"/>
<rect x="1437" y="791" width="22" height="21" fill="#742870"/>
<rect x="1394" y="812" width="22" height="22" fill="#7c2e74"/>
<rect x="1416" y="812" width="21" height="22" fill="#782c72"/>
<rect x="1437" y="812" width="22" height="22" fill="#762a70"/>
<rect x="1394" y="834" width="22" height="22" fill="#7e3074"/>
<rect x="1416" y="834" width="21" height="22" fill="#803274"/>
<rect x="1437" y="834" width="22" height="22" fill="#7e3074"/>
<rect x="1394" y="856" width="22" height="21" fill="#7e3074"/>
<rect x="1416" y="856" width="21" height="21" fill="#803274"/>
<rect x="1437" y="856" width="22" height="21" fill="#7e3074"/>
<rect x="1155" y="877" width="22" height="22" fill="#823474"/>
<rect x="1372" y="877" width="22" height="22" fill="#722870"/>
<rect x="1394" y="877" width="22" height="22" fill="#7c2e74"/>
<rect x="1416" y="877" width="43" height="22" fill="#803274"/>
<rect x="1133" y="899" width="22" height="22" fill="#7c2e74"/>
<rect x="1155" y="899" width="22" height="22" fill="#803274"/>
<rect x="1177" y="899" width="22" height="22" fill="#7e3074"/>
<rect x="1199" y="899" width="21" height="22" fill="#782c74"/>
<rect x="1372" y="899" width="22" height="22" fill="#722870"/>
<rect x="1394" y="899" width="22" height="22" fill="#7a2e74"/>
<rect x="1416" y="899" width="21" height="22" fill="#7e3074"/>
<rect x="1437" y="899" width="22" height="22" fill="#803274"/>
<rect x="1177" y="921" width="22" height="22" fill="#7e3074"/>
<rect x="1285" y="921" width="22" height="22" fill="#7a2c70"/>
<rect x="1307" y="921" width="43" height="22" fill="#742870"/>
<rect x="1350" y="921" width="22" height="22" fill="#722870"/>
<rect x="1372" y="921" width="22" height="22" fill="#702670"/>
<rect x="1394" y="921" width="22" height="22" fill="#742870"/>
<rect x="1416" y="921" width="21" height="22" fill="#782c72"/>
<rect x="1437" y="921" width="22" height="22" fill="#7a2e72"/>
<rect x="1242" y="943" width="22" height="21" fill="#762a70"/>
<rect x="1264" y="943" width="21" height="21" fill="#782c72"/>
<rect x="1285" y="943" width="22" height="21" fill="#7a2e74"/>
<rect x="1307" y="943" width="22" height="21" fill="#863a78"/>
<rect x="1329" y="943" width="43" height="21" fill="#7c3074"/>
<rect x="1372" y="943" width="22" height="21" fill="#762a70"/>
<rect x="1394" y="943" width="22" height="21" fill="#742870"/>
<rect x="1416" y="943" width="21" height="21" fill="#702670"/>
<rect x="1437" y="943" width="22" height="21" fill="#782c72"/>
<rect x="1220" y="964" width="22" height="22" fill="#7c3076"/>
<rect x="1242" y="964" width="22" height="22" fill="#803274"/>
<rect x="1264" y="964" width="65" height="22" fill="#843676"/>
<rect x="1329" y="964" width="21" height="22" fill="#863876"/>
<rect x="1350" y="964" width="22" height="22" fill="#843676"/>
<rect x="1372" y="964" width="22" height="22" fill="#803274"/>
<rect x="1394" y="964" width="22" height="22" fill="#7a2e72"/>
<rect x="1416" y="964" width="21" height="22" fill="#782c72"/>
<rect x="1437" y="964" width="22" height="22" fill="#7c3074"/>
<rect x="1177" y="986" width="22" height="22" fill="#803476"/>
<rect x="1199" y="986" width="21" height="22" fill="#863878"/>
<rect x="1220" y="986" width="44" height="22" fill="#883a78"/>
<rect x="1264" y="986" width="21" height="22" fill="#863878"/>
<rect x="1285" y="986" width="22" height="22" fill="#823676"/>
<rect x="1307" y="986" width="22" height="22" fill="#7a3076"/>
<rect x="1329" y="986" width="43" height="22" fill="#8c3c78"/>
<rect x="1372" y="986" width="22" height="22" fill="#883a78"/>
<rect x="1394" y="986" width="22" height="22" fill="#823474"/>
<rect x="1416" y="986" width="21" height="22" fill="#7e3074"/>
<rect x="1437" y="986" width="22" height="22" fill="#7c3074"/>
<rect x="1155" y="1008" width="22" height="21" fill="#8c3c7a"/>
<rect x="1177" y="1008" width="22" height="21" fill="#94407a"/>
<rect x="1199" y="1008" width="43" height="21" fill="#a04a7c"/>
<rect x="1242" y="1008" width="22" height="21" fill="#94427c"/>
<rect x="1264" y="1008" width="21" height="21" fill="#903e7a"/>
<rect x="1285" y="1008" width="22" height="21" fill="#843878"/>
<rect x="1307" y="1008" width="22" height="21" fill="#803476"/>
<rect x="1329" y="1008" width="43" height="21" fill="#8c3c7a"/>
<rect x="1372" y="1008" width="44" height="21" fill="#883a78"/>
<rect x="1416" y="1008" width="21" height="21" fill="#843676"/>
<rect x="1437" y="1008" width="22" height="21" fill="#803476"/>
<rect x="1155" y="1029" width="22" height="22" fill="#903e7a"/>
<rect x="1177" y="1029" width="22" height="22" fill="#9c467c"/>
<rect x="1199" y="1029" width="21" height="22" fill="#ac5280"/>
<rect x="1220" y="1029" width="22" height="22" fill="#a84e80"/>
<rect x="1242" y="1029" width="22" height="22" fill="#98447c"/>
<rect x="1264" y="1029" width="21" height="22" fill="#94427c"/>
<rect x="1285" y="1029" width="22" height="22" fill="#8e3e7a"/>
<rect x="1307" y="1029" width="43" height="22" fill="#8a3c7a"/>
<rect x="1350" y="1029" width="44" height="22" fill="#883a78"/>
<rect x="1394" y="1029" width="22" height="22" fill="#8a3c7a"/>
<rect x="1416" y="1029" width="43" height="22" fill="#8c3c7a"/>
<rect x="1155" y="1051" width="22" height="22" fill="#94407a"/>
<rect x="1177" y="1051" width="22" height="22" fill="#a84e7e"/>
<rect x="1199" y="1051" width="21" height="22" fill="#ac5280"/>
<rect x="1220" y="1051" width="22" height="22" fill="#a04a7e"/>
<rect x="1242" y="1051" width="22" height="22" fill="#9c467e"/>
<rect x="1264" y="1051" width="43" height="22" fill="#98447c"/>
<rect x="1307" y="1051" width="22" height="22" fill="#94427c"/>
<rect x="1329" y="1051" width="43" height="22" fill="#8c3c7a"/>
<rect x="1372" y="1051" width="44" height="22" fill="#863878"/>
<rect x="1416" y="1051" width="21" height="22" fill="#8c3e7a"/>
<rect x="1437" y="1051" width="22" height="22" fill="#8c3c7a"/>
<rect x="1068" y="1073" width="22" height="21" fill="#a8689e"/>
<rect x="1155" y="1073" width="22" height="21" fill="#a04a7c"/>
<rect x="1177" y="1073" width="22" height="21" fill="#b05280"/>
<rect x="1199" y="1073" width="21" height="21" fill="#ac5080"/>
<rect x="1220" y="1073" width="22" height="21" fill="#a44c7e"/>
<rect x="1242" y="1073" width="22" height="21" fill="#a04a7e"/>
<rect x="1264" y="1073" width="21" height="21" fill="#9c467e"/>
<rect x="1285" y="1073" width="22" height="21" fill="#9c467c"/>
<rect x="1307" y="1073" width="22" height="21" fill="#98447c"/>
<rect x="1329" y="1073" width="21" height="21" fill="#94407c"/>
<rect x="1350" y="1073" width="22" height="21" fill="#903e7a"/>
<rect x="1372" y="1073" width="22" height="21" fill="#883a78"/>
<rect x="1394" y="1073" width="22" height="21" fill="#863878"/>
<rect x="1416" y="1073" width="21" height="21" fill="#8c3c7a"/>
<rect x="1437" y="1073" width="22" height="21" fill="#94407a"/>
<rect x="1068" y="1094" width="22" height="22" fill="#a8689e"/>
<rect x="1155" y="1094" width="22" height="22" fill="#a0487c"/>
<rect x="1177" y="1094" width="22" height="22" fill="#a84c7c"/>
<rect x="1199" y="1094" width="65" height="22" fill="#a84e7e"/>
<rect x="1264" y="1094" width="21" height="22" fill="#a04a7e"/>
<rect x="1285" y="1094" width="22" height="22" fill="#9c467c"/>
<rect x="1307" y="1094" width="22" height="22" fill="#98447c"/>
<rect x="1329" y="1094" width="21" height="22" fill="#94407c"/>
<rect x="1350" y="1094" width="22" height="22" fill="#903e7a"/>
<rect x="1372" y="1094" width="22" height="22" fill="#863878"/>
<rect x="1394" y="1094" width="22" height="22" fill="#90407c"/>
<rect x="1416" y="1094" width="21" height="22" fill="#94407a"/>
<rect x="1437" y="1094" width="22" height="22" fill="#98427a"/>
<rect x="1155" y="1116" width="22" height="22" fill="#98407a"/>
<rect x="1177" y="1116" width="22" height="22" fill="#9c447a"/>
<rect x="1199" y="1116" width="43" height="22" fill="#a0487c"/>
<rect x="1242" y="1116" width="43" height="22" fill="#9c467c"/>
<rect x="1285" y="1116" width="44" height="22" fill="#a0487c"/>
<rect x="1329" y="1116" width="21" height="22" fill="#9c467c"/>
<rect x="1350" y="1116" width="22" height="22" fill="#94407c"/>
<rect x="1372" y="1116" width="22" height="22" fill="#903e7a"/>
<rect x="1394" y="1116" width="22" height="22" fill="#94407c"/>
<rect x="1416" y="1116" width="43" height="22" fill="#98427a"/>
<rect x="1264" y="1138" width="21" height="22" fill="#883a78"/>
<rect x="1285" y="1138" width="22" height="22" fill="#94407a"/>
<rect x="1307" y="1138" width="22" height="22" fill="#a44a7e"/>
<rect x="1329" y="1138" width="43" height="22" fill="#98447c"/>
<rect x="1372" y="1138" width="22" height="22" fill="#94427c"/>
<rect x="1394" y="1138" width="65" height="22" fill="#903e7a"/>
<rect x="1264" y="1160" width="21" height="21" fill="#843678"/>
<rect x="1285" y="1160" width="22" height="21" fill="#903e7a"/>
<rect x="1307" y="1160" width="87" height="21" fill="#98447c"/>
<rect x="1394" y="1160" width="22" height="21" fill="#903e7a"/>
<rect x="1416" y="1160" width="21" height="21" fill="#8c3c7a"/>
<rect x="1437" y="1160" width="22" height="21" fill="#8a3c7a"/>
<rect x="1264" y="1181" width="21" height="22" fill="#803476"/>
<rect x="1285" y="1181" width="22" height="22" fill="#883a78"/>
<rect x="1307" y="1181" width="22" height="22" fill="#8c3e7a"/>
<rect x="1329" y="1181" width="65" height="22" fill="#8c3c7a"/>
<rect x="1394" y="1181" width="22" height="22" fill="#883a78"/>
<rect x="1416" y="1181" width="21" height="22" fill="#863878"/>
<rect x="1437" y="1181" width="22" height="22" fill="#843676"/>
<rect x="1264" y="1203" width="21" height="22" fill="#7a2e74"/>
<rect x="1285" y="1203" width="22" height="22" fill="#7c3074"/>
<rect x="1307" y="1203" width="22" height="22" fill="#7e3276"/>
<rect x="1329" y="1203" width="21" height="22" fill="#823676"/>
<rect x="1350" y="1203" width="87" height="22" fill="#7e3274"/>
<rect x="1437" y="1203" width="22" height="22" fill="#7e3074"/>
<rect x="1285" y="1225" width="22" height="21" fill="#7a2e74"/>
<rect x="1307" y="1225" width="43" height="21" fill="#782c72"/>
<rect x="1350" y="1225" width="44" height="21" fill="#762a70"/>
<rect x="1394" y="1225" width="22" height="21" fill="#782c72"/>
<rect x="1416" y="1225" width="21" height="21" fill="#7a2e72"/>
<rect x="1437" y="1225" width="22" height="21" fill="#7c3074"/>
<rect x="1285" y="1246" width="22" height="22" fill="#7c3074"/>
<rect x="1307" y="1246" width="22" height="22" fill="#7a2e72"/>
<rect x="1329" y="1246" width="21" height="22" fill="#782c72"/>
<rect x="1350" y="1246" width="44" height="22" fill="#762a70"/>
<rect x="1394" y="1246" width="43" height="22" fill="#782c72"/>
<rect x="1437" y="1246" width="22" height="22" fill="#7a2e72"/>
<rect x="873.5" y="53.5" width="585" height="1214" fill="none" stroke="#000" stroke-opacity="0.13" stroke-width="1"/>
<rect x="1730" y="53" width="586" height="1215" fill="#7a249a"/>
<rect x="1752" y="53" width="21" height="22" fill="#8a369a"/>
<rect x="1773" y="53" width="44" height="22" fill="#822c9a"/>
<rect x="1817" y="53" width="22" height="22" fill="#701c9a"/>
<rect x="1839" y="53" width="21" height="22" fill="#66149a"/>
<rect x="1860" y="53" width="22" height="22" fill="#701c9a"/>
<rect x="2034" y="53" width="22" height="22" fill="#701c9a"/>
<rect x="2056" y="53" width="21" height="22" fill="#66149a"/>
<rect x="2077" y="53" width="22" height="22" fill="#701c9a"/>
<rect x="2164" y="53" width="22" height="22" fill="#92409a"/>
<rect x="2186" y="53" width="108" height="22" fill="#9e4a9c"/>
<rect x="2294" y="53" width="22" height="22" fill="#b45c9c"/>
<rect x="1752" y="75" width="21" height="21" fill="#92409a"/>
<rect x="1773" y="75" width="22" height="21" fill="#822c9a"/>
<rect x="1795" y="75" width="22" height="21" fill="#66149a"/>
<rect x="1817" y="75" width="22" height="21" fill="#701c9a"/>
<rect x="1904" y="75" width="21" height="21" fill="#701c9a"/>
<rect x="1925" y="75" width="22" height="21" fill="#66149a"/>
<rect x="1947" y="75" width="22" height="21" fill="#701c9a"/>
<rect x="2034" y="75" width="22" height="21" fill="#701c9a"/>
<rect x="2056" y="75" width="21" height="21" fill="#66149a"/>
<rect x="2077" y="75" width="22" height="21" fill="#701c9a"/>
<rect x="2164" y="75" width="22" height="21" fill="#92409a"/>
<rect x="2186" y="75" width="65" height="21" fill="#9e4a9c"/>
<rect x="2251" y="75" width="22" height="21" fill="#92409a"/>
<rect x="2273" y="75" width="21" height="21" fill="#8a369a"/>
<rect x="2294" y="75" width="22" height="21" fill="#aa569c"/>
<rect x="1752" y="96" width="21" height="22" fill="#8a369a"/>
<rect x="1795" y="96" width="44" height="22" fill="#701c9a"/>
<rect x="1860" y="96" width="44" height="22" fill="#822c9a"/>
<rect x="1925" y="96" width="87" height="22" fill="#701c9a"/>
<rect x="2164" y="96" width="43" height="22" fill="#8a369a"/>
<rect x="2207" y="96" width="22" height="22" fill="#92409a"/>
<rect x="2229" y="96" width="22" height="22" fill="#9e4a9c"/>
<rect x="2251" y="96" width="43" height="22" fill="#92409a"/>
<rect x="2294" y="96" width="22" height="22" fill="#bc6098"/>
<rect x="1860" y="118" width="22" height="22" fill="#822c9a"/>
<rect x="1882" y="118" width="22" height="22" fill="#8a369a"/>
<rect x="1904" y="118" width="21" height="22" fill="#822c9a"/>
<rect x="1947" y="118" width="22" height="22" fill="#701c9a"/>
<rect x="1969" y="118" width="21" height="22" fill="#66149a"/>
<rect x="1990" y="118" width="22" height="22" fill="#701c9a"/>
<rect x="2056" y="118" width="65" height="22" fill="#822c9a"/>
<rect x="2164" y="118" width="43" height="22" fill="#822c9a"/>
<rect x="2207" y="118" width="22" height="22" fill="#92409a"/>
<rect x="2229" y="118" width="22" height="22" fill="#9e4a9c"/>
<rect x="2251" y="118" width="22" height="22" fill="#aa569c"/>
<rect x="2273" y="118" width="21" height="22" fill="#b45c98"/>
<rect x="2294" y="118" width="22" height="22" fill="#c85888"/>
<rect x="1860" y="140" width="22" height="21" fill="#822c9a"/>
<rect x="1882" y="140" width="22" height="21" fill="#8a369a"/>
<rect x="1925" y="140" width="65" height="21" fill="#701c9a"/>
<rect x="2034" y="140" width="108" height="21" fill="#822c9a"/>
<rect x="2186" y="140" width="21" height="21" fill="#822c9a"/>
<rect x="2207" y="140" width="22" height="21" fill="#8a369a"/>
<rect x="2229" y="140" width="65" height="21" fill="#92409a"/>
<rect x="2294" y="140" width="22" height="21" fill="#b86098"/>
<rect x="1730" y="161" width="22" height="22" fill="#822c9a"/>
<rect x="1860" y="161" width="22" height="22" fill="#822c9a"/>
<rect x="1882" y="161" width="22" height="22" fill="#8a369a"/>
<rect x="1925" y="161" width="22" height="22" fill="#66149a"/>
<rect x="1947" y="161" width="22" height="22" fill="#701c9a"/>
<rect x="1990" y="161" width="152" height="22" fill="#822c9a"/>
<rect x="2207" y="161" width="22" height="22" fill="#822c9a"/>
<rect x="2229" y="161" width="65" height="22" fill="#8a369a"/>
<rect x="2294" y="161" width="22" height="22" fill="#9e4a9c"/>
<rect x="1730" y="183" width="22" height="22" fill="#822c9a"/>
<rect x="1817" y="183" width="43" height="22" fill="#701c9a"/>
<rect x="1882" y="183" width="22" height="22" fill="#8a369a"/>
<rect x="1904" y="183" width="21" height="22" fill="#822c9a"/>
<rect x="1925" y="183" width="44" height="22" fill="#701c9a"/>
<rect x="1990" y="183" width="152" height="22" fill="#822c9a"/>
<rect x="2294" y="183" width="22" height="22" fill="#92409a"/>
<rect x="1817" y="205" width="22" height="22" fill="#701c9a"/>
<rect x="1839" y="205" width="21" height="22" fill="#66149a"/>
<rect x="1882" y="205" width="22" height="22" fill="#8a369a"/>
<rect x="1904" y="205" width="21" height="22" fill="#822c9a"/>
<rect x="2012" y="205" width="130" height="22" fill="#822c9a"/>
<rect x="1730" y="227" width="130" height="21" fill="#701c9a"/>
<rect x="1882" y="227" width="22" height="21" fill="#8a369a"/>
<rect x="1904" y="227" width="21" height="21" fill="#822c9a"/>
<rect x="1990" y="227" width="109" height="21" fill="#822c9a"/>
<rect x="2099" y="227" width="22" height="21" fill="#8a369a"/>
<rect x="2121" y="227" width="21" height="21" fill="#822c9a"/>
<rect x="2142" y="227" width="22" height="21" fill="#701c9a"/>
<rect x="2186" y="227" width="21" height="21" fill="#822c9a"/>
<rect x="1730" y="248" width="87" height="22" fill="#66149a"/>
<rect x="1817" y="248" width="22" height="22" fill="#701c9a"/>
<rect x="1990" y="248" width="22" height="22" fill="#822c9a"/>
<rect x="2012" y="248" width="109" height="22" fill="#8a369a"/>
<rect x="2121" y="248" width="21" height="22" fill="#822c9a"/>
<rect x="2142" y="248" width="22" height="22" fill="#701c9a"/>
<rect x="2164" y="248" width="22" height="22" fill="#822c9a"/>
<rect x="2186" y="248" width="21" height="22" fill="#8a369a"/>
<rect x="2207" y="248" width="22" height="22" fill="#822c9a"/>
<rect x="1730" y="270" width="43" height="22" fill="#66149a"/>
<rect x="1773" y="270" width="44" height="22" fill="#701c9a"/>
<rect x="1839" y="270" width="21" height="22" fill="#822c9a"/>
<rect x="1882" y="270" width="43" height="22" fill="#701c9a"/>
<rect x="1947" y="270" width="43" height="22" fill="#701c9a"/>
<rect x="2012" y="270" width="22" height="22" fill="#822c9a"/>
<rect x="2034" y="270" width="87" height="22" fill="#8a369a"/>
<rect x="2121" y="270" width="65" height="22" fill="#92409a"/>
<rect x="2186" y="270" width="65" height="22" fill="#8a369a"/>
<rect x="2251" y="270" width="65" height="22" fill="#822c9a"/>
<rect x="1730" y="292" width="43" height="21" fill="#66149a"/>
<rect x="1773" y="292" width="22" height="21" fill="#701c9a"/>
<rect x="1817" y="292" width="43" height="21" fill="#8a369a"/>
<rect x="1882" y="292" width="22" height="21" fill="#66149a"/>
<rect x="1904" y="292" width="21" height="21" fill="#701c9a"/>
<rect x="1947" y="292" width="22" height="21" fill="#701c9a"/>
<rect x="1969" y="292" width="21" height="21" fill="#66149a"/>
<rect x="1990" y="292" width="22" height="21" fill="#701c9a"/>
<rect x="2012" y="292" width="22" height="21" fill="#822c9a"/>
<rect x="2034" y="292" width="87" height="21" fill="#8a369a"/>
<rect x="2121" y="292" width="21" height="21" fill="#9e4a9c"/>
<rect x="2142" y="292" width="22" height="21" fill="#ac5c9c"/>
<rect x="2164" y="292" width="22" height="21" fill="#9e4a9c"/>
<rect x="2186" y="292" width="21" height="21" fill="#8a369a"/>
<rect x="2207" y="292" width="44" height="21" fill="#92409a"/>
<rect x="2251" y="292" width="65" height="21" fill="#8a369a"/>
<rect x="1817" y="313" width="22" height="22" fill="#822c9a"/>
<rect x="1839" y="313" width="21" height="22" fill="#8a369a"/>
<rect x="1882" y="313" width="87" height="22" fill="#701c9a"/>
<rect x="1969" y="313" width="21" height="22" fill="#66149a"/>
<rect x="2012" y="313" width="22" height="22" fill="#822c9a"/>
<rect x="2034" y="313" width="22" height="22" fill="#8a369a"/>
<rect x="2056" y="313" width="21" height="22" fill="#92409a"/>
<rect x="2077" y="313" width="22" height="22" fill="#8a369a"/>
<rect x="2099" y="313" width="22" height="22" fill="#822c9a"/>
<rect x="2121" y="313" width="21" height="22" fill="#92409a"/>
<rect x="2142" y="313" width="22" height="22" fill="#9e4a9c"/>
<rect x="2164" y="313" width="22" height="22" fill="#92409a"/>
<rect x="2186" y="313" width="21" height="22" fill="#822c9a"/>
<rect x="2207" y="313" width="66" height="22" fill="#8a369a"/>
<rect x="2273" y="313" width="43" height="22" fill="#92409a"/>
<rect x="1730" y="335" width="22" height="22" fill="#822c9a"/>
<rect x="1752" y="335" width="21" height="22" fill="#8a369a"/>
<rect x="1773" y="335" width="22" height="22" fill="#822c9a"/>
<rect x="1904" y="335" width="21" height="22" fill="#701c9a"/>
<rect x="1925" y="335" width="65" height="22" fill="#66149a"/>
<rect x="2012" y="335" width="22" height="22" fill="#8a369a"/>
<rect x="2034" y="335" width="22" height="22" fill="#92409a"/>
<rect x="2056" y="335" width="21" height="22" fill="#9e4a9c"/>
<rect x="2077" y="335" width="22" height="22" fill="#92409a"/>
<rect x="2251" y="335" width="22" height="22" fill="#8a369a"/>
<rect x="2273" y="335" width="21" height="22" fill="#92409a"/>
<rect x="2294" y="335" width="22" height="22" fill="#9e4a9c"/>
<rect x="1730" y="357" width="22" height="21" fill="#822c9a"/>
<rect x="1752" y="357" width="21" height="21" fill="#8a369a"/>
<rect x="1795" y="357" width="44" height="21" fill="#701c9a"/>
<rect x="1904" y="357" width="21" height="21" fill="#701c9a"/>
<rect x="1925" y="357" width="22" height="21" fill="#66149a"/>
<rect x="1947" y="357" width="43" height="21" fill="#701c9a"/>
<rect x="2012" y="357" width="22" height="21" fill="#8a369a"/>
<rect x="2034" y="357" width="43" height="21" fill="#92409a"/>
<rect x="2077" y="357" width="22" height="21" fill="#8a369a"/>
<rect x="2186" y="357" width="65" height="21" fill="#701c9a"/>
<rect x="2251" y="357" width="22" height="21" fill="#822c9a"/>
<rect x="2273" y="357" width="21" height="21" fill="#92409a"/>
<rect x="2294" y="357" width="22" height="21" fill="#9e4a9c"/>
<rect x="1730" y="378" width="43" height="22" fill="#822c9a"/>
<rect x="1773" y="378" width="22" height="22" fill="#701c9a"/>
<rect x="1795" y="378" width="22" height="22" fill="#66149a"/>
<rect x="1817" y="378" width="22" height="22" fill="#701c9a"/>
<rect x="1904" y="378" width="21" height="22" fill="#701c9a"/>
<rect x="1925" y="378" width="22" height="22" fill="#66149a"/>
<rect x="1947" y="378" width="22" height="22" fill="#701c9a"/>
<rect x="1990" y="378" width="22" height="22" fill="#822c9a"/>
<rect x="2012" y="378" width="44" height="22" fill="#8a369a"/>
<rect x="2056" y="378" width="21" height="22" fill="#92409a"/>
<rect x="2077" y="378" width="22" height="22" fill="#8a369a"/>
<rect x="2099" y="378" width="22" height="22" fill="#822c9a"/>
<rect x="2164" y="378" width="22" height="22" fill="#701c9a"/>
<rect x="2186" y="378" width="65" height="22" fill="#66149a"/>
<rect x="2273" y="378" width="21" height="22" fill="#8a369a"/>
<rect x="2294" y="378" width="22" height="22" fill="#92409a"/>
<rect x="1730" y="400" width="65" height="22" fill="#701c9a"/>
<rect x="1795" y="400" width="22" height="22" fill="#66149a"/>
<rect x="1817" y="400" width="22" height="22" fill="#701c9a"/>
<rect x="1904" y="400" width="43" height="22" fill="#701c9a"/>
<rect x="1969" y="400" width="108" height="22" fill="#822c9a"/>
<rect x="2077" y="400" width="44" height="22" fill="#8a369a"/>
<rect x="2121" y="400" width="21" height="22" fill="#a04c9c"/>
<rect x="2142" y="400" width="22" height="22" fill="#b45890"/>
<rect x="2164" y="400" width="22" height="22" fill="#c05080"/>
<rect x="2186" y="400" width="21" height="22" fill="#c04a78"/>
<rect x="2207" y="400" width="22" height="22" fill="#c04874"/>
<rect x="2229" y="400" width="22" height="22" fill="#c04470"/>
<rect x="2251" y="400" width="22" height="22" fill="#c0446e"/>
<rect x="2273" y="400" width="21" height="22" fill="#c04870"/>
<rect x="2294" y="400" width="22" height="22" fill="#bc4c78"/>
<rect x="1730" y="422" width="22" height="22" fill="#701c9a"/>
<rect x="1752" y="422" width="65" height="22" fill="#66149a"/>
<rect x="1817" y="422" width="22" height="22" fill="#701c9a"/>
<rect x="1947" y="422" width="22" height="22" fill="#822c9a"/>
<rect x="1969" y="422" width="21" height="22" fill="#8a369a"/>
<rect x="1990" y="422" width="22" height="22" fill="#822c9a"/>
<rect x="2012" y="422" width="22" height="22" fill="#66149a"/>
<rect x="2034" y="422" width="22" height="22" fill="#701c9a"/>
<rect x="2077" y="422" width="22" height="22" fill="#8a369a"/>
<rect x="2099" y="422" width="22" height="22" fill="#92409a"/>
<rect x="2121" y="422" width="21" height="22" fill="#b85c94"/>
<rect x="2142" y="422" width="22" height="22" fill="#c04c78"/>
<rect x="2164" y="422" width="22" height="22" fill="#c43c68"/>
<rect x="2186" y="422" width="21" height="22" fill="#c42c58"/>
<rect x="2207" y="422" width="22" height="22" fill="#c42050"/>
<rect x="2229" y="422" width="22" height="22" fill="#c4184a"/>
<rect x="2251" y="422" width="22" height="22" fill="#c41c4c"/>
<rect x="2273" y="422" width="21" height="22" fill="#c42450"/>
<rect x="2294" y="422" width="22" height="22" fill="#c03058"/>
<rect x="1730" y="444" width="22" height="21" fill="#701c9a"/>
<rect x="1752" y="444" width="21" height="21" fill="#66149a"/>
<rect x="1773" y="444" width="87" height="21" fill="#701c9a"/>
<rect x="1882" y="444" width="108" height="21" fill="#8a369a"/>
<rect x="1990" y="444" width="22" height="21" fill="#822c9a"/>
<rect x="2012" y="444" width="22" height="21" fill="#66149a"/>
<rect x="2056" y="444" width="21" height="21" fill="#8a369a"/>
<rect x="2077" y="444" width="22" height="21" fill="#b45c94"/>
<rect x="2099" y="444" width="22" height="21" fill="#c05480"/>
<rect x="2121" y="444" width="21" height="21" fill="#c43c68"/>
<rect x="2142" y="444" width="22" height="21" fill="#c42c58"/>
<rect x="2164" y="444" width="22" height="21" fill="#c4244e"/>
<rect x="2186" y="444" width="21" height="21" fill="#c41c48"/>
<rect x="2207" y="444" width="22" height="21" fill="#c01440"/>
<rect x="2229" y="444" width="22" height="21" fill="#bc0c38"/>
<rect x="2251" y="444" width="22" height="21" fill="#c0103c"/>
<rect x="2273" y="444" width="21" height="21" fill="#c01844"/>
<rect x="2294" y="444" width="22" height="21" fill="#c0204c"/>
<rect x="1730" y="465" width="22" height="22" fill="#701c9a"/>
<rect x="1752" y="465" width="21" height="22" fill="#66149a"/>
<rect x="1773" y="465" width="22" height="22" fill="#701c9a"/>
<rect x="1817" y="465" width="22" height="22" fill="#701c9a"/>
<rect x="1839" y="465" width="21" height="22" fill="#66149a"/>
<rect x="1882" y="465" width="22" height="22" fill="#8a369a"/>
<rect x="1904" y="465" width="65" height="22" fill="#92409a"/>
<rect x="1969" y="465" width="21" height="22" fill="#8a369a"/>
<rect x="2012" y="465" width="22" height="22" fill="#66149a"/>
<rect x="2056" y="465" width="21" height="22" fill="#92409a"/>
<rect x="2077" y="465" width="22" height="22" fill="#c05084"/>
<rect x="2099" y="465" width="22" height="22" fill="#c43868"/>
<rect x="2121" y="465" width="21" height="22" fill="#c42c58"/>
<rect x="2142" y="465" width="22" height="22" fill="#c4244e"/>
<rect x="2164" y="465" width="22" height="22" fill="#c41c48"/>
<rect x="2186" y="465" width="21" height="22" fill="#c01440"/>
<rect x="2207" y="465" width="22" height="22" fill="#bc0c38"/>
<rect x="2229" y="465" width="44" height="22" fill="#bc0834"/>
<rect x="2273" y="465" width="21" height="22" fill="#c00c38"/>
<rect x="2294" y="465" width="22" height="22" fill="#c01440"/>
<rect x="1752" y="487" width="21" height="22" fill="#701c9a"/>
<rect x="1817" y="487" width="43" height="22" fill="#701c9a"/>
<rect x="1860" y="487" width="22" height="22" fill="#822c9a"/>
<rect x="1882" y="487" width="108" height="22" fill="#8a369a"/>
<rect x="1990" y="487" width="22" height="22" fill="#822c9a"/>
<rect x="2012" y="487" width="22" height="22" fill="#701c9a"/>
<rect x="2034" y="487" width="22" height="22" fill="#822c9a"/>
<rect x="2056" y="487" width="21" height="22" fill="#9e4a9c"/>
<rect x="2077" y="487" width="22" height="22" fill="#c05888"/>
<rect x="2099" y="487" width="22" height="22" fill="#c44470"/>
<rect x="2121" y="487" width="21" height="22" fill="#c43460"/>
<rect x="2142" y="487" width="22" height="22" fill="#c42852"/>
<rect x="2164" y="487" width="22" height="22" fill="#c41c48"/>
<rect x="2186" y="487" width="21" height="22" fill="#c01440"/>
<rect x="2207" y="487" width="22" height="22" fill="#bc0c38"/>
<rect x="2229" y="487" width="44" height="22" fill="#bc0834"/>
<rect x="2273" y="487" width="21" height="22" fill="#bc0c38"/>
<rect x="2294" y="487" width="22" height="22" fill="#c01440"/>
<rect x="1860" y="509" width="22" height="21" fill="#822c9a"/>
<rect x="1882" y="509" width="152" height="21" fill="#8a369a"/>
<rect x="2034" y="509" width="22" height="21" fill="#9e4a9c"/>
<rect x="2056" y="509" width="21" height="21" fill="#aa569c"/>
<rect x="2077" y="509" width="22" height="21" fill="#b46098"/>
<rect x="2099" y="509" width="22" height="21" fill="#b85c90"/>
<rect x="2121" y="509" width="21" height="21" fill="#c43c68"/>
<rect x="2142" y="509" width="22" height="21" fill="#c42c54"/>
<rect x="2164" y="509" width="22" height="21" fill="#c42048"/>
<rect x="2186" y="509" width="21" height="21" fill="#c01440"/>
<rect x="2207" y="509" width="22" height="21" fill="#bc0c38"/>
<rect x="2229" y="509" width="44" height="21" fill="#bc0834"/>
<rect x="2273" y="509" width="21" height="21" fill="#bc0c38"/>
<rect x="2294" y="509" width="22" height="21" fill="#c00c3c"/>
<rect x="1860" y="530" width="22" height="22" fill="#822c9a"/>
<rect x="1882" y="530" width="43" height="22" fill="#8a369a"/>
<rect x="1925" y="530" width="22" height="22" fill="#92409a"/>
<rect x="1947" y="530" width="22" height="22" fill="#a8549c"/>
<rect x="1969" y="530" width="43" height="22" fill="#b86094"/>
<rect x="2012" y="530" width="44" height="22" fill="#bc6090"/>
<rect x="2056" y="530" width="21" height="22" fill="#c06090"/>
<rect x="2077" y="530" width="22" height="22" fill="#c05c8c"/>
<rect x="2099" y="530" width="22" height="22" fill="#c0507c"/>
<rect x="2121" y="530" width="21" height="22" fill="#c43c64"/>
<rect x="2142" y="530" width="22" height="22" fill="#c42c54"/>
<rect x="2164" y="530" width="22" height="22" fill="#c4204a"/>
<rect x="2186" y="530" width="21" height="22" fill="#c01844"/>
<rect x="2207" y="530" width="22" height="22" fill="#bc0c38"/>
<rect x="2229" y="530" width="65" height="22" fill="#bc0834"/>
<rect x="2294" y="530" width="22" height="22" fill="#c00838"/>
<rect x="1860" y="552" width="22" height="22" fill="#8a369a"/>
<rect x="1882" y="552" width="43" height="22" fill="#92409a"/>
<rect x="1925" y="552" width="22" height="22" fill="#9e4a9c"/>
<rect x="1947" y="552" width="22" height="22" fill="#b46098"/>
<rect x="1969" y="552" width="21" height="22" fill="#c05888"/>
<rect x="1990" y="552" width="22" height="22" fill="#c0507c"/>
<rect x="2012" y="552" width="22" height="22" fill="#c04c78"/>
<rect x="2034" y="552" width="22" height="22" fill="#c04874"/>
<rect x="2056" y="552" width="21" height="22" fill="#c04470"/>
<rect x="2077" y="552" width="22" height="22" fill="#c0446e"/>
<rect x="2099" y="552" width="22" height="22" fill="#c0406c"/>
<rect x="2121" y="552" width="21" height="22" fill="#c03c68"/>
<rect x="2142" y="552" width="22" height="22" fill="#c03460"/>
<rect x="2164" y="552" width="22" height="22" fill="#c02c58"/>
<rect x="2186" y="552" width="21" height="22" fill="#c02450"/>
<rect x="2207" y="552" width="22" height="22" fill="#c02050"/>
<rect x="2229" y="552" width="22" height="22" fill="#c01c4c"/>
<rect x="2251" y="552" width="22" height="22" fill="#c01444"/>
<rect x="2273" y="552" width="21" height="22" fill="#c00c3c"/>
<rect x="2294" y="552" width="22" height="22" fill="#c00838"/>
<rect x="1730" y="574" width="22" height="21" fill="#822c9a"/>
<rect x="1795" y="574" width="65" height="21" fill="#822c9a"/>
<rect x="1860" y="574" width="22" height="21" fill="#8a369a"/>
<rect x="1882" y="574" width="22" height="21" fill="#92409a"/>
<rect x="1904" y="574" width="43" height="21" fill="#9e4a9c"/>
<rect x="1947" y="574" width="22" height="21" fill="#b46098"/>
<rect x="1969" y="574" width="21" height="21" fill="#c05c8c"/>
<rect x="1990" y="574" width="22" height="21" fill="#c05888"/>
<rect x="2012" y="574" width="22" height="21" fill="#c4507c"/>
<rect x="2034" y="574" width="43" height="21" fill="#c44874"/>
<rect x="2077" y="574" width="22" height="21" fill="#c44c78"/>
<rect x="2099" y="574" width="43" height="21" fill="#c4507c"/>
<rect x="2142" y="574" width="22" height="21" fill="#c44470"/>
<rect x="2164" y="574" width="22" height="21" fill="#c43c68"/>
<rect x="2186" y="574" width="21" height="21" fill="#c43864"/>
<rect x="2207" y="574" width="22" height="21" fill="#c43058"/>
<rect x="2229" y="574" width="22" height="21" fill="#c02450"/>
<rect x="2251" y="574" width="22" height="21" fill="#c01844"/>
<rect x="2273" y="574" width="21" height="21" fill="#c0103c"/>
<rect x="2294" y="574" width="22" height="21" fill="#c00c38"/>
<rect x="1730" y="595" width="22" height="22" fill="#8a369a"/>
<rect x="1773" y="595" width="22" height="22" fill="#822c9a"/>
<rect x="1795" y="595" width="87" height="22" fill="#8a369a"/>
<rect x="1882" y="595" width="22" height="22" fill="#92409a"/>
<rect x="1904" y="595" width="21" height="22" fill="#9e4a9c"/>
<rect x="1925" y="595" width="22" height="22" fill="#aa569c"/>
<rect x="1947" y="595" width="22" height="22" fill="#b86498"/>
<rect x="1969" y="595" width="21" height="22" fill="#c05488"/>
<rect x="1990" y="595" width="22" height="22" fill="#c05080"/>
<rect x="2012" y="595" width="22" height="22" fill="#c44470"/>
<rect x="2034" y="595" width="43" height="22" fill="#c4406c"/>
<rect x="2077" y="595" width="22" height="22" fill="#c04874"/>
<rect x="2099" y="595" width="22" height="22" fill="#c04c78"/>
<rect x="2121" y="595" width="21" height="22" fill="#c0507c"/>
<rect x="2142" y="595" width="22" height="22" fill="#c45884"/>
<rect x="2164" y="595" width="22" height="22" fill="#c45888"/>
<rect x="2186" y="595" width="21" height="22" fill="#c45884"/>
<rect x="2207" y="595" width="22" height="22" fill="#c43c68"/>
<rect x="2229" y="595" width="22" height="22" fill="#c43460"/>
<rect x="2251" y="595" width="22" height="22" fill="#c42450"/>
<rect x="2273" y="595" width="21" height="22" fill="#c01844"/>
<rect x="2294" y="595" width="22" height="22" fill="#c01440"/>
<rect x="1752" y="617" width="21" height="22" fill="#701c9a"/>
<rect x="1795" y="617" width="22" height="22" fill="#8a369a"/>
<rect x="1817" y="617" width="22" height="22" fill="#822c9a"/>
<rect x="1839" y="617" width="21" height="22" fill="#701c9a"/>
<rect x="1860" y="617" width="22" height="22" fill="#822c9a"/>
<rect x="1882" y="617" width="43" height="22" fill="#92409a"/>
<rect x="1925" y="617" width="22" height="22" fill="#9e4a9c"/>
<rect x="1947" y="617" width="22" height="22" fill="#ac5898"/>
<rect x="1969" y="617" width="21" height="22" fill="#b86098"/>
<rect x="1990" y="617" width="44" height="22" fill="#bc6494"/>
<rect x="2034" y="617" width="43" height="22" fill="#c06494"/>
<rect x="2077" y="617" width="44" height="22" fill="#c06090"/>
<rect x="2121" y="617" width="21" height="22" fill="#c05c8c"/>
<rect x="2142" y="617" width="44" height="22" fill="#c0608c"/>
<rect x="2186" y="617" width="21" height="22" fill="#c06490"/>
<rect x="2207" y="617" width="22" height="22" fill="#c04878"/>
<rect x="2229" y="617" width="22" height="22" fill="#c43c68"/>
<rect x="2251" y="617" width="22" height="22" fill="#c42c58"/>
<rect x="2273" y="617" width="21" height="22" fill="#c42048"/>
<rect x="2294" y="617" width="22" height="22" fill="#c01844"/>
<rect x="1730" y="639" width="43" height="22" fill="#66149a"/>
<rect x="1795" y="639" width="22" height="22" fill="#8a369a"/>
<rect x="1839" y="639" width="21" height="22" fill="#66149a"/>
<rect x="1882" y="639" width="22" height="22" fill="#8a369a"/>
<rect x="1904" y="639" width="43" height="22" fill="#92409a"/>
<rect x="1947" y="639" width="22" height="22" fill="#8a369a"/>
<rect x="2077" y="639" width="22" height="22" fill="#8a369a"/>
<rect x="2099" y="639" width="43" height="22" fill="#9e4a9c"/>
<rect x="2142" y="639" width="22" height="22" fill="#aa569c"/>
<rect x="2164" y="639" width="22" height="22" fill="#9e4a9c"/>
<rect x="2186" y="639" width="21" height="22" fill="#aa569c"/>
<rect x="2207" y="639" width="22" height="22" fill="#b86098"/>
<rect x="2229" y="639" width="22" height="22" fill="#c04c78"/>
<rect x="2251" y="639" width="22" height="22" fill="#c43c68"/>
<rect x="2273" y="639" width="21" height="22" fill="#c43058"/>
<rect x="2294" y="639" width="22" height="22" fill="#c4244e"/>
<rect x="1730" y="661" width="43" height="21" fill="#66149a"/>
<rect x="1795" y="661" width="22" height="21" fill="#8a369a"/>
<rect x="1817" y="661" width="22" height="21" fill="#822c9a"/>
<rect x="1839" y="661" width="21" height="21" fill="#701c9a"/>
<rect x="1882" y="661" width="22" height="21" fill="#822c9a"/>
<rect x="1904" y="661" width="43" height="21" fill="#8a369a"/>
<rect x="1947" y="661" width="22" height="21" fill="#822c9a"/>
<rect x="2077" y="661" width="22" height="21" fill="#822c9a"/>
<rect x="2099" y="661" width="22" height="21" fill="#92409a"/>
<rect x="2121" y="661" width="86" height="21" fill="#9e4a9c"/>
<rect x="2207" y="661" width="22" height="21" fill="#b46098"/>
<rect x="2229" y="661" width="22" height="21" fill="#bc6494"/>
<rect x="2251" y="661" width="22" height="21" fill="#c44c74"/>
<rect x="2273" y="661" width="21" height="21" fill="#c43c64"/>
<rect x="2294" y="661" width="22" height="21" fill="#c43058"/>
<rect x="1730" y="682" width="22" height="22" fill="#66149a"/>
<rect x="1752" y="682" width="21" height="22" fill="#701c9a"/>
<rect x="1795" y="682" width="22" height="22" fill="#8a369a"/>
<rect x="1817" y="682" width="22" height="22" fill="#822c9a"/>
<rect x="2077" y="682" width="22" height="22" fill="#822c9a"/>
<rect x="2099" y="682" width="22" height="22" fill="#8a369a"/>
<rect x="2121" y="682" width="108" height="22" fill="#92409a"/>
<rect x="2229" y="682" width="22" height="22" fill="#9e4a9c"/>
<rect x="2251" y="682" width="22" height="22" fill="#b86498"/>
<rect x="2273" y="682" width="21" height="22" fill="#c06490"/>
<rect x="2294" y="682" width="22" height="22" fill="#c44c74"/>
<rect x="1730" y="704" width="22" height="22" fill="#66149a"/>
<rect x="1752" y="704" width="21" height="22" fill="#701c9a"/>
<rect x="1773" y="704" width="22" height="22" fill="#822c9a"/>
<rect x="1795" y="704" width="44" height="22" fill="#8a369a"/>
<rect x="1839" y="704" width="43" height="22" fill="#822c9a"/>
<rect x="2012" y="704" width="22" height="22" fill="#701c9a"/>
<rect x="2121" y="704" width="21" height="22" fill="#822c9a"/>
<rect x="2142" y="704" width="87" height="22" fill="#8a369a"/>
<rect x="2229" y="704" width="22" height="22" fill="#92409a"/>
<rect x="2251" y="704" width="22" height="22" fill="#a8549c"/>
<rect x="2273" y="704" width="21" height="22" fill="#bc6494"/>
<rect x="2294" y="704" width="22" height="22" fill="#c46088"/>
<rect x="1730" y="726" width="22" height="21" fill="#701c9a"/>
<rect x="1752" y="726" width="21" height="21" fill="#66149a"/>
<rect x="1795" y="726" width="22" height="21" fill="#822c9a"/>
<rect x="1817" y="726" width="22" height="21" fill="#8a369a"/>
<rect x="1839" y="726" width="43" height="21" fill="#822c9a"/>
<rect x="1990" y="726" width="22" height="21" fill="#701c9a"/>
<rect x="2012" y="726" width="22" height="21" fill="#66149a"/>
<rect x="2034" y="726" width="22" height="21" fill="#701c9a"/>
<rect x="2121" y="726" width="21" height="21" fill="#822c9a"/>
<rect x="2142" y="726" width="109" height="21" fill="#8a369a"/>
<rect x="2251" y="726" width="22" height="21" fill="#92409a"/>
<rect x="2273" y="726" width="21" height="21" fill="#a8549c"/>
<rect x="2294" y="726" width="22" height="21" fill="#b86098"/>
<rect x="1730" y="747" width="43" height="22" fill="#701c9a"/>
<rect x="1795" y="747" width="174" height="22" fill="#822c9a"/>
<rect x="2121" y="747" width="21" height="22" fill="#822c9a"/>
<rect x="2142" y="747" width="65" height="22" fill="#8a369a"/>
<rect x="2207" y="747" width="44" height="22" fill="#92409a"/>
<rect x="2251" y="747" width="22" height="22" fill="#9e4a9c"/>
<rect x="2273" y="747" width="21" height="22" fill="#aa569c"/>
<rect x="2294" y="747" width="22" height="22" fill="#b86498"/>
<rect x="1730" y="769" width="22" height="22" fill="#701c9a"/>
<rect x="1773" y="769" width="22" height="22" fill="#822c9a"/>
<rect x="1795" y="769" width="22" height="22" fill="#8a369a"/>
<rect x="1817" y="769" width="22" height="22" fill="#822c9a"/>
<rect x="1839" y="769" width="21" height="22" fill="#701c9a"/>
<rect x="1860" y="769" width="22" height="22" fill="#822c9a"/>
<rect x="1882" y="769" width="65" height="22" fill="#8a369a"/>
<rect x="1947" y="769" width="22" height="22" fill="#822c9a"/>
<rect x="1990" y="769" width="22" height="22" fill="#8a369a"/>
<rect x="2012" y="769" width="22" height="22" fill="#92409a"/>
<rect x="2034" y="769" width="22" height="22" fill="#8a369a"/>
<rect x="2164" y="769" width="22" height="22" fill="#822c9a"/>
<rect x="2186" y="769" width="21" height="22" fill="#8a369a"/>
<rect x="2207" y="769" width="44" height="22" fill="#9e4a9c"/>
<rect x="2251" y="769" width="22" height="22" fill="#aa569c"/>
<rect x="2273" y="769" width="21" height="22" fill="#ac589c"/>
<rect x="2294" y="769" width="22" height="22" fill="#bc6494"/>
<rect x="1730" y="791" width="65" height="21" fill="#822c9a"/>
<rect x="1817" y="791" width="22" height="21" fill="#822c9a"/>
<rect x="1839" y="791" width="108" height="21" fill="#8a369a"/>
<rect x="1969" y="791" width="21" height="21" fill="#701c9a"/>
<rect x="2186" y="791" width="21" height="21" fill="#822c9a"/>
<rect x="2207" y="791" width="22" height="21" fill="#9e4a9c"/>
<rect x="2229" y="791" width="22" height="21" fill="#b46098"/>
<rect x="2251" y="791" width="22" height="21" fill="#c06490"/>
<rect x="2273" y="791" width="21" height="21" fill="#c45080"/>
<rect x="2294" y="791" width="22" height="21" fill="#c43c68"/>
<rect x="1730" y="812" width="22" height="22" fill="#822c9a"/>
<rect x="1752" y="812" width="21" height="22" fill="#8a369a"/>
<rect x="1795" y="812" width="22" height="22" fill="#701c9a"/>
<rect x="1817" y="812" width="22" height="22" fill="#822c9a"/>
<rect x="1839" y="812" width="43" height="22" fill="#92409a"/>
<rect x="1882" y="812" width="43" height="22" fill="#8a369a"/>
<rect x="1925" y="812" width="22" height="22" fill="#822c9a"/>
<rect x="1969" y="812" width="65" height="22" fill="#66149a"/>
<rect x="2034" y="812" width="22" height="22" fill="#701c9a"/>
<rect x="2207" y="812" width="22" height="22" fill="#9e4a9c"/>
<rect x="2229" y="812" width="22" height="22" fill="#b86094"/>
<rect x="2251" y="812" width="22" height="22" fill="#c44c78"/>
<rect x="2273" y="812" width="21" height="22" fill="#c43460"/>
<rect x="2294" y="812" width="22" height="22" fill="#c42450"/>
<rect x="1730" y="834" width="43" height="22" fill="#822c9a"/>
<rect x="1817" y="834" width="22" height="22" fill="#8a369a"/>
<rect x="1839" y="834" width="65" height="22" fill="#92409a"/>
<rect x="1904" y="834" width="21" height="22" fill="#8a369a"/>
<rect x="1925" y="834" width="65" height="22" fill="#822c9a"/>
<rect x="1990" y="834" width="22" height="22" fill="#92409a"/>
<rect x="2012" y="834" width="22" height="22" fill="#aa569c"/>
<rect x="2034" y="834" width="22" height="22" fill="#9e4a9c"/>
<rect x="2121" y="834" width="86" height="22" fill="#701c9a"/>
<rect x="2207" y="834" width="22" height="22" fill="#9e4a9c"/>
<rect x="2229" y="834" width="22" height="22" fill="#bc5c8c"/>
<rect x="2251" y="834" width="22" height="22" fill="#c44470"/>
<rect x="2273" y="834" width="21" height="22" fill="#c43058"/>
<rect x="2294" y="834" width="22" height="22" fill="#c42450"/>
<rect x="1730" y="856" width="22" height="21" fill="#822c9a"/>
<rect x="1773" y="856" width="22" height="21" fill="#822c9a"/>
<rect x="1795" y="856" width="44" height="21" fill="#8a369a"/>
<rect x="1839" y="856" width="65" height="21" fill="#92409a"/>
<rect x="1904" y="856" width="43" height="21" fill="#8a369a"/>
<rect x="1947" y="856" width="22" height="21" fill="#92409a"/>
<rect x="1969" y="856" width="21" height="21" fill="#9e4a9c"/>
<rect x="1990" y="856" width="22" height="21" fill="#b05c9c"/>
<rect x="2012" y="856" width="22" height="21" fill="#bc6494"/>
<rect x="2034" y="856" width="22" height="21" fill="#b05c98"/>
<rect x="2121" y="856" width="21" height="21" fill="#701c9a"/>
<rect x="2142" y="856" width="65" height="21" fill="#66149a"/>
<rect x="2207" y="856" width="22" height="21" fill="#9e4a9c"/>
<rect x="2229" y="856" width="22" height="21" fill="#bc5888"/>
<rect x="2251" y="856" width="22" height="21" fill="#c43c68"/>
<rect x="2273" y="856" width="21" height="21" fill="#c4244e"/>
<rect x="2294" y="856" width="22" height="21" fill="#c01844"/>
<rect x="1730" y="877" width="22" height="22" fill="#822c9a"/>
<rect x="1773" y="877" width="22" height="22" fill="#822c9a"/>
<rect x="1795" y="877" width="44" height="22" fill="#8a369a"/>
<rect x="1839" y="877" width="65" height="22" fill="#92409a"/>
<rect x="1904" y="877" width="43" height="22" fill="#8a369a"/>
<rect x="1947" y="877" width="22" height="22" fill="#9e4a9c"/>
<rect x="1969" y="877" width="21" height="22" fill="#b86098"/>
<rect x="1990" y="877" width="22" height="22" fill="#c45884"/>
<rect x="2012" y="877" width="22" height="22" fill="#c44070"/>
<rect x="2034" y="877" width="22" height="22" fill="#c4507c"/>
<rect x="2056" y="877" width="21" height="22" fill="#b86498"/>
<rect x="2077" y="877" width="22" height="22" fill="#a8549c"/>
<rect x="2121" y="877" width="21" height="22" fill="#8a369a"/>
<rect x="2142" y="877" width="44" height="22" fill="#92409a"/>
<rect x="2186" y="877" width="21" height="22" fill="#9e4a9c"/>
<rect x="2207" y="877" width="22" height="22" fill="#b05c98"/>
<rect x="2229" y="877" width="22" height="22" fill="#c04c78"/>
<rect x="2251" y="877" width="22" height="22" fill="#c43460"/>
<rect x="2273" y="877" width="21" height="22" fill="#c4204a"/>
<rect x="2294" y="877" width="22" height="22" fill="#c01440"/>
<rect x="1730" y="899" width="22" height="22" fill="#822c9a"/>
<rect x="1773" y="899" width="22" height="22" fill="#822c9a"/>
<rect x="1795" y="899" width="65" height="22" fill="#8a369a"/>
<rect x="1860" y="899" width="44" height="22" fill="#92409a"/>
<rect x="1904" y="899" width="21" height="22" fill="#8a369a"/>
<rect x="1925" y="899" width="22" height="22" fill="#92409a"/>
<rect x="1947" y="899" width="22" height="22" fill="#b46098"/>
<rect x="1969" y="899" width="21" height="22" fill="#c05484"/>
<rect x="1990" y="899" width="22" height="22" fill="#c43c68"/>
<rect x="2012" y="899" width="22" height="22" fill="#c42858"/>
<rect x="2034" y="899" width="22" height="22" fill="#c43460"/>
<rect x="2056" y="899" width="21" height="22" fill="#c44c78"/>
<rect x="2077" y="899" width="22" height="22" fill="#b86094"/>
<rect x="2121" y="899" width="21" height="22" fill="#a4509c"/>
<rect x="2142" y="899" width="22" height="22" fill="#b46098"/>
<rect x="2164" y="899" width="22" height="22" fill="#b86094"/>
<rect x="2186" y="899" width="21" height="22" fill="#bc6090"/>
<rect x="2207" y="899" width="22" height="22" fill="#c0507c"/>
<rect x="2229" y="899" width="22" height="22" fill="#c43864"/>
<rect x="2251" y="899" width="22" height="22" fill="#c42450"/>
<rect x="2273" y="899" width="21" height="22" fill="#c01844"/>
<rect x="2294" y="899" width="22" height="22" fill="#c01440"/>
<rect x="1795" y="921" width="22" height="22" fill="#8a369a"/>
<rect x="1839" y="921" width="21" height="22" fill="#701c9a"/>
<rect x="1860" y="921" width="22" height="22" fill="#822c9a"/>
<rect x="1882" y="921" width="22" height="22" fill="#8a369a"/>
<rect x="1904" y="921" width="21" height="22" fill="#92409a"/>
<rect x="1925" y="921" width="22" height="22" fill="#9e4a9c"/>
<rect x="1947" y="921" width="22" height="22" fill="#b05c9c"/>
<rect x="1969" y="921" width="21" height="22" fill="#c06090"/>
<rect x="1990" y="921" width="22" height="22" fill="#c4507c"/>
<rect x="2012" y="921" width="22" height="22" fill="#c44070"/>
<rect x="2034" y="921" width="22" height="22" fill="#c44874"/>
<rect x="2056" y="921" width="21" height="22" fill="#c45884"/>
<rect x="2077" y="921" width="22" height="22" fill="#c06090"/>
<rect x="2099" y="921" width="22" height="22" fill="#bc6494"/>
<rect x="2121" y="921" width="21" height="22" fill="#c0588c"/>
<rect x="2142" y="921" width="22" height="22" fill="#c44874"/>
<rect x="2164" y="921" width="43" height="22" fill="#c44470"/>
<rect x="2207" y="921" width="22" height="22" fill="#c43c68"/>
<rect x="2229" y="921" width="22" height="22" fill="#c42c58"/>
<rect x="2251" y="921" width="22" height="22" fill="#c42450"/>
<rect x="2273" y="921" width="21" height="22" fill="#c41c48"/>
<rect x="2294" y="921" width="22" height="22" fill="#c01844"/>
<rect x="1730" y="943" width="22" height="21" fill="#822c9a"/>
<rect x="1817" y="943" width="22" height="21" fill="#701c9a"/>
<rect x="1839" y="943" width="21" height="21" fill="#66149a"/>
<rect x="1882" y="943" width="22" height="21" fill="#8a369a"/>
<rect x="1904" y="943" width="21" height="21" fill="#92409a"/>
<rect x="1925" y="943" width="22" height="21" fill="#9e4a9c"/>
<rect x="1947" y="943" width="22" height="21" fill="#b05c9c"/>
<rect x="1969" y="943" width="21" height="21" fill="#b86098"/>
<rect x="1990" y="943" width="22" height="21" fill="#b86498"/>
<rect x="2012" y="943" width="44" height="21" fill="#b4649c"/>
<rect x="2056" y="943" width="21" height="21" fill="#b86498"/>
<rect x="2077" y="943" width="22" height="21" fill="#c05c8c"/>
<rect x="2099" y="943" width="22" height="21" fill="#c44874"/>
<rect x="2121" y="943" width="21" height="21" fill="#c43864"/>
<rect x="2142" y="943" width="22" height="21" fill="#c42c58"/>
<rect x="2164" y="943" width="22" height="21" fill="#c43058"/>
<rect x="2186" y="943" width="43" height="21" fill="#c42c58"/>
<rect x="2229" y="943" width="22" height="21" fill="#c42852"/>
<rect x="2251" y="943" width="22" height="21" fill="#c42450"/>
<rect x="2273" y="943" width="21" height="21" fill="#c4244e"/>
<rect x="2294" y="943" width="22" height="21" fill="#c0244e"/>
<rect x="1752" y="964" width="21" height="22" fill="#66149a"/>
<rect x="1773" y="964" width="22" height="22" fill="#701c9a"/>
<rect x="1817" y="964" width="22" height="22" fill="#701c9a"/>
<rect x="1860" y="964" width="22" height="22" fill="#822c9a"/>
<rect x="1882" y="964" width="22" height="22" fill="#8a369a"/>
<rect x="1904" y="964" width="21" height="22" fill="#92409a"/>
<rect x="1925" y="964" width="22" height="22" fill="#9e4a9c"/>
<rect x="1947" y="964" width="22" height="22" fill="#b05c9c"/>
<rect x="1969" y="964" width="21" height="22" fill="#bc6094"/>
<rect x="1990" y="964" width="22" height="22" fill="#c0588c"/>
<rect x="2012" y="964" width="22" height="22" fill="#c4507c"/>
<rect x="2034" y="964" width="22" height="22" fill="#c43c68"/>
<rect x="2056" y="964" width="21" height="22" fill="#c43460"/>
<rect x="2077" y="964" width="22" height="22" fill="#c42c58"/>
<rect x="2099" y="964" width="22" height="22" fill="#c42450"/>
<rect x="2121" y="964" width="21" height="22" fill="#c4204a"/>
<rect x="2142" y="964" width="65" height="22" fill="#c41c48"/>
<rect x="2207" y="964" width="66" height="22" fill="#c41844"/>
<rect x="2273" y="964" width="43" height="22" fill="#c01844"/>
<rect x="1730" y="986" width="22" height="22" fill="#701c9a"/>
<rect x="1752" y="986" width="21" height="22" fill="#58089a"/>
<rect x="1773" y="986" width="22" height="22" fill="#66149a"/>
<rect x="1817" y="986" width="22" height="22" fill="#822c9a"/>
<rect x="1839" y="986" width="65" height="22" fill="#8a369a"/>
<rect x="1904" y="986" width="21" height="22" fill="#92409a"/>
<rect x="1925" y="986" width="22" height="22" fill="#9e4a9c"/>
<rect x="1947" y="986" width="22" height="22" fill="#b05c9c"/>
<rect x="1969" y="986" width="21" height="22" fill="#c05c8c"/>
<rect x="1990" y="986" width="22" height="22" fill="#c4507c"/>
<rect x="2012" y="986" width="22" height="22" fill="#c44c78"/>
<rect x="2034" y="986" width="22" height="22" fill="#c43460"/>
<rect x="2056" y="986" width="21" height="22" fill="#c42450"/>
<rect x="2077" y="986" width="22" height="22" fill="#c01c48"/>
<rect x="2099" y="986" width="22" height="22" fill="#c01444"/>
<rect x="2121" y="986" width="21" height="22" fill="#c0103e"/>
<rect x="2142" y="986" width="22" height="22" fill="#bc0838"/>
<rect x="2164" y="986" width="22" height="22" fill="#bc0434"/>
<rect x="2186" y="986" width="21" height="22" fill="#c00c3c"/>
<rect x="2207" y="986" width="87" height="22" fill="#c0103c"/>
<rect x="2294" y="986" width="22" height="22" fill="#c01440"/>
<rect x="1730" y="1008" width="22" height="21" fill="#701c9a"/>
<rect x="1752" y="1008" width="21" height="21" fill="#5c0c9a"/>
<rect x="1773" y="1008" width="22" height="21" fill="#66149a"/>
<rect x="1795" y="1008" width="22" height="21" fill="#701c9a"/>
<rect x="1839" y="1008" width="43" height="21" fill="#822c9a"/>
<rect x="1882" y="1008" width="22" height="21" fill="#8a369a"/>
<rect x="1904" y="1008" width="21" height="21" fill="#92409a"/>
<rect x="1925" y="1008" width="22" height="21" fill="#9e4a9c"/>
<rect x="1947" y="1008" width="22" height="21" fill="#ac589c"/>
<rect x="1969" y="1008" width="21" height="21" fill="#c05c8c"/>
<rect x="1990" y="1008" width="22" height="21" fill="#c43c68"/>
<rect x="2012" y="1008" width="22" height="21" fill="#c42c58"/>
<rect x="2034" y="1008" width="22" height="21" fill="#c0204c"/>
<rect x="2056" y="1008" width="21" height="21" fill="#be1a48"/>
<rect x="2077" y="1008" width="22" height="21" fill="#c01040"/>
<rect x="2099" y="1008" width="22" height="21" fill="#bc0838"/>
<rect x="2121" y="1008" width="152" height="21" fill="#bc0434"/>
<rect x="2273" y="1008" width="21" height="21" fill="#bc0636"/>
<rect x="2294" y="1008" width="22" height="21" fill="#bc0838"/>
<rect x="1730" y="1029" width="22" height="22" fill="#701c9a"/>
<rect x="1752" y="1029" width="65" height="22" fill="#66149a"/>
<rect x="1817" y="1029" width="22" height="22" fill="#701c9a"/>
<rect x="1860" y="1029" width="22" height="22" fill="#822c9a"/>
<rect x="1882" y="1029" width="22" height="22" fill="#8a369a"/>
<rect x="1904" y="1029" width="21" height="22" fill="#92409a"/>
<rect x="1925" y="1029" width="22" height="22" fill="#9e4a9c"/>
<rect x="1947" y="1029" width="22" height="22" fill="#ac589c"/>
<rect x="1969" y="1029" width="21" height="22" fill="#bc6090"/>
<rect x="1990" y="1029" width="22" height="22" fill="#c43c68"/>
<rect x="2012" y="1029" width="22" height="22" fill="#c0244e"/>
<rect x="2034" y="1029" width="22" height="22" fill="#c01844"/>
<rect x="2056" y="1029" width="21" height="22" fill="#c01040"/>
<rect x="2077" y="1029" width="22" height="22" fill="#bc0c3c"/>
<rect x="2099" y="1029" width="22" height="22" fill="#bc0838"/>
<rect x="2121" y="1029" width="21" height="22" fill="#bc0434"/>
<rect x="2142" y="1029" width="131" height="22" fill="#bc0432"/>
<rect x="2273" y="1029" width="21" height="22" fill="#bc0636"/>
<rect x="2294" y="1029" width="22" height="22" fill="#bc0838"/>
<rect x="1730" y="1051" width="43" height="22" fill="#701c9a"/>
<rect x="1773" y="1051" width="44" height="22" fill="#66149a"/>
<rect x="1817" y="1051" width="22" height="22" fill="#701c9a"/>
<rect x="1860" y="1051" width="22" height="22" fill="#8a369a"/>
<rect x="1882" y="1051" width="43" height="22" fill="#92409a"/>
<rect x="1925" y="1051" width="22" height="22" fill="#9e4a9c"/>
<rect x="1947" y="1051" width="22" height="22" fill="#ac589c"/>
<rect x="1969" y="1051" width="21" height="22" fill="#bc6494"/>
<rect x="1990" y="1051" width="22" height="22" fill="#c43e6a"/>
<rect x="2012" y="1051" width="22" height="22" fill="#c02650"/>
<rect x="2034" y="1051" width="22" height="22" fill="#c01844"/>
<rect x="2056" y="1051" width="21" height="22" fill="#c01040"/>
<rect x="2077" y="1051" width="22" height="22" fill="#bc0c3c"/>
<rect x="2099" y="1051" width="22" height="22" fill="#bc0838"/>
<rect x="2121" y="1051" width="21" height="22" fill="#bc0434"/>
<rect x="2142" y="1051" width="131" height="22" fill="#bc0432"/>
<rect x="2273" y="1051" width="21" height="22" fill="#bc0636"/>
<rect x="2294" y="1051" width="22" height="22" fill="#bc0838"/>
<rect x="1730" y="1073" width="22" height="21" fill="#701c9a"/>
<rect x="1752" y="1073" width="21" height="21" fill="#822c9a"/>
<rect x="1773" y="1073" width="22" height="21" fill="#701c9a"/>
<rect x="1795" y="1073" width="22" height="21" fill="#66149a"/>
<rect x="1817" y="1073" width="22" height="21" fill="#701c9a"/>
<rect x="1839" y="1073" width="21" height="21" fill="#822c9a"/>
<rect x="1860" y="1073" width="22" height="21" fill="#92409a"/>
<rect x="1882" y="1073" width="22" height="21" fill="#9e4a9c"/>
<rect x="1904" y="1073" width="21" height="21" fill="#92409a"/>
<rect x="1925" y="1073" width="22" height="21" fill="#9e4a9c"/>
<rect x="1947" y="1073" width="22" height="21" fill="#ac589c"/>
<rect x="1969" y="1073" width="21" height="21" fill="#bc6494"/>
<rect x="1990" y="1073" width="22" height="21" fill="#c4446e"/>
<rect x="2012" y="1073" width="22" height="21" fill="#c02c56"/>
<rect x="2034" y="1073" width="22" height="21" fill="#c01c48"/>
<rect x="2056" y="1073" width="21" height="21" fill="#c01040"/>
<rect x="2077" y="1073" width="22" height="21" fill="#bc0c3c"/>
<rect x="2099" y="1073" width="22" height="21" fill="#bc0838"/>
<rect x="2121" y="1073" width="21" height="21" fill="#bc0434"/>
<rect x="2142" y="1073" width="131" height="21" fill="#bc0432"/>
<rect x="2273" y="1073" width="21" height="21" fill="#bc0636"/>
<rect x="2294" y="1073" width="22" height="21" fill="#bc0838"/>
<rect x="1730" y="1094" width="65" height="22" fill="#701c9a"/>
<rect x="1795" y="1094" width="22" height="22" fill="#66149a"/>
<rect x="1839" y="1094" width="21" height="22" fill="#822c9a"/>
<rect x="1860" y="1094" width="22" height="22" fill="#8a369a"/>
<rect x="1882" y="1094" width="43" height="22" fill="#92409a"/>
<rect x="1925" y="1094" width="22" height="22" fill="#8a369a"/>
<rect x="1947" y="1094" width="22" height="22" fill="#9e4a9c"/>
<rect x="1969" y="1094" width="21" height="22" fill="#b86098"/>
<rect x="1990" y="1094" width="22" height="22" fill="#c4507c"/>
<rect x="2012" y="1094" width="22" height="22" fill="#c43c68"/>
<rect x="2034" y="1094" width="22" height="22" fill="#c43460"/>
<rect x="2056" y="1094" width="21" height="22" fill="#c0244e"/>
<rect x="2077" y="1094" width="22" height="22" fill="#c0204c"/>
<rect x="2099" y="1094" width="22" height="22" fill="#c01c48"/>
<rect x="2121" y="1094" width="21" height="22" fill="#bc1040"/>
<rect x="2142" y="1094" width="22" height="22" fill="#bc0c3c"/>
<rect x="2164" y="1094" width="65" height="22" fill="#bc0838"/>
<rect x="2229" y="1094" width="22" height="22" fill="#bc0434"/>
<rect x="2251" y="1094" width="43" height="22" fill="#bc0838"/>
<rect x="2294" y="1094" width="22" height="22" fill="#bc0a38"/>
<rect x="1730" y="1116" width="22" height="22" fill="#701c9a"/>
<rect x="1752" y="1116" width="21" height="22" fill="#66149a"/>
<rect x="1773" y="1116" width="22" height="22" fill="#701c9a"/>
<rect x="1860" y="1116" width="22" height="22" fill="#822c9a"/>
<rect x="1882" y="1116" width="65" height="22" fill="#8a369a"/>
<rect x="1947" y="1116" width="22" height="22" fill="#92409a"/>
<rect x="1969" y="1116" width="21" height="22" fill="#ac589c"/>
<rect x="1990" y="1116" width="22" height="22" fill="#c05c88"/>
<rect x="2012" y="1116" width="22" height="22" fill="#c44070"/>
<rect x="2034" y="1116" width="22" height="22" fill="#c4406c"/>
<rect x="2056" y="1116" width="21" height="22" fill="#c03a66"/>
<rect x="2077" y="1116" width="22" height="22" fill="#c0345f"/>
<rect x="2099" y="1116" width="22" height="22" fill="#c02c58"/>
<rect x="2121" y="1116" width="21" height="22" fill="#c01844"/>
<rect x="2142" y="1116" width="22" height="22" fill="#bc1040"/>
<rect x="2164" y="1116" width="22" height="22" fill="#bc0c3c"/>
<rect x="2186" y="1116" width="108" height="22" fill="#bc0838"/>
<rect x="2294" y="1116" width="22" height="22" fill="#bc0a38"/>
<rect x="1730" y="1138" width="22" height="22" fill="#701c9a"/>
<rect x="1752" y="1138" width="21" height="22" fill="#66149a"/>
<rect x="1773" y="1138" width="22" height="22" fill="#701c9a"/>
<rect x="1817" y="1138" width="22" height="22" fill="#701c9a"/>
<rect x="1882" y="1138" width="22" height="22" fill="#822c9a"/>
<rect x="1904" y="1138" width="43" height="22" fill="#8a369a"/>
<rect x="1947" y="1138" width="22" height="22" fill="#92409a"/>
<rect x="1969" y="1138" width="21" height="22" fill="#a8549c"/>
<rect x="1990" y="1138" width="22" height="22" fill="#c06090"/>
<rect x="2012" y="1138" width="44" height="22" fill="#c44c78"/>
<rect x="2056" y="1138" width="21" height="22" fill="#c04470"/>
<rect x="2077" y="1138" width="22" height="22" fill="#c03c68"/>
<rect x="2099" y="1138" width="22" height="22" fill="#c0305c"/>
<rect x="2121" y="1138" width="21" height="22" fill="#c01c4a"/>
<rect x="2142" y="1138" width="22" height="22" fill="#c01444"/>
<rect x="2164" y="1138" width="22" height="22" fill="#c01040"/>
<rect x="2186" y="1138" width="65" height="22" fill="#c00c3c"/>
<rect x="2251" y="1138" width="65" height="22" fill="#bc0c3a"/>
<rect x="1730" y="1160" width="43" height="21" fill="#66149a"/>
<rect x="1773" y="1160" width="22" height="21" fill="#701c9a"/>
<rect x="1817" y="1160" width="22" height="21" fill="#701c9a"/>
<rect x="1839" y="1160" width="21" height="21" fill="#66149a"/>
<rect x="1860" y="1160" width="44" height="21" fill="#701c9a"/>
<rect x="1904" y="1160" width="21" height="21" fill="#8a369a"/>
<rect x="1925" y="1160" width="44" height="21" fill="#92409a"/>
<rect x="1969" y="1160" width="21" height="21" fill="#9e4a9c"/>
<rect x="1990" y="1160" width="22" height="21" fill="#a4549c"/>
<rect x="2012" y="1160" width="44" height="21" fill="#b46098"/>
<rect x="2056" y="1160" width="21" height="21" fill="#b05c9c"/>
<rect x="2077" y="1160" width="22" height="21" fill="#b85a8e"/>
<rect x="2099" y="1160" width="22" height="21" fill="#c04874"/>
<rect x="2121" y="1160" width="21" height="21" fill="#c02c58"/>
<rect x="2142" y="1160" width="22" height="21" fill="#c0204c"/>
<rect x="2164" y="1160" width="22" height="21" fill="#c01c48"/>
<rect x="2186" y="1160" width="43" height="21" fill="#c01844"/>
<rect x="2229" y="1160" width="22" height="21" fill="#c01444"/>
<rect x="2251" y="1160" width="22" height="21" fill="#c01040"/>
<rect x="2273" y="1160" width="43" height="21" fill="#c00c3c"/>
<rect x="1817" y="1181" width="22" height="22" fill="#701c9a"/>
<rect x="1839" y="1181" width="21" height="22" fill="#66149a"/>
<rect x="1860" y="1181" width="22" height="22" fill="#701c9a"/>
<rect x="1904" y="1181" width="21" height="22" fill="#8a369a"/>
<rect x="1925" y="1181" width="44" height="22" fill="#92409a"/>
<rect x="1969" y="1181" width="21" height="22" fill="#a4509c"/>
<rect x="1990" y="1181" width="22" height="22" fill="#ac589c"/>
<rect x="2012" y="1181" width="44" height="22" fill="#b46098"/>
<rect x="2056" y="1181" width="21" height="22" fill="#b05c9c"/>
<rect x="2077" y="1181" width="22" height="22" fill="#b86090"/>
<rect x="2099" y="1181" width="22" height="22" fill="#c04c78"/>
<rect x="2121" y="1181" width="21" height="22" fill="#c0345f"/>
<rect x="2142" y="1181" width="22" height="22" fill="#c02852"/>
<rect x="2164" y="1181" width="22" height="22" fill="#c0244e"/>
<rect x="2186" y="1181" width="21" height="22" fill="#c0204c"/>
<rect x="2207" y="1181" width="22" height="22" fill="#c01c4a"/>
<rect x="2229" y="1181" width="44" height="22" fill="#c01c48"/>
<rect x="2273" y="1181" width="21" height="22" fill="#c01844"/>
<rect x="2294" y="1181" width="22" height="22" fill="#c01444"/>
<rect x="1730" y="1203" width="22" height="22" fill="#822c9a"/>
<rect x="1752" y="1203" width="21" height="22" fill="#8a369a"/>
<rect x="1773" y="1203" width="22" height="22" fill="#822c9a"/>
<rect x="1817" y="1203" width="22" height="22" fill="#701c9a"/>
<rect x="1839" y="1203" width="21" height="22" fill="#66149a"/>
<rect x="1860" y="1203" width="22" height="22" fill="#701c9a"/>
<rect x="1904" y="1203" width="21" height="22" fill="#8a369a"/>
<rect x="1925" y="1203" width="44" height="22" fill="#92409a"/>
<rect x="1969" y="1203" width="21" height="22" fill="#a4509c"/>
<rect x="1990" y="1203" width="22" height="22" fill="#ac589c"/>
<rect x="2012" y="1203" width="44" height="22" fill="#b46098"/>
<rect x="2056" y="1203" width="21" height="22" fill="#ac5c9c"/>
<rect x="2077" y="1203" width="22" height="22" fill="#b46094"/>
<rect x="2099" y="1203" width="22" height="22" fill="#c0507c"/>
<rect x="2121" y="1203" width="21" height="22" fill="#c03c68"/>
<rect x="2142" y="1203" width="22" height="22" fill="#c0305c"/>
<rect x="2164" y="1203" width="22" height="22" fill="#c02c58"/>
<rect x="2186" y="1203" width="21" height="22" fill="#c02854"/>
<rect x="2207" y="1203" width="44" height="22" fill="#c02450"/>
<rect x="2251" y="1203" width="22" height="22" fill="#c0244e"/>
<rect x="2273" y="1203" width="21" height="22" fill="#c0204c"/>
<rect x="2294" y="1203" width="22" height="22" fill="#c01c4a"/>
<rect x="1817" y="1225" width="22" height="21" fill="#701c9a"/>
<rect x="1839" y="1225" width="21" height="21" fill="#66149a"/>
<rect x="1860" y="1225" width="22" height="21" fill="#701c9a"/>
<rect x="1904" y="1225" width="21" height="21" fill="#8a369a"/>
<rect x="1925" y="1225" width="44" height="21" fill="#92409a"/>
<rect x="1969" y="1225" width="43" height="21" fill="#9e4a9c"/>
<rect x="2012" y="1225" width="44" height="21" fill="#a4509c"/>
<rect x="2056" y="1225" width="21" height="21" fill="#a0509c"/>
<rect x="2077" y="1225" width="22" height="21" fill="#b05c98"/>
<rect x="2099" y="1225" width="22" height="21" fill="#bc5c8c"/>
<rect x="2121" y="1225" width="21" height="21" fill="#c04874"/>
<rect x="2142" y="1225" width="22" height="21" fill="#c03c68"/>
<rect x="2164" y="1225" width="22" height="21" fill="#c03864"/>
<rect x="2186" y="1225" width="21" height="21" fill="#c03460"/>
<rect x="2207" y="1225" width="44" height="21" fill="#c0305c"/>
<rect x="2251" y="1225" width="43" height="21" fill="#c02c58"/>
<rect x="2294" y="1225" width="22" height="21" fill="#c02854"/>
<rect x="1752" y="1246" width="21" height="22" fill="#66149a"/>
<rect x="1773" y="1246" width="22" height="22" fill="#701c9a"/>
<rect x="1817" y="1246" width="22" height="22" fill="#701c9a"/>
<rect x="1839" y="1246" width="21" height="22" fill="#66149a"/>
<rect x="1860" y="1246" width="22" height="22" fill="#701c9a"/>
<rect x="1904" y="1246" width="86" height="22" fill="#92409a"/>
<rect x="1990" y="1246" width="66" height="22" fill="#9e4a9c"/>
<rect x="2056" y="1246" width="21" height="22" fill="#94409c"/>
<rect x="2077" y="1246" width="22" height="22" fill="#a8549c"/>
<rect x="2099" y="1246" width="22" height="22" fill="#b86094"/>
<rect x="2121" y="1246" width="21" height="22" fill="#c05480"/>
<rect x="2142" y="1246" width="22" height="22" fill="#c04874"/>
<rect x="2164" y="1246" width="22" height="22" fill="#c04470"/>
<rect x="2186" y="1246" width="21" height="22" fill="#c0406c"/>
<rect x="2207" y="1246" width="44" height="22" fill="#c03c68"/>
<rect x="2251" y="1246" width="22" height="22" fill="#c03864"/>
<rect x="2273" y="1246" width="21" height="22" fill="#c03460"/>
<rect x="2294" y="1246" width="22" height="22" fill="#bc3060"/>
<rect x="1730.5" y="53.5" width="585" height="1214" fill="none" stroke="#000" stroke-opacity="0.13" stroke-width="1"/>
</g>
<g fill="#06001c"><circle cx="590.4" cy="404.3" r="1.45"/><circle cx="568.3" cy="402.5" r="1.45"/><circle cx="546.2" cy="403.5" r="1.45"/><circle cx="525.1" cy="404.3" r="1.45"/><circle cx="503.2" cy="405.3" r="1.45"/><circle cx="481.3" cy="406.3" r="1.45"/><circle cx="459.4" cy="408.3" r="1.45"/><circle cx="445.4" cy="411.3" r="1.45"/><circle cx="438.3" cy="415.3" r="1.45"/><circle cx="415.7" cy="433.4" r="1.45"/><circle cx="417.7" cy="433.4" r="1.45"/><circle cx="394.3" cy="447.3" r="1.45"/><circle cx="377.2" cy="454.3" r="1.45"/><circle cx="373.2" cy="458.3" r="1.45"/><circle cx="363.2" cy="476.2" r="1.45"/><circle cx="367.4" cy="498.3" r="1.45"/><circle cx="373.2" cy="507.6" r="1.45"/><circle cx="394.3" cy="515.1" r="1.45"/><circle cx="397.4" cy="519.4" r="1.45"/><circle cx="394.3" cy="526.2" r="1.45"/><circle cx="373.2" cy="530.2" r="1.45"/><circle cx="351.3" cy="535.2" r="1.45"/><circle cx="329.2" cy="538.3" r="1.45"/><circle cx="317.2" cy="541.3" r="1.45"/><circle cx="307.9" cy="544.3" r="1.45"/><circle cx="286.2" cy="549.3" r="1.45"/><circle cx="264.1" cy="553.3" r="1.45"/><circle cx="254.1" cy="563.4" r="1.45"/><circle cx="252.3" cy="585.3" r="1.45"/><circle cx="247.3" cy="606.2" r="1.45"/><circle cx="264.1" cy="619.5" r="1.45"/><circle cx="286.2" cy="624.3" r="1.45"/><circle cx="307.9" cy="627.3" r="1.45"/><circle cx="328.0" cy="628.3" r="1.45"/><circle cx="330.0" cy="628.3" r="1.45"/><circle cx="351.3" cy="629.3" r="1.45"/><circle cx="373.2" cy="630.3" r="1.45"/><circle cx="394.3" cy="631.3" r="1.45"/><circle cx="416.5" cy="634.3" r="1.45"/><circle cx="438.3" cy="632.3" r="1.45"/><circle cx="454.4" cy="628.3" r="1.45"/><circle cx="459.4" cy="627.3" r="1.45"/><circle cx="481.3" cy="624.3" r="1.45"/><circle cx="484.3" cy="628.3" r="1.45"/><circle cx="497.2" cy="650.2" r="1.45"/><circle cx="503.2" cy="662.2" r="1.45"/><circle cx="519.3" cy="671.3" r="1.45"/><circle cx="525.3" cy="673.5" r="1.45"/><circle cx="546.2" cy="689.4" r="1.45"/><circle cx="551.2" cy="693.4" r="1.45"/><circle cx="565.3" cy="715.3" r="1.45"/><circle cx="568.3" cy="718.3" r="1.45"/><circle cx="590.4" cy="727.3" r="1.45"/><circle cx="590.4" cy="764.3" r="1.45"/><circle cx="586.4" cy="780.4" r="1.45"/><circle cx="568.3" cy="790.2" r="1.45"/><circle cx="546.2" cy="796.3" r="1.45"/><circle cx="537.1" cy="802.3" r="1.45"/><circle cx="526.3" cy="823.2" r="1.45"/><circle cx="525.1" cy="827.4" r="1.45"/><circle cx="517.3" cy="845.3" r="1.45"/><circle cx="510.2" cy="867.4" r="1.45"/><circle cx="503.2" cy="877.2" r="1.45"/><circle cx="497.2" cy="888.3" r="1.45"/><circle cx="489.1" cy="910.4" r="1.45"/><circle cx="481.3" cy="918.4" r="1.45"/><circle cx="459.4" cy="917.4" r="1.45"/><circle cx="438.3" cy="914.2" r="1.45"/><circle cx="416.5" cy="920.5" r="1.45"/><circle cx="372.0" cy="910.4" r="1.45"/><circle cx="373.2" cy="913.4" r="1.45"/><circle cx="349.3" cy="888.3" r="1.45"/><circle cx="351.9" cy="890.3" r="1.45"/><circle cx="329.2" cy="878.2" r="1.45"/><circle cx="307.9" cy="867.4" r="1.45"/><circle cx="286.2" cy="877.2" r="1.45"/><circle cx="272.2" cy="888.3" r="1.45"/><circle cx="264.1" cy="898.3" r="1.45"/><circle cx="253.1" cy="910.4" r="1.45"/><circle cx="416.5" cy="922.3" r="1.45"/><circle cx="394.3" cy="931.3" r="1.45"/><circle cx="260.1" cy="932.3" r="1.45"/><circle cx="264.1" cy="939.4" r="1.45"/><circle cx="286.2" cy="947.4" r="1.45"/><circle cx="307.9" cy="950.4" r="1.45"/><circle cx="329.2" cy="948.4" r="1.45"/><circle cx="351.3" cy="945.4" r="1.45"/><circle cx="358.4" cy="953.4" r="1.45"/><circle cx="351.3" cy="957.5" r="1.45"/><circle cx="329.2" cy="958.2" r="1.45"/><circle cx="307.9" cy="961.2" r="1.45"/><circle cx="286.2" cy="966.2" r="1.45"/><circle cx="264.1" cy="971.3" r="1.45"/><circle cx="261.1" cy="975.3" r="1.45"/><circle cx="254.1" cy="997.2" r="1.45"/><circle cx="258.1" cy="1018.3" r="1.45"/><circle cx="263.1" cy="1040.4" r="1.45"/><circle cx="264.1" cy="1052.2" r="1.45"/><circle cx="265.1" cy="1062.3" r="1.45"/><circle cx="266.1" cy="1084.4" r="1.45"/><circle cx="270.2" cy="1105.3" r="1.45"/><circle cx="276.2" cy="1127.2" r="1.45"/><circle cx="286.2" cy="1148.8" r="1.45"/><circle cx="307.9" cy="1165.1" r="1.45"/><circle cx="329.2" cy="1164.1" r="1.45"/><circle cx="351.3" cy="1164.1" r="1.45"/><circle cx="361.2" cy="1170.2" r="1.45"/><circle cx="366.2" cy="1192.3" r="1.45"/><circle cx="373.2" cy="1210.4" r="1.45"/><circle cx="374.5" cy="1214.4" r="1.45"/><circle cx="385.0" cy="1235.3" r="1.45"/><circle cx="394.3" cy="1249.3" r="1.45"/><circle cx="399.4" cy="1257.4" r="1.45"/></g>
<g fill="#06001c"><circle cx="1448.4" cy="404.3" r="1.45"/><circle cx="1426.3" cy="402.5" r="1.45"/><circle cx="1404.2" cy="403.5" r="1.45"/><circle cx="1383.1" cy="404.3" r="1.45"/><circle cx="1361.2" cy="405.3" r="1.45"/><circle cx="1339.3" cy="406.3" r="1.45"/><circle cx="1317.4" cy="408.3" r="1.45"/><circle cx="1303.4" cy="411.3" r="1.45"/><circle cx="1296.3" cy="415.3" r="1.45"/><circle cx="1273.7" cy="433.4" r="1.45"/><circle cx="1275.7" cy="433.4" r="1.45"/><circle cx="1252.3" cy="447.3" r="1.45"/><circle cx="1235.2" cy="454.3" r="1.45"/><circle cx="1231.2" cy="458.3" r="1.45"/><circle cx="1221.2" cy="476.2" r="1.45"/><circle cx="1225.4" cy="498.3" r="1.45"/><circle cx="1231.2" cy="507.6" r="1.45"/><circle cx="1252.3" cy="515.1" r="1.45"/><circle cx="1255.4" cy="519.4" r="1.45"/><circle cx="1252.3" cy="526.2" r="1.45"/><circle cx="1231.2" cy="530.2" r="1.45"/><circle cx="1209.3" cy="535.2" r="1.45"/><circle cx="1187.2" cy="538.3" r="1.45"/><circle cx="1175.2" cy="541.3" r="1.45"/><circle cx="1165.9" cy="544.3" r="1.45"/><circle cx="1144.2" cy="549.3" r="1.45"/><circle cx="1122.1" cy="553.3" r="1.45"/><circle cx="1112.1" cy="563.4" r="1.45"/><circle cx="1110.3" cy="585.3" r="1.45"/><circle cx="1105.3" cy="606.2" r="1.45"/><circle cx="1122.1" cy="619.5" r="1.45"/><circle cx="1144.2" cy="624.3" r="1.45"/><circle cx="1165.9" cy="627.3" r="1.45"/><circle cx="1186.0" cy="628.3" r="1.45"/><circle cx="1188.0" cy="628.3" r="1.45"/><circle cx="1209.3" cy="629.3" r="1.45"/><circle cx="1231.2" cy="630.3" r="1.45"/><circle cx="1252.3" cy="631.3" r="1.45"/><circle cx="1274.5" cy="634.3" r="1.45"/><circle cx="1296.3" cy="632.3" r="1.45"/><circle cx="1312.4" cy="628.3" r="1.45"/><circle cx="1317.4" cy="627.3" r="1.45"/><circle cx="1339.3" cy="624.3" r="1.45"/><circle cx="1342.3" cy="628.3" r="1.45"/><circle cx="1355.2" cy="650.2" r="1.45"/><circle cx="1361.2" cy="662.2" r="1.45"/><circle cx="1377.3" cy="671.3" r="1.45"/><circle cx="1383.3" cy="673.5" r="1.45"/><circle cx="1404.2" cy="689.4" r="1.45"/><circle cx="1409.2" cy="693.4" r="1.45"/><circle cx="1423.3" cy="715.3" r="1.45"/><circle cx="1426.3" cy="718.3" r="1.45"/><circle cx="1448.4" cy="727.3" r="1.45"/><circle cx="1448.4" cy="764.3" r="1.45"/><circle cx="1444.4" cy="780.4" r="1.45"/><circle cx="1426.3" cy="790.2" r="1.45"/><circle cx="1404.2" cy="796.3" r="1.45"/><circle cx="1395.1" cy="802.3" r="1.45"/><circle cx="1384.3" cy="823.2" r="1.45"/><circle cx="1383.1" cy="827.4" r="1.45"/><circle cx="1375.3" cy="845.3" r="1.45"/><circle cx="1368.2" cy="867.4" r="1.45"/><circle cx="1361.2" cy="877.2" r="1.45"/><circle cx="1355.2" cy="888.3" r="1.45"/><circle cx="1347.1" cy="910.4" r="1.45"/><circle cx="1339.3" cy="918.4" r="1.45"/><circle cx="1317.4" cy="917.4" r="1.45"/><circle cx="1296.3" cy="914.2" r="1.45"/><circle cx="1274.5" cy="920.5" r="1.45"/><circle cx="1230.0" cy="910.4" r="1.45"/><circle cx="1231.2" cy="913.4" r="1.45"/><circle cx="1207.3" cy="888.3" r="1.45"/><circle cx="1209.9" cy="890.3" r="1.45"/><circle cx="1187.2" cy="878.2" r="1.45"/><circle cx="1165.9" cy="867.4" r="1.45"/><circle cx="1144.2" cy="877.2" r="1.45"/><circle cx="1130.2" cy="888.3" r="1.45"/><circle cx="1122.1" cy="898.3" r="1.45"/><circle cx="1111.1" cy="910.4" r="1.45"/><circle cx="1274.5" cy="922.3" r="1.45"/><circle cx="1252.3" cy="931.3" r="1.45"/><circle cx="1118.1" cy="932.3" r="1.45"/><circle cx="1122.1" cy="939.4" r="1.45"/><circle cx="1144.2" cy="947.4" r="1.45"/><circle cx="1165.9" cy="950.4" r="1.45"/><circle cx="1187.2" cy="948.4" r="1.45"/><circle cx="1209.3" cy="945.4" r="1.45"/><circle cx="1216.4" cy="953.4" r="1.45"/><circle cx="1209.3" cy="957.5" r="1.45"/><circle cx="1187.2" cy="958.2" r="1.45"/><circle cx="1165.9" cy="961.2" r="1.45"/><circle cx="1144.2" cy="966.2" r="1.45"/><circle cx="1122.1" cy="971.3" r="1.45"/><circle cx="1119.1" cy="975.3" r="1.45"/><circle cx="1112.1" cy="997.2" r="1.45"/><circle cx="1116.1" cy="1018.3" r="1.45"/><circle cx="1121.1" cy="1040.4" r="1.45"/><circle cx="1122.1" cy="1052.2" r="1.45"/><circle cx="1123.1" cy="1062.3" r="1.45"/><circle cx="1124.1" cy="1084.4" r="1.45"/><circle cx="1128.2" cy="1105.3" r="1.45"/><circle cx="1134.2" cy="1127.2" r="1.45"/><circle cx="1144.2" cy="1148.8" r="1.45"/><circle cx="1165.9" cy="1165.1" r="1.45"/><circle cx="1187.2" cy="1164.1" r="1.45"/><circle cx="1209.3" cy="1164.1" r="1.45"/><circle cx="1219.2" cy="1170.2" r="1.45"/><circle cx="1224.2" cy="1192.3" r="1.45"/><circle cx="1231.2" cy="1210.4" r="1.45"/><circle cx="1232.5" cy="1214.4" r="1.45"/><circle cx="1243.0" cy="1235.3" r="1.45"/><circle cx="1252.3" cy="1249.3" r="1.45"/><circle cx="1257.4" cy="1257.4" r="1.45"/></g>
<g fill="#06001c"><circle cx="2305.4" cy="404.3" r="1.45"/><circle cx="2283.3" cy="402.5" r="1.45"/><circle cx="2261.2" cy="403.5" r="1.45"/><circle cx="2240.1" cy="404.3" r="1.45"/><circle cx="2218.2" cy="405.3" r="1.45"/><circle cx="2196.3" cy="406.3" r="1.45"/><circle cx="2174.4" cy="408.3" r="1.45"/><circle cx="2160.4" cy="411.3" r="1.45"/><circle cx="2153.3" cy="415.3" r="1.45"/><circle cx="2130.7" cy="433.4" r="1.45"/><circle cx="2132.7" cy="433.4" r="1.45"/><circle cx="2109.3" cy="447.3" r="1.45"/><circle cx="2092.2" cy="454.3" r="1.45"/><circle cx="2088.2" cy="458.3" r="1.45"/><circle cx="2078.2" cy="476.2" r="1.45"/><circle cx="2082.4" cy="498.3" r="1.45"/><circle cx="2088.2" cy="507.6" r="1.45"/><circle cx="2109.3" cy="515.1" r="1.45"/><circle cx="2112.4" cy="519.4" r="1.45"/><circle cx="2109.3" cy="526.2" r="1.45"/><circle cx="2088.2" cy="530.2" r="1.45"/><circle cx="2066.3" cy="535.2" r="1.45"/><circle cx="2044.2" cy="538.3" r="1.45"/><circle cx="2032.2" cy="541.3" r="1.45"/><circle cx="2022.9" cy="544.3" r="1.45"/><circle cx="2001.2" cy="549.3" r="1.45"/><circle cx="1979.1" cy="553.3" r="1.45"/><circle cx="1969.1" cy="563.4" r="1.45"/><circle cx="1967.3" cy="585.3" r="1.45"/><circle cx="1962.3" cy="606.2" r="1.45"/><circle cx="1979.1" cy="619.5" r="1.45"/><circle cx="2001.2" cy="624.3" r="1.45"/><circle cx="2022.9" cy="627.3" r="1.45"/><circle cx="2043.0" cy="628.3" r="1.45"/><circle cx="2045.0" cy="628.3" r="1.45"/><circle cx="2066.3" cy="629.3" r="1.45"/><circle cx="2088.2" cy="630.3" r="1.45"/><circle cx="2109.3" cy="631.3" r="1.45"/><circle cx="2131.5" cy="634.3" r="1.45"/><circle cx="2153.3" cy="632.3" r="1.45"/><circle cx="2169.4" cy="628.3" r="1.45"/><circle cx="2174.4" cy="627.3" r="1.45"/><circle cx="2196.3" cy="624.3" r="1.45"/><circle cx="2199.3" cy="628.3" r="1.45"/><circle cx="2212.2" cy="650.2" r="1.45"/><circle cx="2218.2" cy="662.2" r="1.45"/><circle cx="2234.3" cy="671.3" r="1.45"/><circle cx="2240.3" cy="673.5" r="1.45"/><circle cx="2261.2" cy="689.4" r="1.45"/><circle cx="2266.2" cy="693.4" r="1.45"/><circle cx="2280.3" cy="715.3" r="1.45"/><circle cx="2283.3" cy="718.3" r="1.45"/><circle cx="2305.4" cy="727.3" r="1.45"/><circle cx="2305.4" cy="764.3" r="1.45"/><circle cx="2301.4" cy="780.4" r="1.45"/><circle cx="2283.3" cy="790.2" r="1.45"/><circle cx="2261.2" cy="796.3" r="1.45"/><circle cx="2252.1" cy="802.3" r="1.45"/><circle cx="2241.3" cy="823.2" r="1.45"/><circle cx="2240.1" cy="827.4" r="1.45"/><circle cx="2232.3" cy="845.3" r="1.45"/><circle cx="2225.2" cy="867.4" r="1.45"/><circle cx="2218.2" cy="877.2" r="1.45"/><circle cx="2212.2" cy="888.3" r="1.45"/><circle cx="2204.1" cy="910.4" r="1.45"/><circle cx="2196.3" cy="918.4" r="1.45"/><circle cx="2174.4" cy="917.4" r="1.45"/><circle cx="2153.3" cy="914.2" r="1.45"/><circle cx="2131.5" cy="920.5" r="1.45"/><circle cx="2087.0" cy="910.4" r="1.45"/><circle cx="2088.2" cy="913.4" r="1.45"/><circle cx="2064.3" cy="888.3" r="1.45"/><circle cx="2066.9" cy="890.3" r="1.45"/><circle cx="2044.2" cy="878.2" r="1.45"/><circle cx="2022.9" cy="867.4" r="1.45"/><circle cx="2001.2" cy="877.2" r="1.45"/><circle cx="1987.2" cy="888.3" r="1.45"/><circle cx="1979.1" cy="898.3" r="1.45"/><circle cx="1968.1" cy="910.4" r="1.45"/><circle cx="2131.5" cy="922.3" r="1.45"/><circle cx="2109.3" cy="931.3" r="1.45"/><circle cx="1975.1" cy="932.3" r="1.45"/><circle cx="1979.1" cy="939.4" r="1.45"/><circle cx="2001.2" cy="947.4" r="1.45"/><circle cx="2022.9" cy="950.4" r="1.45"/><circle cx="2044.2" cy="948.4" r="1.45"/><circle cx="2066.3" cy="945.4" r="1.45"/><circle cx="2073.4" cy="953.4" r="1.45"/><circle cx="2066.3" cy="957.5" r="1.45"/><circle cx="2044.2" cy="958.2" r="1.45"/><circle cx="2022.9" cy="961.2" r="1.45"/><circle cx="2001.2" cy="966.2" r="1.45"/><circle cx="1979.1" cy="971.3" r="1.45"/><circle cx="1976.1" cy="975.3" r="1.45"/><circle cx="1969.1" cy="997.2" r="1.45"/><circle cx="1973.1" cy="1018.3" r="1.45"/><circle cx="1978.1" cy="1040.4" r="1.45"/><circle cx="1979.1" cy="1052.2" r="1.45"/><circle cx="1980.1" cy="1062.3" r="1.45"/><circle cx="1981.1" cy="1084.4" r="1.45"/><circle cx="1985.2" cy="1105.3" r="1.45"/><circle cx="1991.2" cy="1127.2" r="1.45"/><circle cx="2001.2" cy="1148.8" r="1.45"/><circle cx="2022.9" cy="1165.1" r="1.45"/><circle cx="2044.2" cy="1164.1" r="1.45"/><circle cx="2066.3" cy="1164.1" r="1.45"/><circle cx="2076.2" cy="1170.2" r="1.45"/><circle cx="2081.2" cy="1192.3" r="1.45"/><circle cx="2088.2" cy="1210.4" r="1.45"/><circle cx="2089.5" cy="1214.4" r="1.45"/><circle cx="2100.0" cy="1235.3" r="1.45"/><circle cx="2109.3" cy="1249.3" r="1.45"/><circle cx="2114.4" cy="1257.4" r="1.45"/></g>
</svg>
<div class="t" style="left:15px;transform:scaleX(1.11)">sar0389</div>
<div class="t" style="left:873px;transform:scaleX(1.135)">2001-12-07-09-54-41</div>
<div class="t" style="left:1730px;transform:scaleX(1.0)">L7</div>
<div style="position:absolute;left:1468px;top:0;width:262px;height:1283px;overflow:hidden"><div class="l" style="top:677.5px;transform:scaleX(1.045);word-spacing:2px">sand</div>
<div class="l" style="top:707.5px;transform:scaleX(1.1);word-spacing:2px">whitewater</div>
<div class="l" style="top:738.5px;transform:scaleX(1.095);word-spacing:2px">water</div>
<div class="l" style="top:768.5px;transform:scaleX(1.07);word-spacing:2px">shoreline</div>
<div class="l" style="top:798.5px;transform:scaleX(1.065);word-spacing:2px">reference shoreline</div>
</div></body></html>
